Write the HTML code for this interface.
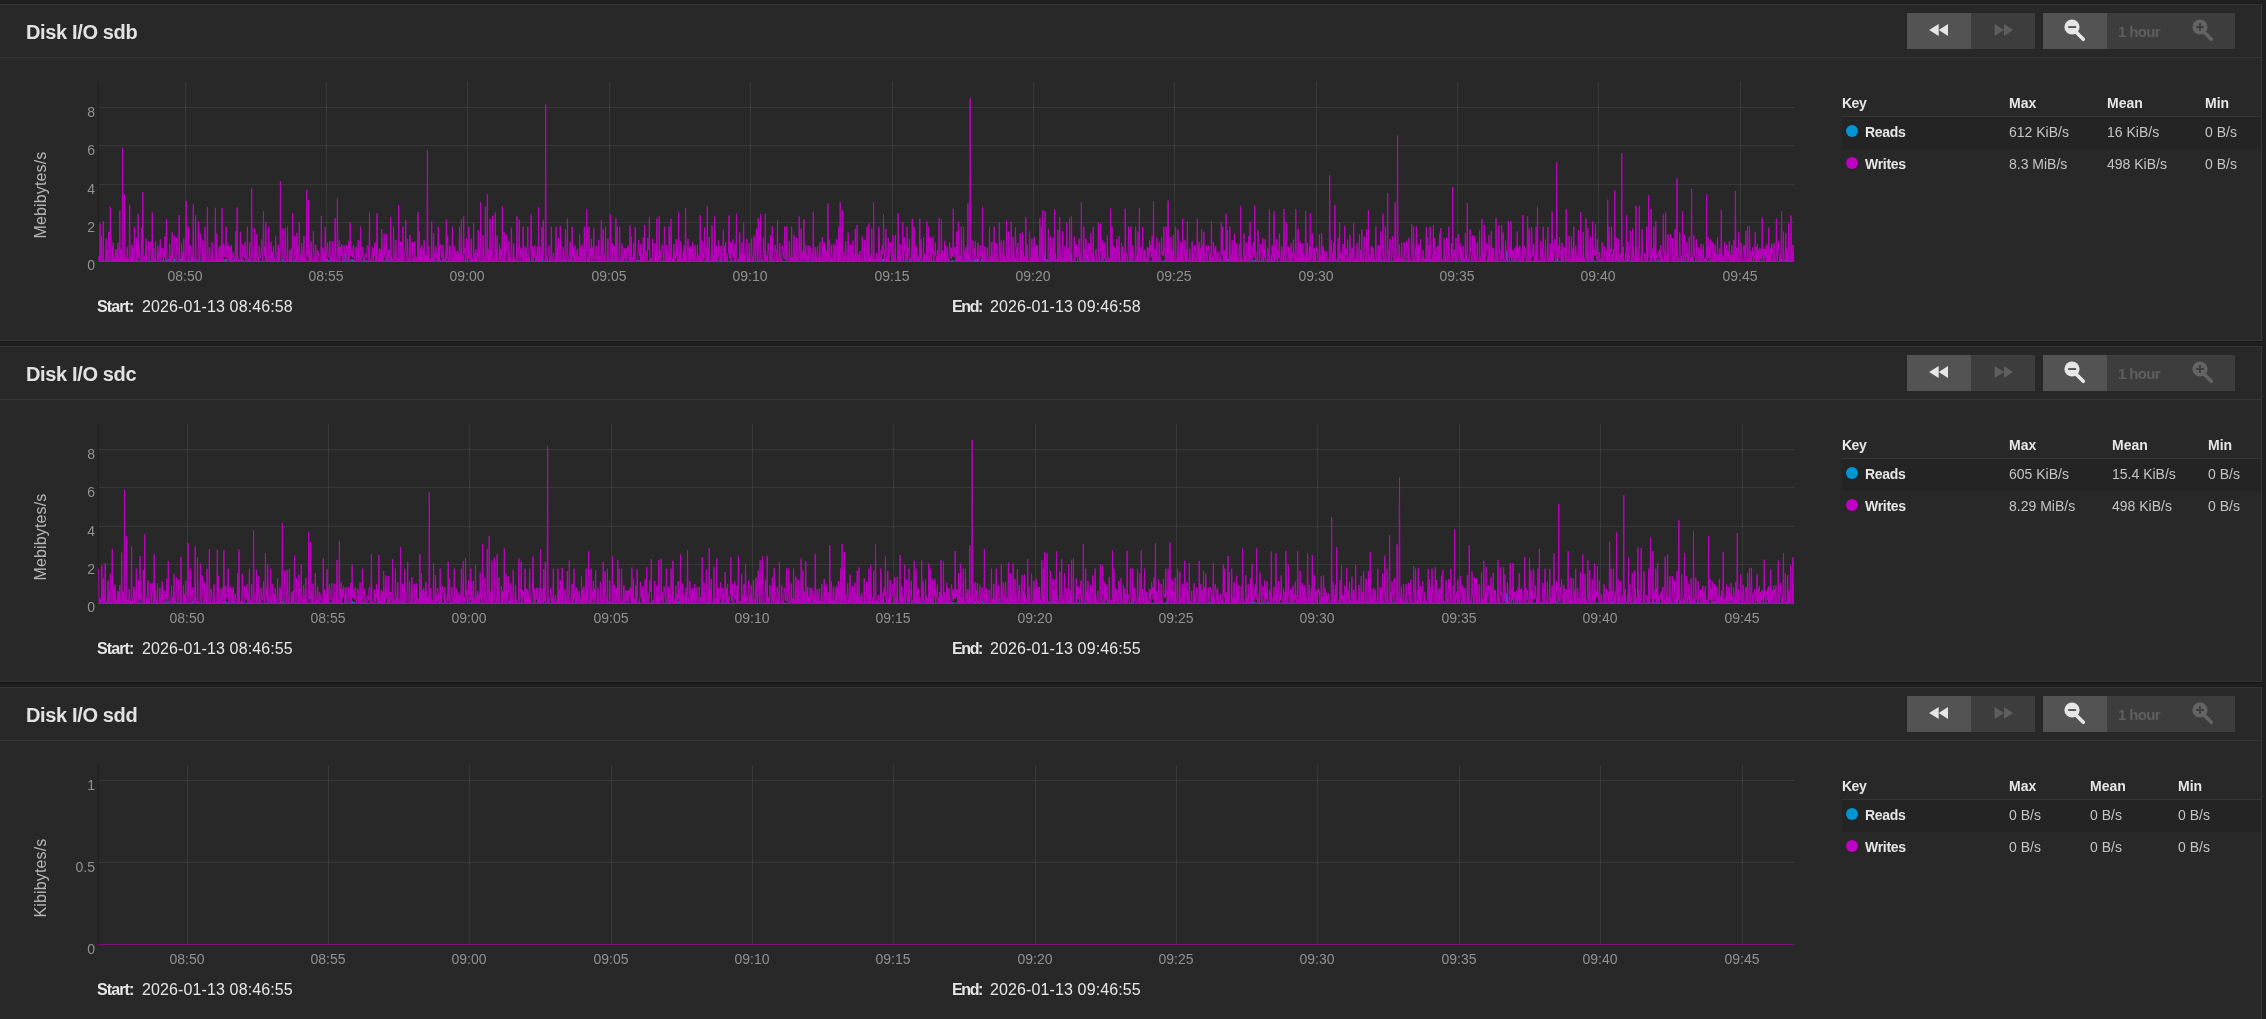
<!DOCTYPE html><html><head><meta charset="utf-8"><style>
html,body{margin:0;padding:0;}
body{-webkit-font-smoothing:antialiased;width:2266px;height:1019px;overflow:hidden;background:#1f1f1f;position:relative;font-family:"Liberation Sans", Arial, sans-serif;}
.t{position:absolute;white-space:nowrap;will-change:transform;}
.card{position:absolute;left:-10px;width:2270px;height:335px;background:#282828;border:1px solid #363636;box-shadow:0 1px 0 #141414,0 -1px 0 #1c1c1c;}
.hr{position:absolute;height:1px;background:#363636;}
.btn{position:absolute;height:36px;}
svg{position:absolute;overflow:visible;}

</style></head><body>
<div class="card" style="top:4px;height:335px"></div>
<div class="hr" style="left:0;width:2261px;top:57px"></div>
<div class="t" style="left:25.90px;top:22.07px;font-size:20px;line-height:20px;font-weight:bold;color:#e2e2e2;letter-spacing:-0.36px;">Disk I/O sdb</div>
<div class="btn" style="left:1907px;top:13px;width:64px;background:#535353"></div>
<div class="btn" style="left:1971px;top:13px;width:64px;background:#3d3d3d"></div>
<div class="btn" style="left:2043px;top:13px;width:64px;background:#535353"></div>
<div class="btn" style="left:2107px;top:13px;width:128px;background:#3d3d3d"></div>
<svg style="left:0;top:13px" width="2266" height="36" viewBox="0 13 2266 36"><path d="M1929.1 30L1938.7 24V36Z M1938.8 30L1948 24V36Z" fill="#e6e6e6"/><path d="M1994.6 24V36L2004 30Z M2004 24V36L2013.2 30Z" fill="#5e5e5e"/><line x1="2076" y1="32" x2="2083.3" y2="39.3" stroke="#e6e6e6" stroke-width="3.6" stroke-linecap="round"/><circle cx="2072" cy="27" r="7.6" fill="#e6e6e6"/><rect x="2068.2" y="26.1" width="7.9" height="1.9" fill="#535353"/><line x1="2204" y1="32" x2="2211.3" y2="39.3" stroke="#646464" stroke-width="3.6" stroke-linecap="round"/><circle cx="2200" cy="27" r="7.6" fill="#646464"/><rect x="2196.1" y="26.1" width="7.9" height="1.9" fill="#3d3d3d"/><rect x="2199.05" y="23.1" width="1.9" height="7.9" fill="#3d3d3d"/></svg>
<div class="t" style="left:1939.00px;width:400px;text-align:center;top:24.30px;font-size:15px;line-height:15px;font-weight:bold;color:#5e5e5e;letter-spacing:-0.6px;">1 hour</div>
<svg style="left:0;top:0" width="2266" height="1019" viewBox="0 0 2266 1019"><line x1="99" y1="222.5" x2="1795" y2="222.5" stroke="rgba(255,255,255,0.08)" stroke-width="1"/><line x1="99" y1="184.5" x2="1795" y2="184.5" stroke="rgba(255,255,255,0.08)" stroke-width="1"/><line x1="99" y1="145.5" x2="1795" y2="145.5" stroke="rgba(255,255,255,0.08)" stroke-width="1"/><line x1="99" y1="107.5" x2="1795" y2="107.5" stroke="rgba(255,255,255,0.08)" stroke-width="1"/><line x1="185.5" y1="82" x2="185.5" y2="261.8" stroke="rgba(255,255,255,0.08)" stroke-width="1"/><line x1="326.5" y1="82" x2="326.5" y2="261.8" stroke="rgba(255,255,255,0.08)" stroke-width="1"/><line x1="467.5" y1="82" x2="467.5" y2="261.8" stroke="rgba(255,255,255,0.08)" stroke-width="1"/><line x1="609.5" y1="82" x2="609.5" y2="261.8" stroke="rgba(255,255,255,0.08)" stroke-width="1"/><line x1="750.5" y1="82" x2="750.5" y2="261.8" stroke="rgba(255,255,255,0.08)" stroke-width="1"/><line x1="892.5" y1="82" x2="892.5" y2="261.8" stroke="rgba(255,255,255,0.08)" stroke-width="1"/><line x1="1033.5" y1="82" x2="1033.5" y2="261.8" stroke="rgba(255,255,255,0.08)" stroke-width="1"/><line x1="1174.5" y1="82" x2="1174.5" y2="261.8" stroke="rgba(255,255,255,0.08)" stroke-width="1"/><line x1="1316.5" y1="82" x2="1316.5" y2="261.8" stroke="rgba(255,255,255,0.08)" stroke-width="1"/><line x1="1457.5" y1="82" x2="1457.5" y2="261.8" stroke="rgba(255,255,255,0.08)" stroke-width="1"/><line x1="1598.5" y1="82" x2="1598.5" y2="261.8" stroke="rgba(255,255,255,0.08)" stroke-width="1"/><line x1="1740.5" y1="82" x2="1740.5" y2="261.8" stroke="rgba(255,255,255,0.08)" stroke-width="1"/><line x1="98.5" y1="82" x2="98.5" y2="261.8" stroke="#202020" stroke-width="1"/><polyline points="98.6,261.3 99.0,261.3 99.5,261.3 100.0,261.3 100.4,261.3 100.9,261.3 101.4,261.3 101.9,261.3 102.3,261.3 102.8,261.3 103.3,261.3 103.7,261.3 104.2,261.3 104.7,261.3 105.2,261.3 105.6,261.3 106.1,261.3 106.6,260.0 107.0,261.3 107.5,261.2 108.0,261.3 108.5,261.3 108.9,261.3 109.4,261.3 109.9,261.3 110.3,261.3 110.8,261.3 111.3,261.3 111.8,261.3 112.2,261.3 112.7,261.3 113.2,261.3 113.6,261.3 114.1,261.3 114.6,261.3 115.0,261.3 115.5,261.3 116.0,261.3 116.5,261.3 116.9,261.3 117.4,261.3 117.9,261.3 118.3,261.3 118.8,261.3 119.3,261.3 119.8,261.3 120.2,261.3 120.7,261.3 121.2,261.0 121.6,261.3 122.1,261.3 122.6,261.3 123.1,261.3 123.5,261.3 124.0,261.3 124.5,261.3 124.9,261.3 125.4,261.3 125.9,261.3 126.4,261.3 126.8,261.3 127.3,261.3 127.8,261.3 128.2,261.3 128.7,260.2 129.2,261.3 129.7,261.3 130.1,261.3 130.6,261.3 131.1,259.4 131.5,261.3 132.0,261.3 132.5,261.3 133.0,261.3 133.4,261.3 133.9,261.3 134.4,261.3 134.8,261.3 135.3,261.3 135.8,261.3 136.3,261.3 136.7,261.3 137.2,261.3 137.7,261.3 138.1,261.3 138.6,261.3 139.1,261.3 139.5,261.3 140.0,261.3 140.5,261.3 141.0,261.3 141.4,261.3 141.9,261.3 142.4,261.0 142.8,261.3 143.3,261.3 143.8,261.3 144.3,261.3 144.7,261.3 145.2,261.3 145.7,261.3 146.1,261.3 146.6,261.3 147.1,261.3 147.6,259.7 148.0,261.3 148.5,261.3 149.0,261.3 149.4,261.3 149.9,261.3 150.4,261.3 150.9,261.3 151.3,261.3 151.8,261.3 152.3,261.3 152.7,261.3 153.2,261.3 153.7,261.3 154.2,261.3 154.6,261.3 155.1,261.3 155.6,261.3 156.0,261.3 156.5,261.3 157.0,261.3 157.5,261.3 157.9,261.3 158.4,261.3 158.9,261.3 159.3,261.3 159.8,261.3 160.3,261.3 160.8,261.3 161.2,261.3 161.7,261.3 162.2,261.3 162.6,260.2 163.1,261.3 163.6,261.3 164.0,261.3 164.5,261.3 165.0,261.3 165.5,261.3 165.9,261.3 166.4,261.3 166.9,260.1 167.3,261.3 167.8,261.3 168.3,261.3 168.8,261.3 169.2,259.3 169.7,261.3 170.2,261.3 170.6,261.3 171.1,261.3 171.6,261.3 172.1,261.3 172.5,261.3 173.0,261.3 173.5,261.3 173.9,261.3 174.4,259.3 174.9,261.3 175.4,261.3 175.8,261.3 176.3,261.3 176.8,261.3 177.2,261.3 177.7,261.3 178.2,261.3 178.7,261.3 179.1,261.3 179.6,261.3 180.1,260.3 180.5,261.3 181.0,259.1 181.5,261.3 182.0,261.3 182.4,261.3 182.9,261.3 183.4,261.3 183.8,261.3 184.3,261.3 184.8,261.3 185.3,261.3 185.7,261.3 186.2,261.3 186.7,261.3 187.1,261.3 187.6,261.3 188.1,261.3 188.6,261.3 189.0,261.3 189.5,261.3 190.0,261.3 190.4,261.3 190.9,261.3 191.4,260.4 191.8,261.3 192.3,259.6 192.8,261.3 193.3,261.3 193.7,261.3 194.2,261.3 194.7,261.3 195.1,261.3 195.6,261.3 196.1,259.8 196.6,261.3 197.0,261.3 197.5,261.3 198.0,261.3 198.4,259.8 198.9,261.3 199.4,261.3 199.9,261.3 200.3,261.3 200.8,261.3 201.3,261.3 201.7,261.3 202.2,261.3 202.7,261.3 203.2,261.3 203.6,261.3 204.1,261.3 204.6,261.3 205.0,261.3 205.5,261.3 206.0,261.3 206.5,261.3 206.9,261.3 207.4,261.3 207.9,261.3 208.3,261.3 208.8,261.3 209.3,261.3 209.8,261.3 210.2,261.3 210.7,261.3 211.2,261.3 211.6,261.3 212.1,261.3 212.6,261.3 213.1,261.3 213.5,261.3 214.0,261.3 214.5,261.3 214.9,261.3 215.4,261.3 215.9,261.3 216.3,261.3 216.8,261.3 217.3,261.3 217.8,261.3 218.2,261.3 218.7,261.3 219.2,261.3 219.6,261.3 220.1,261.3 220.6,261.3 221.1,261.3 221.5,261.3 222.0,261.3 222.5,261.3 222.9,261.3 223.4,261.3 223.9,259.7 224.4,261.3 224.8,260.7 225.3,261.3 225.8,259.4 226.2,261.3 226.7,261.3 227.2,261.3 227.7,261.3 228.1,261.3 228.6,261.3 229.1,261.3 229.5,261.3 230.0,261.3 230.5,261.3 231.0,261.3 231.4,261.3 231.9,261.3 232.4,261.3 232.8,260.8 233.3,260.4 233.8,261.3 234.3,259.4 234.7,261.3 235.2,261.3 235.7,261.3 236.1,261.3 236.6,261.3 237.1,261.3 237.6,261.3 238.0,261.3 238.5,261.3 239.0,261.3 239.4,261.3 239.9,261.3 240.4,261.3 240.8,261.3 241.3,261.3 241.8,259.5 242.3,261.1 242.7,261.3 243.2,261.3 243.7,261.3 244.1,261.3 244.6,261.3 245.1,261.3 245.6,261.3 246.0,261.3 246.5,261.3 247.0,261.3 247.4,261.3 247.9,261.3 248.4,261.3 248.9,261.3 249.3,261.3 249.8,261.3 250.3,261.3 250.7,261.3 251.2,261.3 251.7,261.3 252.2,261.3 252.6,261.3 253.1,261.3 253.6,261.3 254.0,261.3 254.5,261.3 255.0,261.3 255.5,261.3 255.9,261.3 256.4,261.3 256.9,261.3 257.3,261.3 257.8,261.3 258.3,261.3 258.8,261.3 259.2,261.3 259.7,261.3 260.2,261.3 260.6,261.3 261.1,261.3 261.6,261.3 262.1,261.3 262.5,261.3 263.0,261.3 263.5,261.3 263.9,261.3 264.4,261.3 264.9,261.3 265.4,261.3 265.8,261.3 266.3,261.3 266.8,261.3 267.2,261.3 267.7,261.3 268.2,261.3 268.6,261.3 269.1,261.3 269.6,261.3 270.1,261.3 270.5,261.3 271.0,260.5 271.5,261.3 271.9,261.3 272.4,261.3 272.9,261.3 273.4,261.3 273.8,261.3 274.3,261.3 274.8,261.3 275.2,261.3 275.7,261.3 276.2,261.3 276.7,261.3 277.1,261.3 277.6,261.3 278.1,261.3 278.5,261.3 279.0,261.3 279.5,261.3 280.0,261.3 280.4,261.3 280.9,261.3 281.4,261.3 281.8,259.1 282.3,261.3 282.8,261.3 283.3,260.6 283.7,261.3 284.2,261.3 284.7,261.3 285.1,261.3 285.6,261.3 286.1,261.3 286.6,261.3 287.0,261.3 287.5,261.3 288.0,261.3 288.4,261.3 288.9,261.3 289.4,261.3 289.9,261.3 290.3,261.3 290.8,261.3 291.3,261.3 291.7,261.3 292.2,261.3 292.7,261.3 293.1,261.3 293.6,261.3 294.1,261.3 294.6,261.0 295.0,261.3 295.5,261.3 296.0,261.3 296.4,261.3 296.9,261.3 297.4,261.3 297.9,261.3 298.3,261.3 298.8,261.3 299.3,261.3 299.7,261.3 300.2,261.3 300.7,261.3 301.2,261.3 301.6,261.3 302.1,261.3 302.6,261.3 303.0,261.3 303.5,261.3 304.0,261.3 304.5,261.3 304.9,261.3 305.4,261.3 305.9,261.3 306.3,261.3 306.8,261.3 307.3,261.3 307.8,261.3 308.2,261.3 308.7,261.3 309.2,261.3 309.6,261.3 310.1,261.3 310.6,261.3 311.1,261.3 311.5,261.3 312.0,261.3 312.5,261.3 312.9,261.3 313.4,261.3 313.9,261.3 314.4,261.3 314.8,261.3 315.3,260.2 315.8,261.3 316.2,261.3 316.7,261.3 317.2,261.3 317.7,261.3 318.1,261.3 318.6,261.3 319.1,261.3 319.5,261.3 320.0,261.3 320.5,261.3 320.9,261.3 321.4,261.3 321.9,261.3 322.4,261.3 322.8,261.3 323.3,261.3 323.8,261.3 324.2,261.3 324.7,261.3 325.2,261.3 325.7,261.3 326.1,261.3 326.6,261.3 327.1,261.3 327.5,259.1 328.0,261.3 328.5,261.3 329.0,261.3 329.4,260.3 329.9,261.3 330.4,261.3 330.8,260.8 331.3,261.3 331.8,261.3 332.3,261.3 332.7,261.0 333.2,261.3 333.7,261.3 334.1,261.3 334.6,261.3 335.1,261.3 335.6,261.3 336.0,261.3 336.5,261.3 337.0,261.3 337.4,261.3 337.9,261.3 338.4,261.3 338.9,261.3 339.3,261.3 339.8,261.3 340.3,261.3 340.7,261.3 341.2,261.3 341.7,261.3 342.2,261.3 342.6,261.3 343.1,261.3 343.6,261.3 344.0,261.3 344.5,261.3 345.0,261.3 345.4,253.6 345.9,261.3 346.4,261.3 346.9,261.3 347.3,261.3 347.8,261.3 348.3,261.3 348.7,261.3 349.2,261.3 349.7,261.3 350.2,261.3 350.6,261.3 351.1,261.3 351.6,261.3 352.0,259.3 352.5,261.3 353.0,261.3 353.5,261.3 353.9,260.0 354.4,261.3 354.9,261.3 355.3,261.3 355.8,261.3 356.3,261.3 356.8,261.3 357.2,261.3 357.7,261.3 358.2,261.3 358.6,261.3 359.1,261.3 359.6,261.3 360.1,261.3 360.5,261.3 361.0,260.7 361.5,261.3 361.9,261.3 362.4,261.3 362.9,261.3 363.4,261.3 363.8,261.3 364.3,261.3 364.8,261.3 365.2,261.3 365.7,261.3 366.2,261.3 366.7,260.3 367.1,261.3 367.6,261.3 368.1,261.3 368.5,261.3 369.0,261.3 369.5,261.3 369.9,261.3 370.4,261.3 370.9,261.3 371.4,261.3 371.8,261.3 372.3,261.3 372.8,261.3 373.2,261.3 373.7,261.3 374.2,261.3 374.7,261.3 375.1,261.0 375.6,261.3 376.1,261.3 376.5,261.3 377.0,261.3 377.5,261.3 378.0,261.3 378.4,261.3 378.9,261.3 379.4,259.3 379.8,261.3 380.3,261.3 380.8,261.3 381.3,261.3 381.7,261.3 382.2,261.3 382.7,261.3 383.1,261.3 383.6,261.3 384.1,261.3 384.6,261.3 385.0,261.3 385.5,260.7 386.0,261.3 386.4,261.3 386.9,261.3 387.4,261.3 387.9,259.6 388.3,261.3 388.8,261.3 389.3,261.3 389.7,261.3 390.2,261.3 390.7,261.3 391.2,261.3 391.6,261.3 392.1,261.3 392.6,261.3 393.0,261.3 393.5,261.3 394.0,261.3 394.5,261.3 394.9,261.3 395.4,261.3 395.9,261.3 396.3,261.3 396.8,261.3 397.3,261.3 397.7,261.3 398.2,261.3 398.7,261.3 399.2,261.3 399.6,259.8 400.1,261.3 400.6,261.3 401.0,261.3 401.5,261.3 402.0,259.7 402.5,261.3 402.9,261.3 403.4,261.3 403.9,261.3 404.3,261.3 404.8,261.3 405.3,261.3 405.8,261.3 406.2,261.3 406.7,261.3 407.2,261.3 407.6,261.3 408.1,261.3 408.6,261.3 409.1,261.3 409.5,261.3 410.0,261.3 410.5,261.3 410.9,260.6 411.4,261.3 411.9,261.3 412.4,261.3 412.8,261.3 413.3,261.3 413.8,260.2 414.2,261.3 414.7,261.3 415.2,261.3 415.7,261.3 416.1,261.0 416.6,261.3 417.1,261.3 417.5,261.0 418.0,261.3 418.5,261.3 419.0,261.3 419.4,261.3 419.9,261.3 420.4,261.3 420.8,250.4 421.3,261.3 421.8,261.3 422.2,261.3 422.7,261.3 423.2,261.3 423.7,261.3 424.1,261.3 424.6,261.3 425.1,261.3 425.5,261.3 426.0,261.3 426.5,261.3 427.0,261.3 427.4,261.0 427.9,260.8 428.4,261.3 428.8,261.3 429.3,261.3 429.8,261.3 430.3,261.3 430.7,261.3 431.2,261.3 431.7,261.3 432.1,261.3 432.6,261.3 433.1,261.3 433.6,261.3 434.0,261.3 434.5,261.3 435.0,261.3 435.4,261.3 435.9,261.3 436.4,261.3 436.9,261.3 437.3,261.3 437.8,261.3 438.3,261.3 438.7,261.3 439.2,261.3 439.7,259.9 440.2,261.3 440.6,261.3 441.1,261.3 441.6,261.3 442.0,261.3 442.5,261.3 443.0,261.3 443.5,261.3 443.9,261.2 444.4,261.3 444.9,261.3 445.3,259.1 445.8,261.3 446.3,261.3 446.7,261.3 447.2,261.3 447.7,261.3 448.2,261.3 448.6,261.3 449.1,261.3 449.6,261.3 450.0,261.3 450.5,261.3 451.0,261.3 451.5,261.3 451.9,261.3 452.4,261.3 452.9,261.3 453.3,261.3 453.8,261.3 454.3,261.3 454.8,261.3 455.2,261.3 455.7,261.3 456.2,261.3 456.6,259.3 457.1,260.7 457.6,261.3 458.1,261.3 458.5,261.3 459.0,261.3 459.5,261.3 459.9,261.3 460.4,261.3 460.9,261.3 461.4,261.3 461.8,261.3 462.3,261.3 462.8,261.3 463.2,261.3 463.7,261.3 464.2,261.3 464.7,261.3 465.1,261.3 465.6,261.3 466.1,261.3 466.5,261.3 467.0,261.3 467.5,261.3 468.0,261.3 468.4,261.3 468.9,261.3 469.4,261.3 469.8,260.1 470.3,261.3 470.8,261.3 471.3,261.3 471.7,261.1 472.2,261.3 472.7,261.3 473.1,261.3 473.6,261.3 474.1,261.3 474.5,261.3 475.0,261.3 475.5,261.3 476.0,260.0 476.4,261.3 476.9,261.3 477.4,261.3 477.8,261.3 478.3,261.3 478.8,261.3 479.3,261.1 479.7,261.3 480.2,261.3 480.7,261.3 481.1,261.3 481.6,261.3 482.1,261.3 482.6,261.3 483.0,261.3 483.5,261.3 484.0,261.3 484.4,261.3 484.9,261.3 485.4,261.3 485.9,261.3 486.3,261.3 486.8,261.3 487.3,261.3 487.7,261.3 488.2,261.3 488.7,261.3 489.2,261.3 489.6,261.3 490.1,261.3 490.6,261.3 491.0,261.3 491.5,261.3 492.0,261.3 492.5,261.3 492.9,261.3 493.4,260.6 493.9,261.3 494.3,261.3 494.8,261.3 495.3,261.3 495.8,260.5 496.2,261.3 496.7,261.3 497.2,261.3 497.6,261.3 498.1,261.3 498.6,261.3 499.0,261.3 499.5,261.3 500.0,261.3 500.5,261.3 500.9,261.3 501.4,261.3 501.9,261.3 502.3,261.3 502.8,261.3 503.3,261.3 503.8,261.3 504.2,261.3 504.7,261.3 505.2,261.3 505.6,261.3 506.1,261.3 506.6,261.3 507.1,261.3 507.5,261.3 508.0,261.3 508.5,260.8 508.9,261.3 509.4,259.0 509.9,261.3 510.4,261.3 510.8,261.3 511.3,261.3 511.8,261.3 512.2,261.3 512.7,261.3 513.2,261.3 513.7,261.3 514.1,261.3 514.6,261.3 515.1,261.3 515.5,261.3 516.0,261.3 516.5,261.3 517.0,261.3 517.4,261.3 517.9,261.3 518.4,261.3 518.8,261.3 519.3,261.3 519.8,261.3 520.3,261.3 520.7,261.3 521.2,261.3 521.7,261.3 522.1,261.3 522.6,261.3 523.1,261.3 523.5,261.3 524.0,261.3 524.5,261.3 525.0,261.3 525.4,261.3 525.9,261.3 526.4,261.3 526.8,261.3 527.3,261.3 527.8,261.3 528.3,261.3 528.7,261.3 529.2,261.3 529.7,261.3 530.1,261.3 530.6,261.3 531.1,261.3 531.6,261.3 532.0,261.3 532.5,261.3 533.0,261.3 533.4,261.3 533.9,261.3 534.4,261.3 534.9,261.3 535.3,261.3 535.8,261.3 536.3,261.3 536.7,261.3 537.2,261.3 537.7,261.3 538.2,261.3 538.6,261.3 539.1,261.0 539.6,261.3 540.0,259.6 540.5,261.3 541.0,261.3 541.5,260.2 541.9,259.2 542.4,261.3 542.9,261.3 543.3,261.3 543.8,261.3 544.3,261.3 544.8,261.3 545.2,261.3 545.7,261.3 546.2,261.3 546.6,261.3 547.1,261.3 547.6,261.3 548.1,261.3 548.5,261.3 549.0,261.3 549.5,261.3 549.9,261.3 550.4,261.3 550.9,261.3 551.3,261.3 551.8,261.3 552.3,261.3 552.8,261.3 553.2,261.3 553.7,261.3 554.2,261.3 554.6,261.3 555.1,261.3 555.6,261.3 556.1,261.3 556.5,261.3 557.0,261.3 557.5,261.3 557.9,261.3 558.4,259.8 558.9,261.3 559.4,261.3 559.8,261.3 560.3,260.0 560.8,261.3 561.2,261.3 561.7,261.3 562.2,261.3 562.7,261.3 563.1,261.3 563.6,261.3 564.1,261.3 564.5,261.3 565.0,259.9 565.5,261.3 566.0,261.3 566.4,261.3 566.9,261.3 567.4,261.3 567.8,261.3 568.3,261.3 568.8,261.3 569.3,261.3 569.7,261.3 570.2,261.3 570.7,261.3 571.1,261.3 571.6,261.3 572.1,261.3 572.6,261.3 573.0,261.3 573.5,261.3 574.0,261.3 574.4,261.3 574.9,261.3 575.4,261.3 575.8,261.3 576.3,261.3 576.8,261.3 577.3,261.3 577.7,261.3 578.2,261.3 578.7,261.3 579.1,261.3 579.6,261.3 580.1,261.3 580.6,261.3 581.0,261.3 581.5,261.3 582.0,261.3 582.4,261.3 582.9,261.3 583.4,261.3 583.9,261.3 584.3,261.3 584.8,261.3 585.3,261.3 585.7,261.3 586.2,261.3 586.7,261.3 587.2,261.3 587.6,261.3 588.1,261.3 588.6,261.3 589.0,261.3 589.5,261.0 590.0,261.3 590.5,261.3 590.9,261.3 591.4,261.3 591.9,261.3 592.3,261.3 592.8,261.3 593.3,261.3 593.8,261.3 594.2,261.3 594.7,261.3 595.2,261.3 595.6,261.3 596.1,261.3 596.6,261.3 597.1,261.3 597.5,261.3 598.0,261.3 598.5,261.3 598.9,261.3 599.4,261.3 599.9,261.3 600.4,261.3 600.8,261.3 601.3,261.3 601.8,261.3 602.2,261.3 602.7,261.3 603.2,261.3 603.6,261.3 604.1,261.3 604.6,261.3 605.1,261.3 605.5,261.3 606.0,260.8 606.5,261.3 606.9,261.3 607.4,261.3 607.9,261.3 608.4,261.3 608.8,259.6 609.3,261.3 609.8,261.3 610.2,261.3 610.7,261.3 611.2,261.3 611.7,261.3 612.1,261.3 612.6,261.3 613.1,260.2 613.5,261.3 614.0,261.3 614.5,261.3 615.0,261.3 615.4,261.3 615.9,261.3 616.4,261.3 616.8,261.3 617.3,261.3 617.8,261.3 618.3,261.3 618.7,261.3 619.2,261.3 619.7,261.3 620.1,261.3 620.6,261.3 621.1,261.3 621.6,261.3 622.0,261.3 622.5,261.3 623.0,261.3 623.4,261.3 623.9,261.3 624.4,261.3 624.9,261.3 625.3,261.3 625.8,261.3 626.3,261.3 626.7,261.3 627.2,261.3 627.7,261.3 628.1,261.3 628.6,261.1 629.1,261.3 629.6,261.3 630.0,261.3 630.5,261.3 631.0,261.3 631.4,261.3 631.9,261.3 632.4,261.3 632.9,261.3 633.3,261.3 633.8,261.3 634.3,261.3 634.7,261.3 635.2,261.3 635.7,261.3 636.2,261.3 636.6,261.3 637.1,261.3 637.6,261.3 638.0,261.3 638.5,261.3 639.0,260.1 639.5,261.3 639.9,261.3 640.4,261.3 640.9,261.3 641.3,261.3 641.8,261.3 642.3,261.3 642.8,261.3 643.2,261.3 643.7,261.3 644.2,261.3 644.6,261.3 645.1,261.3 645.6,261.3 646.1,261.3 646.5,261.3 647.0,261.3 647.5,261.3 647.9,261.3 648.4,261.3 648.9,261.3 649.4,261.3 649.8,261.3 650.3,261.3 650.8,261.3 651.2,261.3 651.7,260.6 652.2,261.3 652.6,261.3 653.1,261.3 653.6,261.3 654.1,261.3 654.5,261.3 655.0,261.3 655.5,261.3 655.9,261.3 656.4,261.3 656.9,261.3 657.4,261.3 657.8,261.3 658.3,261.3 658.8,261.3 659.2,261.3 659.7,261.3 660.2,261.3 660.7,261.3 661.1,261.3 661.6,261.3 662.1,261.3 662.5,261.3 663.0,261.3 663.5,261.3 664.0,261.3 664.4,261.3 664.9,261.3 665.4,261.3 665.8,261.3 666.3,261.3 666.8,261.3 667.3,261.3 667.7,261.3 668.2,261.3 668.7,261.3 669.1,261.3 669.6,261.3 670.1,261.3 670.6,261.3 671.0,261.3 671.5,261.3 672.0,261.3 672.4,261.3 672.9,261.3 673.4,261.3 673.9,261.3 674.3,261.3 674.8,261.3 675.3,261.3 675.7,261.3 676.2,261.3 676.7,261.3 677.2,261.3 677.6,261.3 678.1,259.6 678.6,261.3 679.0,261.1 679.5,261.3 680.0,259.5 680.4,261.3 680.9,261.3 681.4,261.3 681.9,261.3 682.3,261.3 682.8,261.3 683.3,261.3 683.7,261.3 684.2,261.3 684.7,261.3 685.2,261.3 685.6,261.3 686.1,261.3 686.6,261.3 687.0,261.3 687.5,261.3 688.0,261.3 688.5,261.3 688.9,261.3 689.4,261.3 689.9,261.3 690.3,261.3 690.8,261.3 691.3,261.3 691.8,261.3 692.2,261.3 692.7,261.3 693.2,261.3 693.6,261.3 694.1,261.3 694.6,261.3 695.1,261.3 695.5,261.3 696.0,261.3 696.5,261.3 696.9,261.3 697.4,261.3 697.9,261.3 698.4,261.3 698.8,261.3 699.3,261.3 699.8,261.3 700.2,261.3 700.7,261.3 701.2,261.3 701.7,261.3 702.1,261.3 702.6,261.3 703.1,261.3 703.5,261.3 704.0,261.3 704.5,261.2 704.9,261.3 705.4,261.3 705.9,261.3 706.4,260.1 706.8,261.3 707.3,261.3 707.8,261.3 708.2,261.3 708.7,261.3 709.2,261.3 709.7,261.3 710.1,261.3 710.6,261.3 711.1,260.8 711.5,261.3 712.0,261.3 712.5,261.3 713.0,261.3 713.4,260.5 713.9,261.3 714.4,261.3 714.8,261.3 715.3,261.3 715.8,261.3 716.3,261.3 716.7,261.3 717.2,261.3 717.7,261.3 718.1,261.3 718.6,261.3 719.1,261.3 719.6,261.3 720.0,261.3 720.5,261.3 721.0,261.3 721.4,261.3 721.9,261.3 722.4,261.3 722.9,261.3 723.3,261.3 723.8,261.3 724.3,261.3 724.7,261.3 725.2,260.5 725.7,261.3 726.2,261.3 726.6,261.3 727.1,261.3 727.6,261.3 728.0,261.3 728.5,261.3 729.0,261.3 729.4,261.3 729.9,261.3 730.4,261.3 730.9,261.3 731.3,261.3 731.8,261.3 732.3,261.3 732.7,261.3 733.2,261.3 733.7,261.3 734.2,261.3 734.6,261.3 735.1,261.3 735.6,261.3 736.0,261.3 736.5,261.3 737.0,261.3 737.5,261.3 737.9,261.3 738.4,261.3 738.9,261.3 739.3,261.3 739.8,261.3 740.3,261.3 740.8,261.3 741.2,261.3 741.7,261.3 742.2,261.3 742.6,259.8 743.1,261.3 743.6,261.3 744.1,261.3 744.5,261.3 745.0,261.3 745.5,261.3 745.9,261.3 746.4,261.3 746.9,261.3 747.4,261.3 747.8,261.3 748.3,261.3 748.8,261.3 749.2,261.3 749.7,261.3 750.2,261.3 750.7,261.3 751.1,261.3 751.6,261.3 752.1,261.3 752.5,261.3 753.0,261.3 753.5,261.3 754.0,261.3 754.4,261.3 754.9,261.3 755.4,261.3 755.8,261.3 756.3,261.3 756.8,261.3 757.2,261.3 757.7,261.3 758.2,261.3 758.7,261.3 759.1,261.3 759.6,261.3 760.1,261.3 760.5,261.3 761.0,261.3 761.5,261.3 762.0,261.3 762.4,261.3 762.9,261.3 763.4,261.1 763.8,261.3 764.3,261.3 764.8,261.3 765.3,261.3 765.7,261.3 766.2,261.3 766.7,261.3 767.1,260.1 767.6,261.3 768.1,261.3 768.6,261.3 769.0,261.3 769.5,261.3 770.0,261.3 770.4,261.3 770.9,261.3 771.4,261.3 771.9,261.3 772.3,261.3 772.8,261.3 773.3,261.3 773.7,261.3 774.2,261.3 774.7,261.3 775.2,261.3 775.6,261.3 776.1,261.3 776.6,261.3 777.0,261.3 777.5,261.3 778.0,259.8 778.5,261.3 778.9,261.3 779.4,261.3 779.9,261.3 780.3,261.3 780.8,261.3 781.3,261.3 781.7,261.3 782.2,261.3 782.7,261.3 783.2,261.3 783.6,261.3 784.1,261.3 784.6,261.3 785.0,261.3 785.5,261.3 786.0,261.3 786.5,261.3 786.9,261.3 787.4,261.3 787.9,261.3 788.3,261.3 788.8,261.3 789.3,261.3 789.8,261.3 790.2,261.3 790.7,261.3 791.2,261.3 791.6,261.3 792.1,261.3 792.6,261.3 793.1,261.3 793.5,261.3 794.0,261.3 794.5,261.3 794.9,261.3 795.4,261.3 795.9,261.3 796.4,261.3 796.8,261.3 797.3,261.3 797.8,261.3 798.2,261.3 798.7,261.3 799.2,261.3 799.7,261.3 800.1,261.3 800.6,261.3 801.1,261.3 801.5,261.3 802.0,261.3 802.5,261.3 803.0,261.3 803.4,261.3 803.9,261.3 804.4,261.3 804.8,261.3 805.3,261.3 805.8,261.3 806.2,260.2 806.7,261.3 807.2,261.3 807.7,261.3 808.1,261.3 808.6,261.3 809.1,261.3 809.5,261.3 810.0,261.3 810.5,261.3 811.0,261.1 811.4,261.3 811.9,261.3 812.4,261.3 812.8,261.3 813.3,261.3 813.8,261.3 814.3,261.3 814.7,261.3 815.2,261.3 815.7,261.3 816.1,261.3 816.6,261.3 817.1,261.3 817.6,261.3 818.0,261.3 818.5,261.3 819.0,261.3 819.4,261.3 819.9,259.6 820.4,261.3 820.9,261.3 821.3,261.3 821.8,261.3 822.3,261.3 822.7,261.3 823.2,261.3 823.7,261.3 824.2,261.3 824.6,261.3 825.1,261.3 825.6,261.3 826.0,261.3 826.5,261.3 827.0,261.3 827.5,261.3 827.9,261.3 828.4,261.3 828.9,261.3 829.3,261.3 829.8,261.3 830.3,261.3 830.8,261.3 831.2,259.5 831.7,261.3 832.2,261.3 832.6,261.3 833.1,259.7 833.6,261.3 834.0,261.3 834.5,261.3 835.0,259.4 835.5,261.3 835.9,261.3 836.4,261.3 836.9,261.3 837.3,261.3 837.8,261.3 838.3,261.3 838.8,261.3 839.2,261.3 839.7,261.3 840.2,261.3 840.6,261.3 841.1,261.3 841.6,261.3 842.1,261.3 842.5,261.3 843.0,261.3 843.5,261.3 843.9,261.3 844.4,261.3 844.9,261.3 845.4,261.3 845.8,261.3 846.3,261.3 846.8,261.3 847.2,261.3 847.7,261.3 848.2,261.3 848.7,261.3 849.1,261.3 849.6,261.3 850.1,261.3 850.5,261.3 851.0,261.3 851.5,261.3 852.0,261.3 852.4,261.3 852.9,261.3 853.4,261.3 853.8,261.3 854.3,261.3 854.8,261.3 855.3,261.3 855.7,261.3 856.2,261.3 856.7,261.3 857.1,261.3 857.6,261.3 858.1,261.3 858.5,261.3 859.0,261.3 859.5,261.3 860.0,261.3 860.4,261.3 860.9,261.3 861.4,261.3 861.8,261.3 862.3,261.3 862.8,261.3 863.3,261.3 863.7,261.3 864.2,261.3 864.7,255.5 865.1,261.3 865.6,261.3 866.1,261.3 866.6,261.3 867.0,261.3 867.5,261.3 868.0,261.3 868.4,261.3 868.9,261.3 869.4,259.3 869.9,261.3 870.3,261.3 870.8,261.3 871.3,261.3 871.7,261.3 872.2,259.5 872.7,261.3 873.2,260.7 873.6,261.3 874.1,261.3 874.6,261.3 875.0,261.3 875.5,261.3 876.0,261.3 876.5,261.3 876.9,261.3 877.4,259.2 877.9,261.3 878.3,261.3 878.8,261.3 879.3,261.3 879.8,260.7 880.2,261.3 880.7,261.3 881.2,259.8 881.6,261.3 882.1,261.3 882.6,261.3 883.1,259.0 883.5,261.3 884.0,261.3 884.5,261.3 884.9,261.3 885.4,261.3 885.9,261.3 886.3,261.3 886.8,261.3 887.3,261.3 887.8,261.3 888.2,261.3 888.7,261.2 889.2,261.3 889.6,261.3 890.1,261.3 890.6,261.3 891.1,261.3 891.5,261.3 892.0,261.3 892.5,261.3 892.9,261.3 893.4,261.3 893.9,261.3 894.4,261.3 894.8,261.3 895.3,261.3 895.8,261.3 896.2,261.3 896.7,261.3 897.2,261.3 897.7,261.3 898.1,261.3 898.6,261.3 899.1,261.3 899.5,261.3 900.0,261.3 900.5,261.3 901.0,261.3 901.4,261.3 901.9,261.3 902.4,261.3 902.8,261.3 903.3,261.3 903.8,261.3 904.3,261.3 904.7,261.3 905.2,261.3 905.7,261.3 906.1,261.3 906.6,261.3 907.1,261.3 907.6,261.3 908.0,261.3 908.5,261.3 909.0,261.3 909.4,261.3 909.9,261.3 910.4,261.3 910.8,261.3 911.3,261.3 911.8,261.3 912.3,261.3 912.7,261.3 913.2,261.3 913.7,261.3 914.1,261.3 914.6,261.2 915.1,261.3 915.6,261.3 916.0,261.3 916.5,261.3 917.0,261.3 917.4,261.3 917.9,261.3 918.4,261.3 918.9,259.0 919.3,261.3 919.8,261.3 920.3,261.3 920.7,261.3 921.2,261.3 921.7,261.3 922.2,261.3 922.6,261.3 923.1,261.3 923.6,261.3 924.0,261.3 924.5,261.3 925.0,261.3 925.5,261.3 925.9,261.3 926.4,261.3 926.9,261.3 927.3,261.3 927.8,261.3 928.3,261.3 928.8,261.3 929.2,261.3 929.7,261.3 930.2,261.3 930.6,261.3 931.1,261.3 931.6,261.3 932.1,261.3 932.5,261.3 933.0,261.3 933.5,261.3 933.9,261.3 934.4,261.3 934.9,261.3 935.3,261.3 935.8,261.3 936.3,261.3 936.8,261.3 937.2,261.3 937.7,261.3 938.2,261.3 938.6,261.3 939.1,261.3 939.6,261.3 940.1,261.3 940.5,261.3 941.0,261.3 941.5,261.3 941.9,261.3 942.4,261.3 942.9,261.3 943.4,261.3 943.8,261.3 944.3,261.3 944.8,261.3 945.2,261.3 945.7,261.3 946.2,261.3 946.7,261.3 947.1,261.3 947.6,261.3 948.1,261.3 948.5,261.3 949.0,261.3 949.5,261.3 950.0,261.3 950.4,261.3 950.9,261.3 951.4,261.3 951.8,261.3 952.3,260.2 952.8,261.3 953.3,261.3 953.7,261.3 954.2,261.3 954.7,260.8 955.1,261.3 955.6,261.3 956.1,261.3 956.6,261.3 957.0,261.3 957.5,261.3 958.0,261.3 958.4,261.3 958.9,261.3 959.4,261.3 959.9,261.3 960.3,261.3 960.8,261.3 961.3,261.3 961.7,261.3 962.2,261.3 962.7,261.3 963.1,261.3 963.6,261.3 964.1,261.3 964.6,261.3 965.0,261.3 965.5,261.3 966.0,261.3 966.4,261.3 966.9,261.3 967.4,261.3 967.9,261.3 968.3,261.3 968.8,261.3 969.3,261.3 969.7,261.3 970.2,261.3 970.7,261.3 971.2,261.3 971.6,261.3 972.1,261.3 972.6,259.5 973.0,261.3 973.5,261.3 974.0,261.3 974.5,261.3 974.9,259.4 975.4,261.3 975.9,261.3 976.3,261.3 976.8,261.3 977.3,261.3 977.8,259.1 978.2,261.3 978.7,261.3 979.2,261.3 979.6,261.3 980.1,261.3 980.6,261.3 981.1,261.3 981.5,261.3 982.0,261.3 982.5,261.3 982.9,259.5 983.4,261.3 983.9,261.3 984.4,261.3 984.8,261.3 985.3,261.3 985.8,261.3 986.2,261.3 986.7,261.3 987.2,261.3 987.6,261.3 988.1,261.3 988.6,261.3 989.1,261.3 989.5,261.3 990.0,261.3 990.5,261.3 990.9,260.6 991.4,261.3 991.9,261.3 992.4,261.3 992.8,261.3 993.3,260.1 993.8,261.3 994.2,261.3 994.7,261.3 995.2,261.3 995.7,261.3 996.1,261.3 996.6,261.3 997.1,261.3 997.5,261.3 998.0,261.3 998.5,261.3 999.0,261.3 999.4,261.3 999.9,261.3 1000.4,261.3 1000.8,261.3 1001.3,261.3 1001.8,261.3 1002.3,261.3 1002.7,261.3 1003.2,261.3 1003.7,261.3 1004.1,261.3 1004.6,261.3 1005.1,261.3 1005.6,261.3 1006.0,261.3 1006.5,261.3 1007.0,261.3 1007.4,261.3 1007.9,261.3 1008.4,261.3 1008.9,261.3 1009.3,261.3 1009.8,261.3 1010.3,260.6 1010.7,261.3 1011.2,261.3 1011.7,261.3 1012.1,261.3 1012.6,261.3 1013.1,261.3 1013.6,261.3 1014.0,261.3 1014.5,261.3 1015.0,261.3 1015.4,261.3 1015.9,259.6 1016.4,261.3 1016.9,261.3 1017.3,261.3 1017.8,261.3 1018.3,261.3 1018.7,261.3 1019.2,261.3 1019.7,261.3 1020.2,261.3 1020.6,261.3 1021.1,261.3 1021.6,261.3 1022.0,261.3 1022.5,261.3 1023.0,261.3 1023.5,261.3 1023.9,261.3 1024.4,261.3 1024.9,261.3 1025.3,261.3 1025.8,261.3 1026.3,260.0 1026.8,261.3 1027.2,261.3 1027.7,261.3 1028.2,261.3 1028.6,261.3 1029.1,261.3 1029.6,261.3 1030.1,261.3 1030.5,261.3 1031.0,261.3 1031.5,261.3 1031.9,261.3 1032.4,261.3 1032.9,261.3 1033.4,261.3 1033.8,261.3 1034.3,261.3 1034.8,261.3 1035.2,261.3 1035.7,261.3 1036.2,261.3 1036.7,261.3 1037.1,261.3 1037.6,261.3 1038.1,261.3 1038.5,261.3 1039.0,261.3 1039.5,260.8 1039.9,261.3 1040.4,261.3 1040.9,261.3 1041.4,261.3 1041.8,261.3 1042.3,261.3 1042.8,261.3 1043.2,261.3 1043.7,261.3 1044.2,254.2 1044.7,261.3 1045.1,261.3 1045.6,261.3 1046.1,261.3 1046.5,261.3 1047.0,261.3 1047.5,259.7 1048.0,261.3 1048.4,261.3 1048.9,261.3 1049.4,261.3 1049.8,261.3 1050.3,261.3 1050.8,261.3 1051.3,260.2 1051.7,261.3 1052.2,261.3 1052.7,260.5 1053.1,261.3 1053.6,261.3 1054.1,261.3 1054.6,261.3 1055.0,259.4 1055.5,261.3 1056.0,261.3 1056.4,261.3 1056.9,261.3 1057.4,261.3 1057.9,259.3 1058.3,261.3 1058.8,261.3 1059.3,261.3 1059.7,261.3 1060.2,261.3 1060.7,261.3 1061.2,261.3 1061.6,261.3 1062.1,261.3 1062.6,261.3 1063.0,259.8 1063.5,261.3 1064.0,261.3 1064.4,261.3 1064.9,261.3 1065.4,261.3 1065.9,261.3 1066.3,261.3 1066.8,261.3 1067.3,261.3 1067.7,261.3 1068.2,261.3 1068.7,261.3 1069.2,261.3 1069.6,261.3 1070.1,261.3 1070.6,261.3 1071.0,253.7 1071.5,261.3 1072.0,261.3 1072.5,261.3 1072.9,261.3 1073.4,261.3 1073.9,261.3 1074.3,261.3 1074.8,261.3 1075.3,261.3 1075.8,261.3 1076.2,261.3 1076.7,261.3 1077.2,261.3 1077.6,261.3 1078.1,261.3 1078.6,261.3 1079.1,261.3 1079.5,261.3 1080.0,261.3 1080.5,261.3 1080.9,261.3 1081.4,261.3 1081.9,261.3 1082.4,261.3 1082.8,261.3 1083.3,261.3 1083.8,261.3 1084.2,261.3 1084.7,260.3 1085.2,261.3 1085.7,261.3 1086.1,261.3 1086.6,261.3 1087.1,261.3 1087.5,261.3 1088.0,261.3 1088.5,261.3 1089.0,261.3 1089.4,261.3 1089.9,260.2 1090.4,260.7 1090.8,261.3 1091.3,261.3 1091.8,261.3 1092.2,261.3 1092.7,261.3 1093.2,261.3 1093.7,261.3 1094.1,261.3 1094.6,261.3 1095.1,261.3 1095.5,261.3 1096.0,260.6 1096.5,261.3 1097.0,261.3 1097.4,261.3 1097.9,261.3 1098.4,261.3 1098.8,261.3 1099.3,261.3 1099.8,261.3 1100.3,261.3 1100.7,261.3 1101.2,261.3 1101.7,261.3 1102.1,261.3 1102.6,261.3 1103.1,261.3 1103.6,261.3 1104.0,261.3 1104.5,261.3 1105.0,261.3 1105.4,261.3 1105.9,261.3 1106.4,261.3 1106.9,261.3 1107.3,261.3 1107.8,261.3 1108.3,261.3 1108.7,261.3 1109.2,261.3 1109.7,261.3 1110.2,260.8 1110.6,260.1 1111.1,261.3 1111.6,261.3 1112.0,261.3 1112.5,261.3 1113.0,261.3 1113.5,261.3 1113.9,261.3 1114.4,261.3 1114.9,261.3 1115.3,261.3 1115.8,261.3 1116.3,261.3 1116.7,261.3 1117.2,261.3 1117.7,261.3 1118.2,261.3 1118.6,261.3 1119.1,261.3 1119.6,261.3 1120.0,261.3 1120.5,261.3 1121.0,261.3 1121.5,261.3 1121.9,261.3 1122.4,261.3 1122.9,261.3 1123.3,261.3 1123.8,261.3 1124.3,261.3 1124.8,261.3 1125.2,261.3 1125.7,261.3 1126.2,261.3 1126.6,261.3 1127.1,261.3 1127.6,261.3 1128.1,261.3 1128.5,261.3 1129.0,261.3 1129.5,261.3 1129.9,261.3 1130.4,261.3 1130.9,261.3 1131.4,261.3 1131.8,261.3 1132.3,261.3 1132.8,261.3 1133.2,261.3 1133.7,261.3 1134.2,261.3 1134.7,261.3 1135.1,261.3 1135.6,261.3 1136.1,261.3 1136.5,261.3 1137.0,261.3 1137.5,261.3 1138.0,261.3 1138.4,261.3 1138.9,261.3 1139.4,261.3 1139.8,261.3 1140.3,261.3 1140.8,261.3 1141.2,261.3 1141.7,261.3 1142.2,261.3 1142.7,261.3 1143.1,261.3 1143.6,261.3 1144.1,261.3 1144.5,261.3 1145.0,261.3 1145.5,261.3 1146.0,261.3 1146.4,261.3 1146.9,261.3 1147.4,261.3 1147.8,261.3 1148.3,261.3 1148.8,261.3 1149.3,261.3 1149.7,261.3 1150.2,261.3 1150.7,261.3 1151.1,261.3 1151.6,261.3 1152.1,261.3 1152.6,261.3 1153.0,261.3 1153.5,261.3 1154.0,261.3 1154.4,261.3 1154.9,261.3 1155.4,261.3 1155.9,261.3 1156.3,261.3 1156.8,261.3 1157.3,261.3 1157.7,260.3 1158.2,261.3 1158.7,261.3 1159.2,261.3 1159.6,261.3 1160.1,261.3 1160.6,261.3 1161.0,261.3 1161.5,261.3 1162.0,261.3 1162.5,261.3 1162.9,261.3 1163.4,261.3 1163.9,261.3 1164.3,261.3 1164.8,261.3 1165.3,261.3 1165.8,261.3 1166.2,261.3 1166.7,259.8 1167.2,261.3 1167.6,261.3 1168.1,261.3 1168.6,261.3 1169.0,261.3 1169.5,261.3 1170.0,261.3 1170.5,261.3 1170.9,261.3 1171.4,261.3 1171.9,261.3 1172.3,261.3 1172.8,261.3 1173.3,261.3 1173.8,261.3 1174.2,261.3 1174.7,261.3 1175.2,261.3 1175.6,261.3 1176.1,261.3 1176.6,261.3 1177.1,261.3 1177.5,261.3 1178.0,261.3 1178.5,261.3 1178.9,261.3 1179.4,261.3 1179.9,261.3 1180.4,261.3 1180.8,261.3 1181.3,261.3 1181.8,261.3 1182.2,261.3 1182.7,261.3 1183.2,261.3 1183.7,261.3 1184.1,261.3 1184.6,261.3 1185.1,261.3 1185.5,261.3 1186.0,261.3 1186.5,261.3 1187.0,261.3 1187.4,261.3 1187.9,261.3 1188.4,261.3 1188.8,259.6 1189.3,261.3 1189.8,261.3 1190.3,260.0 1190.7,261.3 1191.2,261.3 1191.7,261.3 1192.1,261.3 1192.6,261.3 1193.1,261.3 1193.5,261.3 1194.0,261.3 1194.5,261.3 1195.0,261.3 1195.4,261.3 1195.9,261.3 1196.4,261.3 1196.8,261.3 1197.3,261.3 1197.8,261.3 1198.3,261.3 1198.7,261.3 1199.2,261.3 1199.7,261.3 1200.1,261.3 1200.6,261.3 1201.1,261.3 1201.6,261.3 1202.0,261.3 1202.5,261.3 1203.0,261.3 1203.4,261.3 1203.9,261.3 1204.4,261.3 1204.9,261.3 1205.3,261.3 1205.8,261.3 1206.3,261.3 1206.7,261.3 1207.2,261.3 1207.7,261.3 1208.2,261.3 1208.6,261.3 1209.1,261.3 1209.6,261.3 1210.0,260.2 1210.5,261.3 1211.0,261.3 1211.5,261.3 1211.9,261.3 1212.4,261.3 1212.9,261.3 1213.3,261.3 1213.8,261.3 1214.3,261.1 1214.8,261.3 1215.2,261.3 1215.7,261.3 1216.2,261.3 1216.6,261.3 1217.1,261.3 1217.6,261.3 1218.0,261.3 1218.5,261.3 1219.0,261.3 1219.5,261.3 1219.9,261.3 1220.4,261.3 1220.9,261.3 1221.3,261.3 1221.8,261.3 1222.3,261.3 1222.8,261.3 1223.2,261.3 1223.7,261.3 1224.2,261.3 1224.6,261.3 1225.1,261.3 1225.6,261.3 1226.1,261.3 1226.5,261.3 1227.0,261.3 1227.5,259.2 1227.9,261.3 1228.4,259.1 1228.9,261.3 1229.4,261.3 1229.8,261.3 1230.3,261.3 1230.8,261.3 1231.2,261.3 1231.7,261.3 1232.2,260.2 1232.7,261.3 1233.1,261.3 1233.6,261.3 1234.1,261.3 1234.5,261.3 1235.0,261.3 1235.5,261.3 1236.0,261.3 1236.4,261.3 1236.9,261.3 1237.4,261.3 1237.8,261.3 1238.3,261.3 1238.8,261.3 1239.3,261.3 1239.7,261.3 1240.2,261.3 1240.7,261.3 1241.1,261.3 1241.6,261.3 1242.1,261.3 1242.6,261.3 1243.0,261.3 1243.5,261.3 1244.0,261.3 1244.4,261.3 1244.9,261.3 1245.4,261.3 1245.8,261.3 1246.3,261.3 1246.8,261.3 1247.3,261.3 1247.7,261.3 1248.2,261.3 1248.7,261.3 1249.1,261.3 1249.6,261.3 1250.1,261.3 1250.6,261.3 1251.0,261.3 1251.5,261.3 1252.0,261.3 1252.4,259.6 1252.9,261.3 1253.4,261.3 1253.9,261.3 1254.3,261.3 1254.8,260.0 1255.3,261.3 1255.7,261.3 1256.2,261.3 1256.7,261.3 1257.2,261.3 1257.6,261.3 1258.1,261.3 1258.6,261.3 1259.0,261.3 1259.5,261.3 1260.0,261.3 1260.5,261.3 1260.9,261.3 1261.4,261.3 1261.9,261.3 1262.3,261.3 1262.8,261.3 1263.3,261.3 1263.8,261.3 1264.2,261.3 1264.7,261.3 1265.2,261.3 1265.6,261.3 1266.1,261.3 1266.6,261.3 1267.1,261.3 1267.5,261.3 1268.0,259.6 1268.5,261.3 1268.9,261.3 1269.4,261.3 1269.9,261.3 1270.3,261.3 1270.8,261.3 1271.3,261.3 1271.8,261.3 1272.2,261.3 1272.7,261.3 1273.2,261.3 1273.6,261.3 1274.1,261.3 1274.6,261.3 1275.1,261.3 1275.5,261.3 1276.0,261.3 1276.5,261.3 1276.9,261.3 1277.4,261.3 1277.9,261.3 1278.4,261.3 1278.8,261.3 1279.3,261.3 1279.8,261.3 1280.2,261.3 1280.7,261.3 1281.2,261.3 1281.7,261.3 1282.1,261.3 1282.6,261.3 1283.1,261.3 1283.5,261.3 1284.0,261.3 1284.5,261.3 1285.0,261.3 1285.4,261.3 1285.9,261.3 1286.4,261.3 1286.8,261.3 1287.3,261.3 1287.8,261.3 1288.3,261.3 1288.7,261.3 1289.2,261.3 1289.7,261.3 1290.1,261.3 1290.6,261.3 1291.1,261.3 1291.6,261.3 1292.0,261.3 1292.5,261.3 1293.0,261.3 1293.4,261.3 1293.9,261.3 1294.4,261.3 1294.8,261.3 1295.3,261.3 1295.8,261.3 1296.3,261.3 1296.7,261.3 1297.2,261.2 1297.7,261.3 1298.1,261.3 1298.6,261.3 1299.1,261.3 1299.6,261.3 1300.0,261.3 1300.5,261.3 1301.0,261.3 1301.4,259.0 1301.9,261.3 1302.4,261.3 1302.9,261.3 1303.3,261.3 1303.8,261.3 1304.3,261.3 1304.7,261.3 1305.2,261.3 1305.7,261.3 1306.2,261.3 1306.6,261.3 1307.1,261.3 1307.6,261.3 1308.0,261.3 1308.5,261.3 1309.0,261.3 1309.5,261.3 1309.9,261.3 1310.4,261.3 1310.9,261.3 1311.3,261.3 1311.8,261.3 1312.3,261.3 1312.8,261.3 1313.2,260.2 1313.7,261.3 1314.2,261.3 1314.6,261.3 1315.1,261.3 1315.6,261.3 1316.1,261.3 1316.5,261.3 1317.0,261.3 1317.5,261.3 1317.9,261.3 1318.4,261.3 1318.9,261.3 1319.4,261.3 1319.8,261.3 1320.3,261.3 1320.8,261.3 1321.2,261.3 1321.7,261.3 1322.2,261.3 1322.6,261.3 1323.1,261.3 1323.6,261.3 1324.1,261.3 1324.5,261.3 1325.0,260.5 1325.5,261.3 1325.9,261.3 1326.4,261.3 1326.9,261.3 1327.4,261.3 1327.8,261.3 1328.3,261.3 1328.8,261.3 1329.2,261.3 1329.7,261.3 1330.2,261.3 1330.7,261.3 1331.1,261.3 1331.6,261.3 1332.1,261.3 1332.5,261.3 1333.0,261.3 1333.5,261.3 1334.0,261.3 1334.4,261.3 1334.9,259.9 1335.4,261.3 1335.8,261.3 1336.3,261.3 1336.8,261.3 1337.3,261.3 1337.7,261.3 1338.2,261.3 1338.7,261.3 1339.1,261.3 1339.6,261.3 1340.1,261.3 1340.6,261.3 1341.0,261.3 1341.5,261.3 1342.0,261.3 1342.4,261.3 1342.9,261.3 1343.4,261.3 1343.9,261.3 1344.3,261.3 1344.8,261.3 1345.3,261.3 1345.7,261.3 1346.2,261.3 1346.7,261.3 1347.1,261.3 1347.6,261.3 1348.1,261.3 1348.6,261.3 1349.0,261.2 1349.5,261.3 1350.0,261.3 1350.4,261.3 1350.9,261.3 1351.4,261.3 1351.9,261.3 1352.3,261.3 1352.8,261.3 1353.3,261.3 1353.7,261.3 1354.2,261.3 1354.7,261.3 1355.2,261.3 1355.6,261.3 1356.1,261.3 1356.6,261.3 1357.0,261.3 1357.5,261.3 1358.0,261.3 1358.5,261.3 1358.9,261.3 1359.4,261.3 1359.9,261.3 1360.3,260.3 1360.8,261.3 1361.3,261.3 1361.8,261.0 1362.2,261.3 1362.7,261.3 1363.2,261.3 1363.6,261.3 1364.1,261.3 1364.6,260.8 1365.1,261.3 1365.5,261.3 1366.0,261.3 1366.5,261.3 1366.9,261.3 1367.4,261.3 1367.9,261.3 1368.4,261.3 1368.8,261.3 1369.3,261.3 1369.8,261.3 1370.2,261.3 1370.7,261.3 1371.2,261.3 1371.7,261.3 1372.1,261.3 1372.6,261.3 1373.1,261.3 1373.5,260.1 1374.0,261.3 1374.5,261.3 1374.9,261.3 1375.4,261.3 1375.9,261.3 1376.4,261.3 1376.8,261.3 1377.3,261.3 1377.8,261.3 1378.2,261.3 1378.7,261.3 1379.2,261.3 1379.7,261.3 1380.1,261.3 1380.6,261.3 1381.1,261.3 1381.5,259.9 1382.0,261.3 1382.5,261.3 1383.0,261.3 1383.4,261.3 1383.9,261.3 1384.4,261.3 1384.8,261.3 1385.3,261.3 1385.8,261.3 1386.3,260.8 1386.7,261.3 1387.2,261.3 1387.7,261.3 1388.1,261.3 1388.6,261.3 1389.1,261.3 1389.6,261.3 1390.0,261.3 1390.5,261.3 1391.0,261.3 1391.4,261.3 1391.9,261.3 1392.4,261.3 1392.9,261.3 1393.3,261.3 1393.8,261.3 1394.3,261.3 1394.7,261.3 1395.2,261.3 1395.7,261.3 1396.2,261.3 1396.6,261.3 1397.1,261.3 1397.6,261.3 1398.0,260.6 1398.5,261.3 1399.0,261.3 1399.4,261.3 1399.9,261.3 1400.4,261.3 1400.9,261.3 1401.3,261.3 1401.8,261.3 1402.3,261.3 1402.7,261.3 1403.2,261.3 1403.7,261.3 1404.2,261.3 1404.6,261.3 1405.1,261.2 1405.6,261.3 1406.0,261.3 1406.5,261.3 1407.0,261.3 1407.5,261.3 1407.9,261.3 1408.4,261.3 1408.9,261.3 1409.3,261.3 1409.8,260.6 1410.3,261.3 1410.8,261.3 1411.2,261.3 1411.7,261.3 1412.2,261.3 1412.6,261.3 1413.1,261.3 1413.6,261.3 1414.1,261.3 1414.5,261.3 1415.0,261.3 1415.5,261.3 1415.9,261.3 1416.4,261.3 1416.9,261.3 1417.4,261.3 1417.8,259.3 1418.3,261.3 1418.8,261.3 1419.2,261.3 1419.7,261.3 1420.2,261.3 1420.7,261.3 1421.1,261.3 1421.6,261.3 1422.1,261.3 1422.5,261.3 1423.0,261.3 1423.5,261.3 1423.9,261.3 1424.4,261.3 1424.9,261.3 1425.4,261.3 1425.8,259.3 1426.3,261.3 1426.8,261.3 1427.2,261.3 1427.7,261.3 1428.2,260.4 1428.7,261.3 1429.1,261.3 1429.6,261.3 1430.1,258.9 1430.5,261.3 1431.0,261.3 1431.5,261.3 1432.0,261.3 1432.4,261.3 1432.9,261.3 1433.4,261.3 1433.8,261.3 1434.3,261.3 1434.8,261.3 1435.3,261.3 1435.7,261.3 1436.2,261.3 1436.7,261.3 1437.1,261.3 1437.6,261.3 1438.1,261.3 1438.6,261.3 1439.0,261.3 1439.5,261.3 1440.0,261.3 1440.4,261.3 1440.9,260.8 1441.4,261.3 1441.9,261.3 1442.3,261.3 1442.8,261.3 1443.3,261.3 1443.7,261.3 1444.2,261.3 1444.7,261.3 1445.2,261.3 1445.6,261.3 1446.1,261.3 1446.6,261.3 1447.0,261.3 1447.5,261.3 1448.0,261.3 1448.5,261.3 1448.9,261.3 1449.4,261.3 1449.9,261.3 1450.3,261.3 1450.8,261.3 1451.3,261.3 1451.7,261.3 1452.2,261.3 1452.7,261.3 1453.2,261.3 1453.6,261.3 1454.1,261.3 1454.6,261.3 1455.0,261.3 1455.5,261.3 1456.0,261.3 1456.5,261.3 1456.9,261.3 1457.4,261.3 1457.9,261.3 1458.3,261.3 1458.8,261.3 1459.3,261.3 1459.8,261.3 1460.2,261.3 1460.7,261.3 1461.2,261.3 1461.6,261.3 1462.1,261.3 1462.6,261.3 1463.1,261.3 1463.5,261.3 1464.0,259.7 1464.5,261.3 1464.9,261.3 1465.4,261.3 1465.9,261.3 1466.4,261.3 1466.8,261.3 1467.3,261.3 1467.8,261.3 1468.2,261.3 1468.7,261.3 1469.2,261.3 1469.7,261.3 1470.1,261.3 1470.6,261.3 1471.1,261.3 1471.5,261.3 1472.0,261.3 1472.5,261.3 1473.0,261.3 1473.4,261.3 1473.9,261.3 1474.4,261.3 1474.8,261.3 1475.3,261.3 1475.8,261.3 1476.2,261.3 1476.7,261.3 1477.2,261.3 1477.7,261.3 1478.1,261.3 1478.6,261.3 1479.1,261.3 1479.5,261.3 1480.0,261.3 1480.5,261.3 1481.0,261.3 1481.4,261.3 1481.9,261.3 1482.4,261.3 1482.8,261.3 1483.3,261.3 1483.8,261.3 1484.3,261.3 1484.7,259.7 1485.2,261.3 1485.7,261.3 1486.1,261.3 1486.6,261.3 1487.1,261.3 1487.6,261.3 1488.0,261.3 1488.5,261.3 1489.0,261.3 1489.4,261.3 1489.9,261.3 1490.4,261.3 1490.9,261.3 1491.3,261.3 1491.8,261.3 1492.3,261.3 1492.7,261.3 1493.2,261.3 1493.7,261.3 1494.2,261.3 1494.6,261.3 1495.1,261.3 1495.6,261.3 1496.0,261.3 1496.5,261.3 1497.0,261.3 1497.5,261.3 1497.9,261.3 1498.4,261.3 1498.9,261.3 1499.3,261.3 1499.8,261.3 1500.3,261.3 1500.7,261.3 1501.2,261.3 1501.7,261.3 1502.2,261.3 1502.6,261.3 1503.1,261.3 1503.6,261.3 1504.0,261.3 1504.5,261.3 1505.0,261.3 1505.5,261.3 1505.9,261.3 1506.4,261.3 1506.9,251.5 1507.3,261.3 1507.8,261.3 1508.3,261.3 1508.8,261.3 1509.2,261.3 1509.7,260.7 1510.2,261.3 1510.6,261.3 1511.1,261.3 1511.6,261.3 1512.1,261.3 1512.5,261.3 1513.0,261.3 1513.5,261.3 1513.9,261.3 1514.4,261.3 1514.9,261.3 1515.4,261.3 1515.8,261.3 1516.3,261.3 1516.8,261.3 1517.2,261.3 1517.7,261.3 1518.2,261.3 1518.7,261.3 1519.1,261.3 1519.6,261.3 1520.1,261.3 1520.5,261.3 1521.0,261.3 1521.5,261.3 1522.0,261.3 1522.4,261.3 1522.9,261.3 1523.4,261.3 1523.8,261.3 1524.3,261.3 1524.8,261.3 1525.3,261.3 1525.7,261.3 1526.2,261.3 1526.7,261.3 1527.1,261.3 1527.6,261.3 1528.1,261.3 1528.5,261.3 1529.0,261.3 1529.5,261.3 1530.0,261.3 1530.4,261.3 1530.9,261.3 1531.4,261.3 1531.8,261.3 1532.3,261.3 1532.8,261.3 1533.3,261.3 1533.7,261.3 1534.2,261.3 1534.7,261.3 1535.1,261.3 1535.6,261.3 1536.1,261.3 1536.6,261.3 1537.0,261.3 1537.5,261.3 1538.0,261.3 1538.4,261.3 1538.9,261.3 1539.4,261.3 1539.9,261.3 1540.3,260.3 1540.8,261.3 1541.3,261.3 1541.7,261.3 1542.2,261.3 1542.7,261.3 1543.2,261.3 1543.6,261.3 1544.1,261.3 1544.6,261.3 1545.0,261.3 1545.5,261.3 1546.0,261.3 1546.5,261.3 1546.9,261.3 1547.4,261.3 1547.9,261.3 1548.3,261.3 1548.8,261.3 1549.3,261.3 1549.8,261.3 1550.2,260.4 1550.7,261.3 1551.2,261.3 1551.6,261.3 1552.1,261.3 1552.6,261.3 1553.0,261.3 1553.5,261.3 1554.0,261.3 1554.5,261.3 1554.9,261.3 1555.4,261.3 1555.9,261.3 1556.3,261.3 1556.8,261.3 1557.3,259.1 1557.8,261.3 1558.2,261.3 1558.7,261.3 1559.2,261.3 1559.6,261.3 1560.1,261.3 1560.6,261.3 1561.1,261.3 1561.5,261.3 1562.0,261.3 1562.5,261.3 1562.9,261.3 1563.4,261.3 1563.9,261.3 1564.4,261.3 1564.8,261.3 1565.3,261.3 1565.8,261.3 1566.2,261.3 1566.7,261.3 1567.2,260.5 1567.7,259.8 1568.1,261.3 1568.6,261.3 1569.1,261.3 1569.5,261.3 1570.0,261.3 1570.5,261.3 1571.0,261.3 1571.4,261.3 1571.9,261.3 1572.4,261.3 1572.8,261.3 1573.3,261.3 1573.8,261.3 1574.3,261.3 1574.7,261.3 1575.2,261.3 1575.7,261.3 1576.1,261.3 1576.6,261.3 1577.1,261.3 1577.5,261.3 1578.0,261.3 1578.5,261.3 1579.0,261.3 1579.4,261.3 1579.9,261.3 1580.4,260.5 1580.8,261.3 1581.3,261.3 1581.8,261.3 1582.3,261.3 1582.7,261.3 1583.2,261.3 1583.7,261.3 1584.1,261.3 1584.6,261.3 1585.1,261.3 1585.6,261.3 1586.0,261.3 1586.5,261.3 1587.0,261.3 1587.4,261.3 1587.9,261.3 1588.4,261.3 1588.9,261.3 1589.3,261.3 1589.8,261.3 1590.3,261.3 1590.7,261.3 1591.2,261.3 1591.7,261.3 1592.2,260.2 1592.6,261.3 1593.1,261.3 1593.6,261.3 1594.0,261.3 1594.5,261.3 1595.0,261.3 1595.5,261.3 1595.9,261.3 1596.4,261.3 1596.9,261.3 1597.3,261.3 1597.8,261.3 1598.3,261.3 1598.8,261.3 1599.2,261.3 1599.7,261.3 1600.2,261.3 1600.6,261.3 1601.1,261.3 1601.6,261.3 1602.1,261.3 1602.5,261.2 1603.0,261.3 1603.5,261.3 1603.9,261.3 1604.4,261.3 1604.9,261.3 1605.3,261.3 1605.8,261.3 1606.3,261.3 1606.8,260.3 1607.2,261.3 1607.7,261.3 1608.2,261.3 1608.6,261.3 1609.1,261.3 1609.6,261.3 1610.1,261.3 1610.5,261.3 1611.0,261.3 1611.5,261.3 1611.9,261.3 1612.4,259.0 1612.9,261.3 1613.4,261.3 1613.8,261.3 1614.3,261.3 1614.8,261.3 1615.2,261.3 1615.7,261.3 1616.2,261.3 1616.7,261.3 1617.1,261.3 1617.6,261.3 1618.1,261.3 1618.5,261.3 1619.0,261.3 1619.5,261.3 1620.0,259.7 1620.4,261.3 1620.9,261.3 1621.4,261.3 1621.8,261.3 1622.3,261.3 1622.8,261.3 1623.3,261.3 1623.7,261.3 1624.2,261.3 1624.7,261.3 1625.1,261.3 1625.6,261.3 1626.1,261.3 1626.6,261.3 1627.0,260.1 1627.5,261.0 1628.0,259.5 1628.4,261.3 1628.9,261.3 1629.4,261.3 1629.8,261.3 1630.3,261.3 1630.8,261.3 1631.3,261.3 1631.7,261.3 1632.2,261.3 1632.7,261.3 1633.1,261.3 1633.6,261.3 1634.1,261.3 1634.6,261.3 1635.0,259.4 1635.5,261.3 1636.0,261.3 1636.4,261.3 1636.9,261.3 1637.4,261.3 1637.9,261.3 1638.3,261.3 1638.8,261.3 1639.3,261.3 1639.7,261.3 1640.2,261.3 1640.7,261.3 1641.2,261.3 1641.6,261.3 1642.1,261.3 1642.6,261.3 1643.0,261.3 1643.5,261.3 1644.0,261.3 1644.5,261.3 1644.9,261.3 1645.4,261.3 1645.9,261.3 1646.3,261.3 1646.8,261.3 1647.3,261.3 1647.8,261.3 1648.2,261.3 1648.7,261.3 1649.2,261.3 1649.6,261.3 1650.1,261.3 1650.6,261.3 1651.1,261.3 1651.5,260.5 1652.0,261.3 1652.5,261.3 1652.9,261.3 1653.4,261.3 1653.9,261.3 1654.4,261.3 1654.8,260.1 1655.3,260.9 1655.8,261.3 1656.2,261.3 1656.7,261.3 1657.2,261.3 1657.6,261.3 1658.1,260.3 1658.6,261.3 1659.1,261.3 1659.5,261.3 1660.0,261.3 1660.5,261.3 1660.9,261.3 1661.4,261.3 1661.9,261.3 1662.4,261.3 1662.8,261.3 1663.3,261.3 1663.8,261.3 1664.2,261.3 1664.7,261.3 1665.2,260.5 1665.7,261.3 1666.1,261.3 1666.6,261.3 1667.1,261.3 1667.5,261.3 1668.0,261.3 1668.5,261.3 1669.0,261.3 1669.4,261.2 1669.9,261.3 1670.4,261.3 1670.8,261.3 1671.3,261.3 1671.8,261.3 1672.3,261.3 1672.7,261.3 1673.2,261.3 1673.7,261.3 1674.1,261.3 1674.6,261.3 1675.1,259.2 1675.6,261.3 1676.0,261.3 1676.5,261.3 1677.0,261.3 1677.4,261.3 1677.9,261.3 1678.4,261.3 1678.9,261.3 1679.3,261.3 1679.8,261.3 1680.3,261.3 1680.7,261.3 1681.2,259.8 1681.7,261.3 1682.1,261.3 1682.6,261.3 1683.1,259.7 1683.6,261.3 1684.0,261.3 1684.5,261.3 1685.0,261.3 1685.4,261.3 1685.9,261.3 1686.4,261.3 1686.9,261.3 1687.3,261.3 1687.8,261.3 1688.3,261.3 1688.7,261.3 1689.2,261.3 1689.7,261.3 1690.2,261.3 1690.6,261.3 1691.1,261.3 1691.6,259.1 1692.0,261.3 1692.5,261.3 1693.0,260.8 1693.5,261.3 1693.9,261.3 1694.4,261.3 1694.9,261.3 1695.3,261.3 1695.8,261.3 1696.3,260.7 1696.8,261.3 1697.2,261.3 1697.7,261.3 1698.2,261.3 1698.6,261.3 1699.1,261.3 1699.6,261.3 1700.1,261.3 1700.5,261.3 1701.0,261.3 1701.5,261.3 1701.9,261.3 1702.4,261.3 1702.9,261.3 1703.4,261.3 1703.8,261.3 1704.3,261.3 1704.8,261.3 1705.2,261.3 1705.7,261.3 1706.2,261.3 1706.6,261.3 1707.1,261.3 1707.6,261.3 1708.1,261.3 1708.5,261.3 1709.0,261.3 1709.5,261.3 1709.9,261.3 1710.4,261.3 1710.9,261.3 1711.4,261.3 1711.8,261.3 1712.3,261.3 1712.8,261.3 1713.2,261.3 1713.7,261.3 1714.2,259.8 1714.7,261.3 1715.1,261.3 1715.6,261.3 1716.1,259.6 1716.5,261.3 1717.0,261.3 1717.5,261.3 1718.0,261.3 1718.4,261.3 1718.9,261.3 1719.4,261.3 1719.8,261.3 1720.3,261.3 1720.8,261.3 1721.3,261.3 1721.7,261.3 1722.2,261.3 1722.7,261.3 1723.1,261.3 1723.6,261.3 1724.1,261.3 1724.6,261.3 1725.0,261.3 1725.5,261.3 1726.0,261.3 1726.4,261.3 1726.9,261.3 1727.4,261.3 1727.9,261.3 1728.3,261.3 1728.8,261.3 1729.3,261.3 1729.7,261.3 1730.2,261.3 1730.7,261.3 1731.2,261.3 1731.6,261.3 1732.1,261.3 1732.6,261.3 1733.0,261.3 1733.5,261.3 1734.0,261.3 1734.4,261.3 1734.9,261.3 1735.4,261.3 1735.9,261.3 1736.3,261.3 1736.8,261.3 1737.3,261.3 1737.7,261.3 1738.2,261.3 1738.7,259.4 1739.2,261.3 1739.6,261.3 1740.1,261.3 1740.6,261.3 1741.0,261.3 1741.5,261.3 1742.0,261.3 1742.5,261.3 1742.9,261.3 1743.4,261.3 1743.9,261.3 1744.3,261.3 1744.8,261.3 1745.3,261.3 1745.8,261.3 1746.2,261.3 1746.7,261.3 1747.2,261.3 1747.6,261.3 1748.1,261.3 1748.6,261.3 1749.1,261.3 1749.5,261.3 1750.0,261.3 1750.5,261.3 1750.9,261.3 1751.4,261.3 1751.9,261.3 1752.4,261.3 1752.8,261.3 1753.3,261.3 1753.8,261.3 1754.2,261.3 1754.7,261.3 1755.2,261.3 1755.7,261.3 1756.1,261.3 1756.6,261.3 1757.1,261.3 1757.5,261.3 1758.0,261.3 1758.5,259.4 1758.9,260.5 1759.4,261.1 1759.9,261.3 1760.4,261.3 1760.8,261.3 1761.3,261.3 1761.8,261.3 1762.2,261.3 1762.7,261.3 1763.2,261.3 1763.7,261.3 1764.1,261.3 1764.6,261.3 1765.1,261.3 1765.5,261.3 1766.0,261.3 1766.5,261.3 1767.0,261.3 1767.4,261.3 1767.9,261.3 1768.4,261.3 1768.8,261.3 1769.3,259.6 1769.8,259.2 1770.3,261.3 1770.7,261.3 1771.2,261.3 1771.7,261.3 1772.1,261.3 1772.6,261.3 1773.1,261.3 1773.6,261.3 1774.0,261.3 1774.5,261.3 1775.0,261.3 1775.4,261.3 1775.9,260.6 1776.4,261.3 1776.9,261.3 1777.3,261.3 1777.8,261.3 1778.3,261.3 1778.7,261.3 1779.2,261.3 1779.7,261.3 1780.2,261.3 1780.6,261.3 1781.1,261.3 1781.6,259.2 1782.0,261.3 1782.5,261.3 1783.0,261.3 1783.4,261.3 1783.9,261.3 1784.4,261.3 1784.9,261.3 1785.3,261.3 1785.8,261.3 1786.3,261.3 1786.7,261.3 1787.2,261.3 1787.7,259.0 1788.2,261.3 1788.6,261.3 1789.1,261.3 1789.6,261.3 1790.0,261.3 1790.5,261.3 1791.0,261.3 1791.5,261.3 1791.9,261.3 1792.4,261.3 1792.9,261.3 1793.3,261.3 1793.8,261.3" fill="none" stroke="#0095d5" stroke-width="1"/><line x1="98" y1="261.3" x2="1794" y2="261.3" stroke="#c000c4" stroke-width="1" opacity="0.8"/><polyline points="98.6,260.3 99.0,256.6 99.5,260.2 100.0,223.6 100.4,261.3 100.9,256.3 101.4,236.2 101.9,261.3 102.3,261.3 102.8,255.0 103.3,221.3 103.7,261.3 104.2,261.3 104.7,261.3 105.2,261.3 105.6,257.8 106.1,238.5 106.6,259.1 107.0,261.3 107.5,249.2 108.0,261.3 108.5,231.8 108.9,246.3 109.4,261.3 109.9,261.3 110.3,206.8 110.8,259.6 111.3,259.0 111.8,261.3 112.2,246.4 112.7,261.3 113.2,242.5 113.6,261.3 114.1,261.3 114.6,258.3 115.0,261.3 115.5,249.1 116.0,258.1 116.5,261.3 116.9,249.6 117.4,261.3 117.9,243.0 118.3,261.3 118.8,261.3 119.3,254.7 119.8,210.5 120.2,261.3 120.7,249.4 121.2,259.4 121.6,254.9 122.1,261.3 122.6,147.7 123.1,261.3 123.5,254.8 124.0,261.3 124.5,194.1 124.9,261.3 125.4,257.4 125.9,261.3 126.4,261.3 126.8,257.3 127.3,246.9 127.8,261.3 128.2,258.7 128.7,261.3 129.2,257.0 129.7,204.5 130.1,254.4 130.6,261.3 131.1,255.5 131.5,255.9 132.0,244.7 132.5,261.3 133.0,248.1 133.4,261.3 133.9,261.3 134.4,226.7 134.8,261.3 135.3,261.3 135.8,261.3 136.3,261.3 136.7,237.8 137.2,261.3 137.7,261.3 138.1,214.1 138.6,258.0 139.1,257.6 139.5,251.7 140.0,261.3 140.5,261.3 141.0,261.3 141.4,228.1 141.9,261.3 142.4,261.3 142.8,192.2 143.3,254.4 143.8,255.6 144.3,261.3 144.7,256.6 145.2,259.5 145.7,246.9 146.1,238.6 146.6,261.3 147.1,258.4 147.6,261.3 148.0,261.3 148.5,241.2 149.0,246.2 149.4,261.3 149.9,251.6 150.4,247.4 150.9,241.3 151.3,261.3 151.8,261.3 152.3,212.4 152.7,261.3 153.2,261.3 153.7,247.8 154.2,261.3 154.6,258.7 155.1,261.3 155.6,241.4 156.0,261.3 156.5,261.3 157.0,261.3 157.5,259.0 157.9,245.8 158.4,254.4 158.9,261.3 159.3,261.3 159.8,247.0 160.3,239.2 160.8,261.3 161.2,255.6 161.7,251.3 162.2,248.0 162.6,254.4 163.1,260.4 163.6,261.3 164.0,252.5 164.5,257.1 165.0,236.5 165.5,261.3 165.9,261.3 166.4,219.2 166.9,248.8 167.3,261.3 167.8,260.3 168.3,261.3 168.8,261.3 169.2,255.9 169.7,243.9 170.2,261.3 170.6,256.0 171.1,261.3 171.6,259.5 172.1,232.2 172.5,255.0 173.0,261.3 173.5,261.3 173.9,255.7 174.4,235.5 174.9,243.2 175.4,261.3 175.8,261.3 176.3,254.2 176.8,237.4 177.2,261.3 177.7,261.3 178.2,261.3 178.7,260.3 179.1,215.1 179.6,261.3 180.1,261.3 180.5,261.3 181.0,261.3 181.5,242.9 182.0,261.3 182.4,261.3 182.9,251.7 183.4,261.3 183.8,238.6 184.3,261.3 184.8,261.3 185.3,253.4 185.7,253.5 186.2,201.1 186.7,256.5 187.1,261.3 187.6,261.3 188.1,261.3 188.6,226.7 189.0,261.3 189.5,261.3 190.0,261.3 190.4,250.3 190.9,245.4 191.4,259.0 191.8,261.3 192.3,261.3 192.8,255.2 193.3,204.5 193.7,261.3 194.2,257.2 194.7,261.3 195.1,261.3 195.6,215.3 196.1,258.8 196.6,261.3 197.0,261.3 197.5,261.3 198.0,261.3 198.4,221.5 198.9,253.1 199.4,261.3 199.9,253.8 200.3,233.4 200.8,246.7 201.3,261.3 201.7,261.3 202.2,261.3 202.7,240.8 203.2,261.3 203.6,253.2 204.1,254.3 204.6,261.3 205.0,226.7 205.5,247.4 206.0,261.3 206.5,261.3 206.9,261.3 207.4,207.2 207.9,256.7 208.3,261.3 208.8,261.3 209.3,246.8 209.8,247.6 210.2,258.4 210.7,261.3 211.2,261.3 211.6,261.3 212.1,242.3 212.6,261.3 213.1,260.5 213.5,261.3 214.0,261.3 214.5,261.3 214.9,258.4 215.4,207.8 215.9,261.3 216.3,261.3 216.8,233.8 217.3,261.3 217.8,258.1 218.2,261.3 218.7,259.4 219.2,247.3 219.6,257.4 220.1,245.7 220.6,261.3 221.1,261.3 221.5,254.8 222.0,208.2 222.5,255.3 222.9,261.3 223.4,246.1 223.9,243.8 224.4,256.5 224.8,257.1 225.3,246.0 225.8,249.1 226.2,226.7 226.7,261.3 227.2,261.3 227.7,261.3 228.1,254.1 228.6,244.3 229.1,259.9 229.5,260.7 230.0,246.8 230.5,261.3 231.0,248.9 231.4,245.3 231.9,261.3 232.4,255.6 232.8,256.5 233.3,251.9 233.8,255.8 234.3,261.3 234.7,261.3 235.2,261.3 235.7,231.2 236.1,261.3 236.6,261.3 237.1,207.6 237.6,260.2 238.0,258.4 238.5,261.3 239.0,261.3 239.4,260.8 239.9,261.3 240.4,231.8 240.8,259.6 241.3,261.3 241.8,261.3 242.3,261.3 242.7,244.3 243.2,246.8 243.7,249.3 244.1,255.5 244.6,257.3 245.1,242.4 245.6,261.3 246.0,261.3 246.5,260.2 247.0,249.3 247.4,226.7 247.9,261.3 248.4,261.3 248.9,258.9 249.3,261.3 249.8,242.2 250.3,261.3 250.7,261.3 251.2,261.3 251.7,188.4 252.2,248.7 252.6,256.8 253.1,261.3 253.6,261.3 254.0,261.3 254.5,227.9 255.0,261.3 255.5,246.6 255.9,261.3 256.4,250.1 256.9,234.1 257.3,251.6 257.8,261.3 258.3,257.5 258.8,261.3 259.2,245.8 259.7,253.0 260.2,258.3 260.6,257.2 261.1,255.2 261.6,239.3 262.1,256.8 262.5,261.3 263.0,256.9 263.5,211.5 263.9,247.4 264.4,255.5 264.9,246.7 265.4,261.3 265.8,222.2 266.3,252.6 266.8,260.0 267.2,257.8 267.7,260.6 268.2,261.3 268.6,226.7 269.1,261.3 269.6,256.7 270.1,261.3 270.5,254.9 271.0,242.2 271.5,259.6 271.9,261.3 272.4,252.0 272.9,261.3 273.4,246.1 273.8,261.3 274.3,257.7 274.8,259.8 275.2,256.4 275.7,236.2 276.2,261.3 276.7,261.3 277.1,261.3 277.6,255.4 278.1,244.8 278.5,261.3 279.0,247.8 279.5,260.7 280.0,248.6 280.4,181.0 280.9,252.7 281.4,261.3 281.8,261.3 282.3,250.3 282.8,228.7 283.3,257.1 283.7,261.3 284.2,261.3 284.7,261.3 285.1,228.0 285.6,252.3 286.1,256.4 286.6,261.3 287.0,261.3 287.5,226.7 288.0,261.3 288.4,261.3 288.9,261.3 289.4,261.3 289.9,250.2 290.3,261.3 290.8,255.7 291.3,248.7 291.7,261.3 292.2,247.6 292.7,213.4 293.1,260.3 293.6,261.3 294.1,258.5 294.6,235.8 295.0,257.2 295.5,261.3 296.0,258.8 296.4,261.3 296.9,232.8 297.4,254.1 297.9,246.3 298.3,261.3 298.8,257.2 299.3,222.2 299.7,253.1 300.2,254.4 300.7,261.3 301.2,261.3 301.6,243.2 302.1,251.7 302.6,261.3 303.0,261.3 303.5,245.9 304.0,235.9 304.5,261.3 304.9,261.3 305.4,261.3 305.9,261.3 306.3,256.0 306.8,189.9 307.3,248.0 307.8,256.7 308.2,256.9 308.7,200.1 309.2,261.3 309.6,248.9 310.1,261.3 310.6,261.3 311.1,241.5 311.5,261.3 312.0,261.3 312.5,261.3 312.9,259.7 313.4,231.3 313.9,256.2 314.4,256.1 314.8,261.3 315.3,253.1 315.8,244.7 316.2,255.5 316.7,261.3 317.2,261.3 317.7,250.1 318.1,251.3 318.6,255.1 319.1,261.3 319.5,261.3 320.0,261.3 320.5,261.3 320.9,254.3 321.4,215.9 321.9,260.4 322.4,261.3 322.8,247.7 323.3,261.3 323.8,255.8 324.2,251.7 324.7,261.3 325.2,227.2 325.7,261.3 326.1,261.3 326.6,261.3 327.1,245.4 327.5,242.5 328.0,254.6 328.5,255.6 329.0,257.5 329.4,246.6 329.9,241.2 330.4,261.3 330.8,257.6 331.3,261.3 331.8,261.3 332.3,241.4 332.7,258.9 333.2,261.3 333.7,258.9 334.1,257.7 334.6,261.3 335.1,218.2 335.6,251.4 336.0,261.3 336.5,261.3 337.0,257.9 337.4,198.7 337.9,255.0 338.4,246.9 338.9,261.3 339.3,240.5 339.8,261.3 340.3,247.0 340.7,256.2 341.2,254.9 341.7,244.1 342.2,249.5 342.6,261.3 343.1,261.3 343.6,261.3 344.0,245.2 344.5,252.8 345.0,256.3 345.4,261.3 345.9,261.3 346.4,244.9 346.9,253.8 347.3,261.3 347.8,260.4 348.3,261.3 348.7,241.1 349.2,261.3 349.7,261.3 350.2,222.6 350.6,255.5 351.1,254.1 351.6,255.4 352.0,250.5 352.5,257.5 353.0,246.9 353.5,245.2 353.9,254.6 354.4,261.3 354.9,261.3 355.3,247.2 355.8,247.3 356.3,246.9 356.8,261.3 357.2,261.3 357.7,258.0 358.2,240.1 358.6,261.3 359.1,260.9 359.6,261.3 360.1,261.3 360.5,226.7 361.0,257.3 361.5,261.3 361.9,257.5 362.4,254.9 362.9,246.9 363.4,261.3 363.8,261.3 364.3,261.3 364.8,257.2 365.2,253.5 365.7,254.6 366.2,257.3 366.7,258.4 367.1,246.0 367.6,245.5 368.1,245.7 368.5,250.9 369.0,261.3 369.5,212.2 369.9,261.3 370.4,260.2 370.9,261.3 371.4,260.8 371.8,261.3 372.3,247.3 372.8,257.2 373.2,261.3 373.7,252.1 374.2,256.2 374.7,242.3 375.1,256.4 375.6,261.3 376.1,247.7 376.5,261.3 377.0,213.4 377.5,252.4 378.0,261.3 378.4,261.3 378.9,254.9 379.4,248.1 379.8,261.3 380.3,261.3 380.8,249.3 381.3,261.3 381.7,229.0 382.2,245.3 382.7,261.3 383.1,261.3 383.6,256.7 384.1,233.5 384.6,255.9 385.0,255.9 385.5,260.4 386.0,261.3 386.4,233.9 386.9,261.3 387.4,255.2 387.9,261.3 388.3,253.6 388.8,249.8 389.3,258.3 389.7,255.4 390.2,261.3 390.7,217.2 391.2,253.7 391.6,261.3 392.1,261.3 392.6,258.8 393.0,260.9 393.5,226.7 394.0,252.0 394.5,261.3 394.9,256.1 395.4,259.5 395.9,240.1 396.3,258.3 396.8,261.3 397.3,261.3 397.7,257.1 398.2,260.7 398.7,204.9 399.2,261.3 399.6,261.3 400.1,261.3 400.6,241.7 401.0,261.3 401.5,257.9 402.0,261.3 402.5,259.8 402.9,226.7 403.4,261.3 403.9,261.3 404.3,256.8 404.8,255.3 405.3,246.8 405.8,219.9 406.2,261.3 406.7,261.3 407.2,261.3 407.6,239.3 408.1,257.3 408.6,261.3 409.1,261.3 409.5,261.3 410.0,235.1 410.5,250.5 410.9,261.3 411.4,261.3 411.9,261.3 412.4,241.8 412.8,254.7 413.3,261.3 413.8,257.6 414.2,261.3 414.7,241.5 415.2,261.3 415.7,261.3 416.1,256.6 416.6,261.3 417.1,261.3 417.5,261.3 418.0,212.2 418.5,261.3 419.0,261.3 419.4,231.4 419.9,261.3 420.4,248.4 420.8,261.3 421.3,259.2 421.8,245.7 422.2,255.8 422.7,261.3 423.2,248.7 423.7,258.3 424.1,239.9 424.6,261.3 425.1,257.3 425.5,261.3 426.0,255.2 426.5,261.3 427.0,251.8 427.4,150.4 427.9,261.3 428.4,261.3 428.8,246.1 429.3,261.3 429.8,261.3 430.3,261.3 430.7,258.4 431.2,261.3 431.7,221.3 432.1,256.3 432.6,260.7 433.1,261.3 433.6,233.3 434.0,261.3 434.5,253.2 435.0,259.5 435.4,246.4 435.9,246.9 436.4,250.9 436.9,261.3 437.3,261.3 437.8,261.3 438.3,226.7 438.7,261.3 439.2,248.8 439.7,261.3 440.2,245.7 440.6,244.0 441.1,250.2 441.6,257.1 442.0,255.0 442.5,261.3 443.0,245.0 443.5,261.3 443.9,260.7 444.4,260.9 444.9,261.3 445.3,252.3 445.8,259.2 446.3,219.7 446.7,255.8 447.2,259.4 447.7,235.8 448.2,261.3 448.6,258.6 449.1,261.3 449.6,245.8 450.0,245.3 450.5,254.6 451.0,260.6 451.5,258.5 451.9,261.3 452.4,226.7 452.9,261.3 453.3,256.9 453.8,261.3 454.3,261.3 454.8,246.4 455.2,257.8 455.7,261.3 456.2,254.7 456.6,261.3 457.1,250.8 457.6,261.3 458.1,252.9 458.5,260.3 459.0,261.3 459.5,226.7 459.9,257.9 460.4,261.3 460.9,247.6 461.4,219.2 461.8,261.3 462.3,261.3 462.8,255.0 463.2,260.0 463.7,216.1 464.2,253.9 464.7,248.2 465.1,259.1 465.6,261.3 466.1,246.6 466.5,238.6 467.0,261.3 467.5,256.9 468.0,255.1 468.4,258.4 468.9,226.7 469.4,248.2 469.8,261.3 470.3,261.3 470.8,255.0 471.3,238.7 471.7,261.3 472.2,257.7 472.7,261.3 473.1,261.3 473.6,223.0 474.1,257.5 474.5,261.3 475.0,253.4 475.5,261.3 476.0,249.3 476.4,261.3 476.9,257.9 477.4,252.3 477.8,261.3 478.3,230.5 478.8,257.1 479.3,247.8 479.7,261.3 480.2,261.3 480.7,202.4 481.1,261.3 481.6,259.9 482.1,261.3 482.6,259.6 483.0,235.5 483.5,255.6 484.0,257.0 484.4,258.8 484.9,261.3 485.4,206.8 485.9,261.3 486.3,261.3 486.8,261.3 487.3,194.1 487.7,259.1 488.2,249.4 488.7,261.3 489.2,255.4 489.6,261.3 490.1,218.8 490.6,261.3 491.0,261.3 491.5,261.3 492.0,261.3 492.5,215.7 492.9,256.6 493.4,261.3 493.9,261.3 494.3,261.3 494.8,254.9 495.3,212.2 495.8,259.1 496.2,261.3 496.7,251.1 497.2,235.6 497.6,261.3 498.1,261.3 498.6,261.3 499.0,259.6 499.5,244.0 500.0,261.3 500.5,248.9 500.9,261.3 501.4,252.1 501.9,255.3 502.3,206.4 502.8,261.3 503.3,261.3 503.8,256.9 504.2,232.4 504.7,261.3 505.2,260.1 505.6,247.8 506.1,250.9 506.6,234.6 507.1,261.3 507.5,261.3 508.0,261.3 508.5,261.3 508.9,241.3 509.4,261.3 509.9,257.0 510.4,261.3 510.8,256.7 511.3,227.8 511.8,247.2 512.2,261.3 512.7,261.3 513.2,261.3 513.7,243.6 514.1,261.3 514.6,258.0 515.1,261.3 515.5,261.3 516.0,260.8 516.5,253.7 517.0,216.5 517.4,261.3 517.9,261.3 518.4,247.2 518.8,248.8 519.3,219.9 519.8,261.3 520.3,259.7 520.7,248.2 521.2,254.0 521.7,250.2 522.1,252.9 522.6,261.3 523.1,226.7 523.5,261.3 524.0,261.3 524.5,261.3 525.0,246.5 525.4,253.2 525.9,248.4 526.4,261.3 526.8,250.0 527.3,249.3 527.8,226.7 528.3,261.3 528.7,257.2 529.2,261.3 529.7,261.3 530.1,249.9 530.6,247.0 531.1,214.5 531.6,247.0 532.0,261.3 532.5,246.7 533.0,251.9 533.4,261.3 533.9,251.3 534.4,257.4 534.9,245.6 535.3,255.5 535.8,261.3 536.3,255.8 536.7,261.3 537.2,246.5 537.7,261.3 538.2,261.3 538.6,207.2 539.1,261.3 539.6,254.8 540.0,246.4 540.5,261.3 541.0,261.3 541.5,261.3 541.9,227.1 542.4,259.2 542.9,249.3 543.3,219.9 543.8,260.4 544.3,261.3 544.8,261.3 545.2,261.3 545.7,104.4 546.2,261.3 546.6,256.3 547.1,261.3 547.6,259.0 548.1,254.7 548.5,253.8 549.0,245.9 549.5,261.3 549.9,261.3 550.4,256.2 550.9,261.3 551.3,226.7 551.8,255.3 552.3,261.3 552.8,261.3 553.2,255.4 553.7,252.8 554.2,261.3 554.6,261.3 555.1,260.1 555.6,261.3 556.1,226.7 556.5,261.3 557.0,251.4 557.5,247.6 557.9,261.3 558.4,238.1 558.9,261.3 559.4,261.3 559.8,260.9 560.3,225.9 560.8,261.3 561.2,261.3 561.7,259.6 562.2,261.3 562.7,258.6 563.1,247.2 563.6,261.3 564.1,261.3 564.5,261.3 565.0,250.5 565.5,229.4 566.0,261.3 566.4,261.3 566.9,261.3 567.4,218.6 567.8,253.8 568.3,261.3 568.8,261.3 569.3,256.5 569.7,254.9 570.2,241.8 570.7,261.3 571.1,257.7 571.6,261.3 572.1,226.9 572.6,256.7 573.0,248.1 573.5,261.3 574.0,255.8 574.4,261.3 574.9,245.6 575.4,261.3 575.8,260.6 576.3,261.3 576.8,252.3 577.3,249.0 577.7,256.9 578.2,261.3 578.7,256.8 579.1,261.3 579.6,233.9 580.1,261.3 580.6,247.4 581.0,261.3 581.5,261.3 582.0,244.6 582.4,252.6 582.9,261.3 583.4,261.3 583.9,248.4 584.3,226.7 584.8,261.3 585.3,248.7 585.7,261.3 586.2,247.8 586.7,209.1 587.2,258.6 587.6,261.3 588.1,257.6 588.6,261.3 589.0,226.7 589.5,261.3 590.0,261.3 590.5,248.7 590.9,256.9 591.4,238.8 591.9,261.3 592.3,247.4 592.8,254.6 593.3,259.0 593.8,228.3 594.2,261.3 594.7,261.3 595.2,261.3 595.6,255.4 596.1,245.7 596.6,259.1 597.1,261.3 597.5,261.3 598.0,261.3 598.5,239.8 598.9,261.3 599.4,257.7 599.9,256.2 600.4,261.3 600.8,261.3 601.3,219.9 601.8,261.3 602.2,260.1 602.7,245.2 603.2,228.8 603.6,251.5 604.1,261.3 604.6,255.5 605.1,261.3 605.5,226.7 606.0,261.3 606.5,261.3 606.9,261.3 607.4,261.3 607.9,238.6 608.4,261.3 608.8,261.3 609.3,261.3 609.8,261.3 610.2,261.3 610.7,214.5 611.2,261.3 611.7,261.3 612.1,261.3 612.6,243.1 613.1,259.5 613.5,261.3 614.0,253.6 614.5,246.1 615.0,261.3 615.4,261.3 615.9,218.2 616.4,261.3 616.8,261.3 617.3,226.7 617.8,256.7 618.3,261.3 618.7,261.3 619.2,253.5 619.7,226.7 620.1,261.3 620.6,261.3 621.1,259.3 621.6,261.3 622.0,243.5 622.5,261.3 623.0,261.3 623.4,261.3 623.9,248.2 624.4,249.1 624.9,259.4 625.3,255.3 625.8,248.8 626.3,261.3 626.7,248.3 627.2,251.2 627.7,249.5 628.1,245.6 628.6,251.0 629.1,261.3 629.6,260.8 630.0,225.5 630.5,261.3 631.0,261.3 631.4,236.8 631.9,260.0 632.4,256.9 632.9,261.3 633.3,261.3 633.8,243.6 634.3,261.3 634.7,259.0 635.2,227.2 635.7,256.7 636.2,261.3 636.6,261.3 637.1,261.3 637.6,261.3 638.0,254.7 638.5,240.0 639.0,249.7 639.5,255.5 639.9,248.5 640.4,261.3 640.9,244.2 641.3,261.3 641.8,254.3 642.3,261.3 642.8,254.8 643.2,237.5 643.7,261.3 644.2,261.3 644.6,225.1 645.1,247.9 645.6,261.3 646.1,250.7 646.5,261.3 647.0,261.3 647.5,253.2 647.9,238.1 648.4,249.4 648.9,249.4 649.4,217.2 649.8,261.3 650.3,259.2 650.8,261.3 651.2,258.2 651.7,261.3 652.2,261.3 652.6,238.8 653.1,261.3 653.6,261.3 654.1,261.3 654.5,261.3 655.0,243.4 655.5,261.3 655.9,253.7 656.4,261.3 656.9,218.2 657.4,261.3 657.8,254.7 658.3,261.3 658.8,261.3 659.2,216.5 659.7,258.2 660.2,250.0 660.7,257.4 661.1,261.3 661.6,261.3 662.1,244.5 662.5,248.8 663.0,249.1 663.5,258.3 664.0,261.3 664.4,226.7 664.9,237.2 665.4,254.4 665.8,261.3 666.3,261.3 666.8,244.8 667.3,261.3 667.7,261.3 668.2,251.7 668.7,261.3 669.1,226.7 669.6,242.0 670.1,252.5 670.6,261.3 671.0,218.8 671.5,247.7 672.0,261.3 672.4,261.3 672.9,257.6 673.4,261.3 673.9,244.1 674.3,261.3 674.8,255.6 675.3,252.2 675.7,259.3 676.2,239.3 676.7,256.5 677.2,246.9 677.6,257.8 678.1,261.3 678.6,212.4 679.0,261.3 679.5,253.0 680.0,261.3 680.4,261.3 680.9,241.5 681.4,256.7 681.9,261.3 682.3,261.3 682.8,258.7 683.3,250.7 683.7,261.3 684.2,245.4 684.7,261.3 685.2,252.9 685.6,208.0 686.1,254.0 686.6,261.3 687.0,254.7 687.5,253.4 688.0,239.1 688.5,251.4 688.9,261.3 689.4,248.6 689.9,261.3 690.3,246.5 690.8,259.8 691.3,261.3 691.8,248.9 692.2,259.1 692.7,242.1 693.2,261.3 693.6,253.4 694.1,261.3 694.6,256.3 695.1,245.2 695.5,255.6 696.0,261.3 696.5,260.3 696.9,261.3 697.4,244.8 697.9,261.3 698.4,255.5 698.8,261.3 699.3,261.3 699.8,254.2 700.2,215.1 700.7,261.3 701.2,259.8 701.7,257.4 702.1,240.6 702.6,261.3 703.1,252.4 703.5,258.1 704.0,253.6 704.5,227.5 704.9,257.7 705.4,261.3 705.9,258.2 706.4,247.4 706.8,261.3 707.3,206.3 707.8,261.3 708.2,248.7 708.7,261.3 709.2,236.8 709.7,253.6 710.1,261.3 710.6,261.3 711.1,261.3 711.5,259.5 712.0,225.1 712.5,261.3 713.0,261.3 713.4,258.1 713.9,255.5 714.4,261.3 714.8,216.5 715.3,258.1 715.8,261.3 716.3,245.6 716.7,261.3 717.2,261.3 717.7,254.9 718.1,256.9 718.6,240.4 719.1,257.8 719.6,261.3 720.0,259.5 720.5,261.3 721.0,245.7 721.4,261.3 721.9,261.3 722.4,255.2 722.9,251.4 723.3,230.1 723.8,256.7 724.3,261.3 724.7,246.4 725.2,261.3 725.7,241.9 726.2,261.3 726.6,256.7 727.1,261.3 727.6,255.2 728.0,252.9 728.5,252.4 729.0,215.5 729.4,258.5 729.9,259.1 730.4,242.0 730.9,260.3 731.3,259.9 731.8,261.3 732.3,254.7 732.7,239.1 733.2,256.9 733.7,254.7 734.2,252.6 734.6,261.3 735.1,243.6 735.6,261.3 736.0,253.4 736.5,213.8 737.0,261.3 737.5,261.3 737.9,258.9 738.4,261.3 738.9,259.8 739.3,261.3 739.8,232.4 740.3,261.3 740.8,253.7 741.2,261.3 741.7,260.0 742.2,242.1 742.6,261.3 743.1,261.3 743.6,222.6 744.1,247.7 744.5,261.3 745.0,254.5 745.5,260.6 745.9,259.7 746.4,246.8 746.9,238.6 747.4,261.3 747.8,254.6 748.3,256.8 748.8,261.3 749.2,243.0 749.7,261.3 750.2,261.3 750.7,258.3 751.1,257.4 751.6,238.3 752.1,261.3 752.5,261.3 753.0,257.0 753.5,261.3 754.0,235.8 754.4,241.2 754.9,254.5 755.4,261.3 755.8,250.6 756.3,228.6 756.8,247.1 757.2,261.3 757.7,261.3 758.2,218.2 758.7,247.6 759.1,261.3 759.6,258.7 760.1,259.4 760.5,214.1 761.0,257.0 761.5,261.3 762.0,261.3 762.4,261.3 762.9,261.3 763.4,237.8 763.8,250.4 764.3,257.1 764.8,261.3 765.3,213.8 765.7,261.3 766.2,255.1 766.7,261.3 767.1,256.3 767.6,261.3 768.1,243.1 768.6,249.4 769.0,251.0 769.5,261.3 770.0,261.3 770.4,235.3 770.9,261.3 771.4,261.3 771.9,252.3 772.3,226.3 772.8,258.9 773.3,261.3 773.7,258.4 774.2,261.3 774.7,259.2 775.2,245.1 775.6,251.5 776.1,250.0 776.6,259.2 777.0,261.3 777.5,219.9 778.0,261.3 778.5,259.8 778.9,261.3 779.4,256.1 779.9,243.3 780.3,257.9 780.8,261.3 781.3,261.3 781.7,261.3 782.2,245.8 782.7,246.0 783.2,252.1 783.6,255.9 784.1,259.0 784.6,226.3 785.0,250.3 785.5,255.1 786.0,260.1 786.5,249.4 786.9,226.7 787.4,261.3 787.9,261.3 788.3,261.3 788.8,261.3 789.3,241.3 789.8,260.2 790.2,261.3 790.7,256.9 791.2,261.3 791.6,226.7 792.1,261.3 792.6,257.6 793.1,261.3 793.5,259.7 794.0,234.6 794.5,244.4 794.9,261.3 795.4,253.0 795.9,261.3 796.4,237.6 796.8,261.3 797.3,256.5 797.8,261.3 798.2,261.3 798.7,261.3 799.2,216.5 799.7,254.4 800.1,259.1 800.6,261.3 801.1,228.5 801.5,259.7 802.0,254.2 802.5,261.3 803.0,250.4 803.4,255.2 803.9,219.2 804.4,259.5 804.8,251.1 805.3,258.9 805.8,245.0 806.2,261.3 806.7,254.7 807.2,261.3 807.7,261.3 808.1,245.6 808.6,261.3 809.1,261.3 809.5,247.8 810.0,245.9 810.5,251.2 811.0,261.3 811.4,260.7 811.9,258.0 812.4,253.3 812.8,261.3 813.3,211.8 813.8,261.3 814.3,261.3 814.7,261.3 815.2,247.2 815.7,261.3 816.1,256.8 816.6,261.3 817.1,250.4 817.6,246.4 818.0,254.9 818.5,261.3 819.0,261.3 819.4,261.3 819.9,242.1 820.4,261.3 820.9,261.3 821.3,261.3 821.8,259.2 822.3,237.1 822.7,261.3 823.2,256.0 823.7,245.9 824.2,261.3 824.6,242.6 825.1,247.2 825.6,256.2 826.0,261.3 826.5,250.7 827.0,261.3 827.5,261.3 827.9,203.4 828.4,255.6 828.9,261.3 829.3,239.6 829.8,244.3 830.3,260.4 830.8,261.3 831.2,253.8 831.7,244.7 832.2,255.6 832.6,261.3 833.1,261.3 833.6,261.3 834.0,243.9 834.5,261.3 835.0,246.3 835.5,261.3 835.9,255.4 836.4,239.2 836.9,256.5 837.3,261.3 837.8,246.6 838.3,261.3 838.8,226.7 839.2,261.3 839.7,255.4 840.2,202.2 840.6,261.3 841.1,261.3 841.6,261.3 842.1,261.3 842.5,210.3 843.0,261.3 843.5,254.0 843.9,252.5 844.4,261.3 844.9,261.3 845.4,247.8 845.8,241.4 846.3,255.9 846.8,261.3 847.2,261.3 847.7,261.3 848.2,232.6 848.7,261.3 849.1,257.4 849.6,261.3 850.1,250.2 850.5,244.1 851.0,261.3 851.5,261.3 852.0,252.0 852.4,261.3 852.9,240.6 853.4,261.3 853.8,261.3 854.3,254.7 854.8,261.3 855.3,228.7 855.7,261.3 856.2,259.7 856.7,261.3 857.1,225.1 857.6,261.3 858.1,261.3 858.5,261.3 859.0,254.3 859.5,261.3 860.0,250.9 860.4,261.3 860.9,261.3 861.4,261.3 861.8,261.3 862.3,236.4 862.8,261.3 863.3,259.7 863.7,261.3 864.2,261.3 864.7,239.8 865.1,257.5 865.6,261.3 866.1,261.3 866.6,261.3 867.0,226.7 867.5,252.6 868.0,261.3 868.4,261.3 868.9,223.2 869.4,255.6 869.9,257.2 870.3,255.3 870.8,261.3 871.3,261.3 871.7,228.5 872.2,261.3 872.7,259.2 873.2,261.3 873.6,202.2 874.1,257.6 874.6,261.3 875.0,261.3 875.5,261.3 876.0,261.3 876.5,252.9 876.9,261.3 877.4,261.3 877.9,261.3 878.3,261.3 878.8,226.7 879.3,234.3 879.8,260.7 880.2,257.9 880.7,261.3 881.2,250.4 881.6,261.3 882.1,245.6 882.6,248.2 883.1,254.0 883.5,214.5 884.0,255.7 884.5,261.3 884.9,250.3 885.4,251.2 885.9,228.8 886.3,261.3 886.8,257.0 887.3,261.3 887.8,257.1 888.2,238.0 888.7,260.5 889.2,255.2 889.6,256.1 890.1,250.2 890.6,242.3 891.1,248.1 891.5,261.3 892.0,261.3 892.5,246.5 892.9,235.2 893.4,256.3 893.9,261.3 894.4,254.8 894.8,261.3 895.3,234.9 895.8,261.3 896.2,261.3 896.7,261.3 897.2,259.5 897.7,255.9 898.1,213.2 898.6,261.3 899.1,250.0 899.5,261.3 900.0,244.0 900.5,261.3 901.0,255.0 901.4,261.3 901.9,261.3 902.4,255.5 902.8,222.6 903.3,261.3 903.8,252.3 904.3,251.2 904.7,237.4 905.2,260.8 905.7,258.4 906.1,252.3 906.6,259.8 907.1,226.7 907.6,261.3 908.0,259.5 908.5,248.1 909.0,250.4 909.4,238.9 909.9,261.3 910.4,258.3 910.8,261.3 911.3,261.3 911.8,247.5 912.3,218.8 912.7,259.9 913.2,255.6 913.7,261.3 914.1,226.7 914.6,261.3 915.1,261.3 915.6,247.4 916.0,261.3 916.5,245.9 917.0,259.1 917.4,261.3 917.9,255.3 918.4,259.5 918.9,261.3 919.3,261.3 919.8,218.6 920.3,259.9 920.7,246.9 921.2,239.2 921.7,261.3 922.2,261.3 922.6,259.8 923.1,261.3 923.6,237.6 924.0,261.3 924.5,254.0 925.0,261.3 925.5,256.2 925.9,258.5 926.4,261.3 926.9,221.5 927.3,260.4 927.8,258.1 928.3,226.7 928.8,261.3 929.2,256.3 929.7,261.3 930.2,261.3 930.6,237.4 931.1,253.9 931.6,261.3 932.1,249.0 932.5,253.2 933.0,236.7 933.5,260.2 933.9,261.3 934.4,252.3 934.9,255.1 935.3,242.6 935.8,253.2 936.3,261.3 936.8,256.4 937.2,261.3 937.7,250.0 938.2,255.4 938.6,261.3 939.1,217.8 939.6,258.2 940.1,253.7 940.5,261.3 941.0,261.3 941.5,219.2 941.9,261.3 942.4,250.4 942.9,261.3 943.4,261.3 943.8,261.3 944.3,261.3 944.8,240.8 945.2,261.3 945.7,245.7 946.2,261.3 946.7,261.3 947.1,246.5 947.6,253.3 948.1,261.3 948.5,258.9 949.0,260.7 949.5,242.3 950.0,246.3 950.4,247.9 950.9,257.2 951.4,258.9 951.8,248.5 952.3,256.5 952.8,254.1 953.3,209.1 953.7,256.8 954.2,248.9 954.7,254.4 955.1,247.1 955.6,256.1 956.1,261.3 956.6,231.4 957.0,261.3 957.5,246.8 958.0,261.3 958.4,221.5 958.9,261.3 959.4,254.7 959.9,261.3 960.3,256.0 960.8,261.3 961.3,226.7 961.7,261.3 962.2,261.3 962.7,261.3 963.1,254.7 963.6,226.7 964.1,256.8 964.6,261.3 965.0,250.8 965.5,261.3 966.0,247.0 966.4,256.2 966.9,261.3 967.4,261.3 967.9,203.4 968.3,261.3 968.8,253.5 969.3,261.3 969.7,253.5 970.2,98.1 970.7,261.3 971.2,261.3 971.6,261.3 972.1,260.3 972.6,261.3 973.0,240.6 973.5,253.5 974.0,255.1 974.5,248.7 974.9,259.9 975.4,241.3 975.9,255.4 976.3,261.3 976.8,258.4 977.3,255.9 977.8,242.7 978.2,246.8 978.7,261.3 979.2,261.3 979.6,261.3 980.1,245.1 980.6,255.6 981.1,254.1 981.5,261.3 982.0,261.3 982.5,206.8 982.9,260.2 983.4,252.4 983.9,256.0 984.4,261.3 984.8,246.5 985.3,251.1 985.8,260.3 986.2,261.3 986.7,259.2 987.2,247.5 987.6,253.2 988.1,261.3 988.6,259.5 989.1,258.6 989.5,226.7 990.0,261.3 990.5,257.0 990.9,261.3 991.4,261.3 991.9,242.0 992.4,261.3 992.8,259.4 993.3,261.3 993.8,254.6 994.2,226.7 994.7,261.3 995.2,253.7 995.7,259.2 996.1,261.3 996.6,243.2 997.1,248.2 997.5,259.9 998.0,261.3 998.5,258.8 999.0,258.2 999.4,222.6 999.9,261.3 1000.4,261.3 1000.8,245.9 1001.3,240.5 1001.8,243.3 1002.3,256.5 1002.7,261.3 1003.2,253.9 1003.7,240.1 1004.1,261.3 1004.6,255.8 1005.1,261.3 1005.6,261.3 1006.0,254.9 1006.5,220.5 1007.0,261.3 1007.4,254.9 1007.9,259.2 1008.4,231.4 1008.9,261.3 1009.3,246.5 1009.8,261.3 1010.3,258.7 1010.7,261.3 1011.2,221.7 1011.7,256.0 1012.1,255.5 1012.6,261.3 1013.1,237.0 1013.6,261.3 1014.0,261.3 1014.5,261.3 1015.0,250.0 1015.4,227.4 1015.9,245.7 1016.4,248.2 1016.9,261.3 1017.3,261.3 1017.8,243.0 1018.3,261.3 1018.7,261.3 1019.2,259.3 1019.7,259.0 1020.2,233.2 1020.6,261.3 1021.1,261.3 1021.6,249.0 1022.0,261.3 1022.5,232.4 1023.0,261.3 1023.5,251.4 1023.9,261.3 1024.4,256.6 1024.9,261.3 1025.3,261.3 1025.8,217.2 1026.3,254.8 1026.8,261.3 1027.2,244.5 1027.7,261.3 1028.2,260.2 1028.6,261.3 1029.1,260.1 1029.6,231.6 1030.1,256.4 1030.5,261.3 1031.0,261.3 1031.5,261.3 1031.9,238.8 1032.4,261.3 1032.9,247.4 1033.4,257.0 1033.8,261.3 1034.3,237.2 1034.8,261.3 1035.2,261.3 1035.7,248.0 1036.2,261.3 1036.7,245.2 1037.1,261.3 1037.6,245.0 1038.1,261.3 1038.5,257.8 1039.0,261.3 1039.5,255.3 1039.9,218.2 1040.4,256.0 1040.9,261.3 1041.4,226.7 1041.8,249.9 1042.3,261.3 1042.8,210.3 1043.2,259.5 1043.7,259.8 1044.2,261.3 1044.7,261.3 1045.1,211.3 1045.6,261.3 1046.1,259.1 1046.5,261.3 1047.0,261.3 1047.5,261.3 1048.0,261.3 1048.4,228.7 1048.9,241.6 1049.4,261.3 1049.8,260.3 1050.3,261.3 1050.8,236.7 1051.3,261.3 1051.7,248.0 1052.2,261.3 1052.7,256.3 1053.1,237.5 1053.6,254.1 1054.1,261.3 1054.6,209.5 1055.0,260.6 1055.5,253.6 1056.0,261.3 1056.4,259.9 1056.9,261.3 1057.4,257.5 1057.9,229.8 1058.3,255.7 1058.8,261.3 1059.3,261.3 1059.7,217.2 1060.2,247.5 1060.7,261.3 1061.2,258.6 1061.6,257.7 1062.1,261.3 1062.6,231.0 1063.0,248.2 1063.5,261.3 1064.0,261.3 1064.4,261.3 1064.9,246.2 1065.4,261.3 1065.9,259.3 1066.3,261.3 1066.8,222.6 1067.3,255.3 1067.7,261.3 1068.2,258.3 1068.7,248.6 1069.2,261.3 1069.6,217.8 1070.1,257.8 1070.6,261.3 1071.0,261.3 1071.5,216.6 1072.0,261.3 1072.5,261.3 1072.9,260.7 1073.4,261.3 1073.9,261.3 1074.3,236.5 1074.8,261.3 1075.3,246.7 1075.8,250.5 1076.2,257.1 1076.7,244.3 1077.2,255.3 1077.6,261.3 1078.1,256.4 1078.6,249.1 1079.1,238.7 1079.5,261.3 1080.0,254.1 1080.5,261.3 1080.9,261.3 1081.4,202.0 1081.9,259.5 1082.4,261.3 1082.8,261.3 1083.3,261.3 1083.8,226.7 1084.2,258.5 1084.7,249.2 1085.2,261.3 1085.7,256.6 1086.1,238.8 1086.6,260.9 1087.1,261.3 1087.5,254.0 1088.0,261.3 1088.5,243.2 1089.0,261.3 1089.4,257.2 1089.9,261.3 1090.4,253.9 1090.8,233.3 1091.3,261.3 1091.8,261.3 1092.2,252.9 1092.7,261.3 1093.2,226.7 1093.7,261.3 1094.1,259.4 1094.6,261.3 1095.1,254.8 1095.5,253.1 1096.0,249.1 1096.5,261.3 1097.0,261.3 1097.4,261.3 1097.9,259.2 1098.4,222.6 1098.8,257.4 1099.3,261.3 1099.8,255.0 1100.3,252.7 1100.7,223.6 1101.2,261.3 1101.7,258.4 1102.1,261.3 1102.6,240.6 1103.1,261.3 1103.6,245.1 1104.0,258.0 1104.5,258.0 1105.0,242.5 1105.4,259.1 1105.9,261.3 1106.4,259.1 1106.9,260.4 1107.3,235.2 1107.8,261.3 1108.3,261.3 1108.7,257.8 1109.2,261.3 1109.7,261.3 1110.2,261.3 1110.6,208.6 1111.1,261.3 1111.6,258.8 1112.0,226.7 1112.5,261.3 1113.0,256.2 1113.5,245.6 1113.9,261.3 1114.4,247.4 1114.9,255.0 1115.3,261.3 1115.8,254.8 1116.3,261.3 1116.7,238.9 1117.2,246.2 1117.7,248.3 1118.2,261.3 1118.6,254.2 1119.1,236.3 1119.6,261.3 1120.0,261.3 1120.5,261.3 1121.0,261.3 1121.5,242.8 1121.9,261.3 1122.4,261.3 1122.9,246.5 1123.3,260.7 1123.8,252.0 1124.3,261.3 1124.8,261.3 1125.2,208.8 1125.7,261.3 1126.2,252.5 1126.6,255.8 1127.1,255.8 1127.6,261.3 1128.1,252.5 1128.5,226.7 1129.0,248.6 1129.5,261.3 1129.9,259.8 1130.4,261.3 1130.9,226.7 1131.4,261.3 1131.8,255.9 1132.3,260.0 1132.8,245.6 1133.2,250.3 1133.7,255.6 1134.2,261.3 1134.7,260.9 1135.1,261.3 1135.6,226.7 1136.1,256.9 1136.5,261.3 1137.0,256.1 1137.5,261.3 1138.0,231.4 1138.4,261.3 1138.9,261.3 1139.4,208.2 1139.8,254.1 1140.3,261.3 1140.8,247.1 1141.2,254.8 1141.7,261.3 1142.2,249.5 1142.7,226.7 1143.1,261.3 1143.6,254.5 1144.1,250.6 1144.5,261.3 1145.0,249.8 1145.5,261.3 1146.0,259.0 1146.4,261.3 1146.9,261.3 1147.4,246.9 1147.8,261.3 1148.3,261.3 1148.8,247.8 1149.3,253.1 1149.7,240.2 1150.2,251.2 1150.7,245.1 1151.1,257.4 1151.6,253.1 1152.1,235.7 1152.6,252.7 1153.0,261.3 1153.5,201.2 1154.0,261.3 1154.4,261.3 1154.9,249.2 1155.4,261.3 1155.9,261.3 1156.3,261.3 1156.8,237.5 1157.3,256.4 1157.7,261.3 1158.2,261.3 1158.7,261.3 1159.2,241.8 1159.6,261.3 1160.1,261.3 1160.6,261.3 1161.0,254.5 1161.5,236.9 1162.0,253.8 1162.5,254.5 1162.9,252.2 1163.4,255.8 1163.9,226.7 1164.3,252.4 1164.8,248.6 1165.3,261.3 1165.8,261.3 1166.2,226.7 1166.7,261.3 1167.2,261.3 1167.6,249.2 1168.1,200.5 1168.6,254.3 1169.0,261.3 1169.5,247.8 1170.0,261.3 1170.5,255.3 1170.9,237.4 1171.4,255.0 1171.9,261.3 1172.3,250.4 1172.8,261.3 1173.3,235.1 1173.8,261.3 1174.2,258.6 1174.7,261.3 1175.2,257.1 1175.6,226.7 1176.1,258.7 1176.6,261.3 1177.1,261.3 1177.5,261.3 1178.0,229.5 1178.5,261.3 1178.9,259.7 1179.4,257.0 1179.9,261.3 1180.4,241.7 1180.8,261.3 1181.3,261.3 1181.8,247.8 1182.2,261.3 1182.7,218.8 1183.2,261.3 1183.7,260.6 1184.1,261.3 1184.6,249.7 1185.1,239.9 1185.5,261.3 1186.0,249.7 1186.5,260.5 1187.0,255.5 1187.4,221.3 1187.9,261.3 1188.4,259.7 1188.8,261.3 1189.3,261.3 1189.8,248.8 1190.3,261.3 1190.7,261.3 1191.2,261.3 1191.7,261.3 1192.1,241.2 1192.6,261.3 1193.1,253.7 1193.5,261.3 1194.0,259.5 1194.5,245.3 1195.0,248.0 1195.4,261.3 1195.9,260.6 1196.4,261.3 1196.8,258.1 1197.3,219.2 1197.8,258.9 1198.3,261.3 1198.7,246.3 1199.2,242.0 1199.7,261.3 1200.1,248.3 1200.6,258.2 1201.1,261.3 1201.6,229.3 1202.0,261.3 1202.5,245.5 1203.0,252.5 1203.4,261.3 1203.9,231.7 1204.4,259.6 1204.9,261.3 1205.3,261.3 1205.8,261.3 1206.3,245.6 1206.7,257.0 1207.2,261.3 1207.7,261.3 1208.2,245.0 1208.6,248.8 1209.1,247.6 1209.6,261.3 1210.0,254.4 1210.5,261.3 1211.0,250.4 1211.5,221.3 1211.9,261.3 1212.4,256.7 1212.9,261.3 1213.3,242.2 1213.8,246.6 1214.3,247.8 1214.8,258.5 1215.2,261.3 1215.7,246.0 1216.2,252.0 1216.6,261.3 1217.1,261.3 1217.6,261.3 1218.0,251.9 1218.5,251.7 1219.0,261.3 1219.5,258.2 1219.9,261.3 1220.4,257.2 1220.9,261.3 1221.3,222.0 1221.8,252.6 1222.3,255.3 1222.8,226.7 1223.2,261.3 1223.7,260.5 1224.2,250.3 1224.6,261.3 1225.1,253.5 1225.6,261.3 1226.1,214.0 1226.5,261.3 1227.0,252.2 1227.5,230.0 1227.9,260.7 1228.4,261.3 1228.9,261.3 1229.4,261.3 1229.8,226.7 1230.3,261.3 1230.8,255.9 1231.2,261.3 1231.7,259.2 1232.2,240.2 1232.7,261.3 1233.1,261.3 1233.6,257.4 1234.1,261.3 1234.5,233.7 1235.0,261.3 1235.5,249.6 1236.0,260.2 1236.4,261.3 1236.9,243.3 1237.4,261.3 1237.8,261.3 1238.3,261.3 1238.8,261.3 1239.3,244.5 1239.7,251.9 1240.2,261.3 1240.7,206.4 1241.1,246.0 1241.6,261.3 1242.1,261.3 1242.6,259.9 1243.0,261.3 1243.5,254.4 1244.0,233.3 1244.4,261.3 1244.9,255.7 1245.4,260.8 1245.8,255.5 1246.3,242.4 1246.8,261.3 1247.3,261.3 1247.7,259.6 1248.2,261.3 1248.7,236.1 1249.1,261.3 1249.6,259.7 1250.1,221.7 1250.6,259.3 1251.0,255.3 1251.5,255.9 1252.0,261.3 1252.4,253.1 1252.9,246.8 1253.4,242.0 1253.9,253.8 1254.3,257.2 1254.8,205.9 1255.3,255.4 1255.7,261.3 1256.2,261.3 1256.7,261.3 1257.2,251.8 1257.6,261.3 1258.1,230.4 1258.6,241.6 1259.0,250.3 1259.5,261.3 1260.0,249.5 1260.5,244.0 1260.9,254.6 1261.4,261.3 1261.9,260.0 1262.3,260.1 1262.8,238.3 1263.3,261.3 1263.8,261.3 1264.2,249.7 1264.7,257.0 1265.2,239.4 1265.6,258.1 1266.1,261.3 1266.6,261.3 1267.1,261.3 1267.5,247.9 1268.0,251.9 1268.5,250.3 1268.9,261.3 1269.4,209.5 1269.9,261.3 1270.3,261.3 1270.8,261.3 1271.3,255.2 1271.8,261.3 1272.2,245.4 1272.7,256.9 1273.2,260.5 1273.6,258.4 1274.1,211.5 1274.6,261.3 1275.1,252.7 1275.5,257.4 1276.0,261.3 1276.5,250.4 1276.9,239.2 1277.4,261.3 1277.9,255.7 1278.4,250.6 1278.8,258.2 1279.3,233.4 1279.8,252.8 1280.2,261.3 1280.7,261.3 1281.2,257.1 1281.7,246.6 1282.1,261.3 1282.6,259.9 1283.1,249.6 1283.5,261.3 1284.0,209.1 1284.5,250.2 1285.0,261.3 1285.4,261.3 1285.9,248.6 1286.4,222.6 1286.8,256.2 1287.3,261.3 1287.8,261.3 1288.3,255.0 1288.7,246.8 1289.2,261.3 1289.7,248.4 1290.1,261.3 1290.6,259.8 1291.1,243.3 1291.6,261.3 1292.0,261.3 1292.5,252.7 1293.0,256.9 1293.4,239.7 1293.9,255.8 1294.4,261.3 1294.8,253.2 1295.3,254.7 1295.8,209.1 1296.3,261.3 1296.7,261.3 1297.2,258.1 1297.7,260.3 1298.1,228.6 1298.6,261.3 1299.1,261.3 1299.6,258.6 1300.0,261.3 1300.5,241.1 1301.0,261.3 1301.4,249.6 1301.9,256.8 1302.4,261.3 1302.9,243.4 1303.3,260.6 1303.8,254.8 1304.3,261.3 1304.7,261.3 1305.2,249.5 1305.7,211.5 1306.2,246.1 1306.6,261.3 1307.1,256.8 1307.6,242.9 1308.0,261.3 1308.5,257.6 1309.0,255.9 1309.5,246.5 1309.9,261.3 1310.4,213.2 1310.9,259.7 1311.3,246.9 1311.8,259.0 1312.3,233.4 1312.8,245.1 1313.2,261.3 1313.7,248.8 1314.2,261.3 1314.6,248.4 1315.1,255.3 1315.6,261.3 1316.1,247.9 1316.5,246.5 1317.0,250.7 1317.5,248.8 1317.9,261.3 1318.4,261.3 1318.9,261.3 1319.4,234.0 1319.8,261.3 1320.3,254.6 1320.8,261.3 1321.2,249.3 1321.7,233.3 1322.2,256.2 1322.6,261.3 1323.1,246.1 1323.6,261.3 1324.1,250.5 1324.5,261.3 1325.0,254.0 1325.5,257.7 1325.9,261.3 1326.4,250.9 1326.9,255.3 1327.4,259.5 1327.8,258.4 1328.3,261.3 1328.8,261.3 1329.2,261.3 1329.7,175.3 1330.2,261.3 1330.7,261.3 1331.1,239.8 1331.6,249.1 1332.1,261.3 1332.5,254.4 1333.0,261.3 1333.5,242.7 1334.0,261.3 1334.4,255.1 1334.9,205.1 1335.4,261.3 1335.8,261.3 1336.3,261.3 1336.8,261.3 1337.3,258.2 1337.7,260.7 1338.2,238.0 1338.7,261.3 1339.1,261.3 1339.6,222.4 1340.1,259.5 1340.6,253.0 1341.0,254.8 1341.5,261.3 1342.0,255.1 1342.4,261.3 1342.9,243.9 1343.4,246.6 1343.9,250.7 1344.3,261.3 1344.8,225.9 1345.3,254.1 1345.7,255.3 1346.2,248.7 1346.7,251.1 1347.1,261.3 1347.6,239.8 1348.1,261.3 1348.6,258.2 1349.0,261.3 1349.5,256.2 1350.0,234.7 1350.4,258.9 1350.9,261.3 1351.4,258.8 1351.9,247.8 1352.3,248.9 1352.8,261.3 1353.3,256.9 1353.7,223.2 1354.2,257.3 1354.7,261.3 1355.2,261.3 1355.6,261.3 1356.1,261.3 1356.6,261.3 1357.0,243.3 1357.5,255.4 1358.0,261.3 1358.5,256.6 1358.9,254.6 1359.4,234.3 1359.9,261.3 1360.3,261.3 1360.8,250.0 1361.3,261.3 1361.8,229.4 1362.2,258.0 1362.7,261.3 1363.2,261.3 1363.6,258.9 1364.1,236.7 1364.6,240.8 1365.1,261.3 1365.5,257.6 1366.0,261.3 1366.5,229.1 1366.9,261.3 1367.4,259.9 1367.9,261.3 1368.4,209.9 1368.8,261.3 1369.3,253.8 1369.8,261.3 1370.2,258.3 1370.7,261.3 1371.2,247.4 1371.7,261.3 1372.1,246.0 1372.6,256.2 1373.1,261.3 1373.5,248.1 1374.0,260.2 1374.5,259.3 1374.9,261.3 1375.4,253.5 1375.9,226.7 1376.4,261.3 1376.8,261.3 1377.3,261.3 1377.8,261.3 1378.2,245.1 1378.7,261.3 1379.2,246.5 1379.7,260.1 1380.1,261.3 1380.6,231.5 1381.1,261.3 1381.5,261.3 1382.0,261.3 1382.5,248.1 1383.0,213.8 1383.4,248.1 1383.9,261.3 1384.4,258.2 1384.8,261.3 1385.3,226.7 1385.8,261.3 1386.3,261.3 1386.7,261.3 1387.2,256.4 1387.7,193.4 1388.1,261.3 1388.6,261.3 1389.1,250.1 1389.6,261.3 1390.0,239.2 1390.5,246.7 1391.0,255.6 1391.4,261.3 1391.9,255.7 1392.4,235.9 1392.9,250.9 1393.3,261.3 1393.8,259.5 1394.3,261.3 1394.7,254.7 1395.2,202.4 1395.7,253.6 1396.2,261.3 1396.6,261.3 1397.1,247.9 1397.6,135.6 1398.0,255.5 1398.5,256.2 1399.0,261.3 1399.4,244.7 1399.9,261.3 1400.4,258.0 1400.9,261.3 1401.3,251.4 1401.8,242.3 1402.3,261.3 1402.7,259.9 1403.2,260.9 1403.7,261.3 1404.2,242.4 1404.6,250.9 1405.1,260.8 1405.6,261.3 1406.0,255.4 1406.5,240.8 1407.0,249.9 1407.5,261.3 1407.9,261.3 1408.4,261.3 1408.9,237.9 1409.3,261.3 1409.8,261.3 1410.3,261.3 1410.8,261.3 1411.2,254.0 1411.7,224.2 1412.2,249.9 1412.6,247.0 1413.1,261.3 1413.6,226.7 1414.1,261.3 1414.5,259.4 1415.0,261.3 1415.5,248.6 1415.9,255.0 1416.4,226.3 1416.9,261.3 1417.4,247.1 1417.8,258.2 1418.3,244.0 1418.8,261.3 1419.2,256.1 1419.7,261.3 1420.2,246.1 1420.7,239.3 1421.1,261.3 1421.6,261.3 1422.1,258.2 1422.5,261.3 1423.0,249.9 1423.5,261.3 1423.9,261.3 1424.4,261.3 1424.9,258.9 1425.4,256.9 1425.8,252.2 1426.3,227.2 1426.8,261.3 1427.2,261.3 1427.7,237.4 1428.2,261.3 1428.7,256.1 1429.1,245.0 1429.6,261.3 1430.1,226.7 1430.5,248.8 1431.0,260.8 1431.5,259.7 1432.0,261.3 1432.4,261.3 1432.9,252.5 1433.4,225.1 1433.8,255.8 1434.3,261.3 1434.8,238.1 1435.3,255.2 1435.7,251.1 1436.2,260.9 1436.7,257.0 1437.1,247.0 1437.6,261.3 1438.1,245.7 1438.6,251.3 1439.0,261.3 1439.5,233.7 1440.0,260.9 1440.4,248.3 1440.9,228.0 1441.4,261.3 1441.9,258.7 1442.3,261.3 1442.8,261.3 1443.3,261.3 1443.7,261.3 1444.2,238.2 1444.7,258.9 1445.2,261.3 1445.6,256.4 1446.1,261.3 1446.6,237.1 1447.0,245.9 1447.5,259.4 1448.0,261.3 1448.5,257.7 1448.9,226.7 1449.4,261.3 1449.9,261.3 1450.3,261.3 1450.8,261.3 1451.3,243.6 1451.7,252.0 1452.2,261.3 1452.7,187.0 1453.2,261.3 1453.6,253.5 1454.1,256.3 1454.6,249.8 1455.0,259.6 1455.5,261.3 1456.0,237.9 1456.5,260.0 1456.9,261.3 1457.4,261.3 1457.9,257.0 1458.3,234.3 1458.8,251.8 1459.3,261.3 1459.8,260.1 1460.2,258.6 1460.7,243.6 1461.2,261.3 1461.6,248.5 1462.1,260.1 1462.6,261.3 1463.1,246.1 1463.5,261.3 1464.0,261.3 1464.5,261.3 1464.9,261.3 1465.4,233.0 1465.9,261.3 1466.4,254.6 1466.8,261.3 1467.3,203.4 1467.8,253.6 1468.2,258.4 1468.7,261.3 1469.2,261.3 1469.7,261.3 1470.1,229.3 1470.6,252.7 1471.1,255.0 1471.5,261.3 1472.0,261.3 1472.5,235.2 1473.0,258.9 1473.4,261.3 1473.9,260.1 1474.4,261.3 1474.8,236.0 1475.3,255.5 1475.8,261.3 1476.2,261.3 1476.7,261.3 1477.2,242.3 1477.7,261.3 1478.1,261.3 1478.6,260.1 1479.1,260.4 1479.5,230.5 1480.0,261.3 1480.5,257.0 1481.0,261.3 1481.4,256.3 1481.9,218.8 1482.4,252.7 1482.8,261.3 1483.3,251.5 1483.8,261.3 1484.3,225.1 1484.7,261.3 1485.2,256.5 1485.7,252.1 1486.1,247.5 1486.6,243.0 1487.1,256.4 1487.6,261.3 1488.0,261.3 1488.5,261.3 1489.0,235.6 1489.4,261.3 1489.9,245.8 1490.4,261.3 1490.9,255.5 1491.3,230.7 1491.8,252.2 1492.3,261.3 1492.7,248.0 1493.2,261.3 1493.7,248.4 1494.2,261.3 1494.6,261.3 1495.1,261.3 1495.6,261.3 1496.0,218.2 1496.5,255.0 1497.0,261.3 1497.5,256.4 1497.9,261.3 1498.4,247.4 1498.9,225.5 1499.3,253.9 1499.8,250.1 1500.3,254.8 1500.7,261.3 1501.2,259.2 1501.7,225.1 1502.2,259.2 1502.6,252.2 1503.1,232.5 1503.6,261.3 1504.0,259.4 1504.5,261.3 1505.0,258.8 1505.5,240.5 1505.9,247.0 1506.4,261.3 1506.9,261.3 1507.3,261.3 1507.8,254.4 1508.3,220.9 1508.8,254.2 1509.2,261.3 1509.7,258.7 1510.2,246.6 1510.6,257.7 1511.1,221.3 1511.6,261.3 1512.1,261.3 1512.5,249.8 1513.0,252.5 1513.5,255.9 1513.9,261.3 1514.4,261.3 1514.9,248.2 1515.4,261.3 1515.8,261.3 1516.3,245.4 1516.8,258.3 1517.2,231.4 1517.7,261.3 1518.2,258.6 1518.7,247.4 1519.1,260.7 1519.6,245.8 1520.1,248.4 1520.5,261.3 1521.0,261.3 1521.5,261.3 1522.0,261.3 1522.4,261.3 1522.9,215.1 1523.4,261.3 1523.8,261.3 1524.3,246.4 1524.8,248.8 1525.3,257.5 1525.7,248.6 1526.2,261.3 1526.7,260.4 1527.1,261.3 1527.6,216.5 1528.1,261.3 1528.5,250.9 1529.0,228.3 1529.5,248.8 1530.0,261.3 1530.4,261.3 1530.9,245.4 1531.4,226.9 1531.8,230.6 1532.3,252.1 1532.8,256.8 1533.3,255.4 1533.7,243.9 1534.2,254.7 1534.7,261.3 1535.1,255.6 1535.6,261.3 1536.1,226.7 1536.6,261.3 1537.0,258.9 1537.5,206.8 1538.0,258.6 1538.4,260.6 1538.9,261.3 1539.4,261.3 1539.9,260.0 1540.3,261.3 1540.8,240.9 1541.3,254.6 1541.7,255.9 1542.2,261.3 1542.7,245.5 1543.2,226.7 1543.6,246.4 1544.1,261.3 1544.6,258.7 1545.0,261.3 1545.5,239.7 1546.0,261.3 1546.5,261.3 1546.9,261.3 1547.4,259.4 1547.9,226.9 1548.3,260.5 1548.8,261.3 1549.3,256.4 1549.8,261.3 1550.2,243.5 1550.7,261.3 1551.2,254.6 1551.6,261.3 1552.1,211.5 1552.6,261.3 1553.0,252.5 1553.5,261.3 1554.0,252.2 1554.5,248.9 1554.9,239.2 1555.4,261.3 1555.9,261.3 1556.3,255.7 1556.8,162.2 1557.3,259.4 1557.8,255.0 1558.2,259.8 1558.7,245.3 1559.2,249.8 1559.6,237.4 1560.1,252.8 1560.6,251.8 1561.1,261.3 1561.5,261.3 1562.0,242.9 1562.5,261.3 1562.9,246.8 1563.4,261.3 1563.9,256.5 1564.4,249.4 1564.8,247.5 1565.3,261.3 1565.8,251.1 1566.2,209.1 1566.7,261.3 1567.2,258.9 1567.7,261.3 1568.1,258.2 1568.6,261.3 1569.1,235.8 1569.5,249.6 1570.0,260.3 1570.5,261.3 1571.0,257.5 1571.4,236.4 1571.9,255.5 1572.4,261.3 1572.8,248.4 1573.3,261.3 1573.8,226.7 1574.3,261.3 1574.7,261.3 1575.2,258.6 1575.7,246.1 1576.1,249.5 1576.6,261.3 1577.1,260.4 1577.5,256.2 1578.0,261.3 1578.5,230.3 1579.0,261.3 1579.4,258.4 1579.9,261.3 1580.4,261.3 1580.8,212.2 1581.3,261.3 1581.8,255.4 1582.3,256.6 1582.7,261.3 1583.2,231.9 1583.7,261.3 1584.1,258.5 1584.6,261.3 1585.1,261.3 1585.6,248.2 1586.0,218.2 1586.5,256.6 1587.0,260.1 1587.4,261.3 1587.9,228.1 1588.4,261.3 1588.9,258.4 1589.3,250.6 1589.8,251.5 1590.3,236.7 1590.7,260.3 1591.2,261.3 1591.7,253.5 1592.2,258.5 1592.6,221.5 1593.1,261.3 1593.6,247.6 1594.0,255.6 1594.5,250.1 1595.0,255.0 1595.5,224.0 1595.9,250.2 1596.4,250.9 1596.9,259.7 1597.3,238.8 1597.8,251.9 1598.3,261.3 1598.8,261.3 1599.2,256.2 1599.7,252.1 1600.2,261.3 1600.6,261.3 1601.1,259.7 1601.6,261.3 1602.1,242.3 1602.5,251.8 1603.0,261.3 1603.5,261.3 1603.9,255.9 1604.4,246.5 1604.9,261.3 1605.3,261.3 1605.8,261.3 1606.3,261.3 1606.8,250.3 1607.2,261.3 1607.7,199.7 1608.2,261.3 1608.6,261.3 1609.1,226.7 1609.6,258.0 1610.1,261.3 1610.5,249.6 1611.0,252.5 1611.5,226.7 1611.9,261.3 1612.4,254.0 1612.9,261.3 1613.4,249.4 1613.8,261.3 1614.3,249.8 1614.8,190.5 1615.2,261.3 1615.7,261.3 1616.2,237.3 1616.7,261.3 1617.1,255.4 1617.6,261.3 1618.1,247.9 1618.5,238.8 1619.0,260.4 1619.5,254.8 1620.0,253.1 1620.4,261.3 1620.9,255.3 1621.4,257.0 1621.8,153.1 1622.3,261.3 1622.8,250.0 1623.3,247.0 1623.7,260.3 1624.2,261.3 1624.7,261.3 1625.1,261.3 1625.6,252.8 1626.1,261.3 1626.6,215.5 1627.0,259.0 1627.5,260.0 1628.0,241.9 1628.4,254.2 1628.9,261.3 1629.4,256.3 1629.8,259.5 1630.3,230.9 1630.8,235.1 1631.3,261.3 1631.7,261.3 1632.2,261.3 1632.7,228.5 1633.1,258.7 1633.6,246.3 1634.1,261.3 1634.6,259.9 1635.0,256.4 1635.5,261.3 1636.0,205.7 1636.4,261.3 1636.9,247.3 1637.4,251.5 1637.9,258.2 1638.3,261.3 1638.8,254.3 1639.3,206.1 1639.7,250.3 1640.2,261.3 1640.7,261.3 1641.2,261.3 1641.6,259.0 1642.1,229.3 1642.6,252.1 1643.0,261.3 1643.5,261.3 1644.0,261.3 1644.5,253.1 1644.9,256.7 1645.4,254.7 1645.9,261.3 1646.3,261.3 1646.8,226.7 1647.3,245.5 1647.8,261.3 1648.2,251.7 1648.7,195.5 1649.2,255.9 1649.6,256.6 1650.1,255.1 1650.6,261.3 1651.1,209.1 1651.5,261.3 1652.0,260.0 1652.5,256.9 1652.9,248.5 1653.4,257.1 1653.9,226.7 1654.4,261.3 1654.8,246.1 1655.3,260.6 1655.8,221.3 1656.2,258.7 1656.7,254.5 1657.2,261.3 1657.6,261.3 1658.1,253.5 1658.6,251.7 1659.1,257.1 1659.5,249.5 1660.0,261.3 1660.5,261.3 1660.9,245.0 1661.4,258.2 1661.9,261.3 1662.4,258.7 1662.8,261.3 1663.3,214.5 1663.8,251.0 1664.2,250.7 1664.7,261.3 1665.2,247.9 1665.7,212.4 1666.1,261.3 1666.6,255.3 1667.1,258.6 1667.5,261.3 1668.0,234.5 1668.5,261.3 1669.0,260.7 1669.4,261.3 1669.9,259.2 1670.4,234.2 1670.8,252.5 1671.3,261.3 1671.8,261.3 1672.3,261.3 1672.7,238.0 1673.2,261.3 1673.7,257.3 1674.1,256.9 1674.6,261.3 1675.1,229.2 1675.6,261.3 1676.0,248.8 1676.5,257.7 1677.0,178.3 1677.4,261.3 1677.9,261.3 1678.4,258.0 1678.9,261.3 1679.3,249.1 1679.8,232.5 1680.3,261.3 1680.7,261.3 1681.2,261.3 1681.7,256.1 1682.1,261.3 1682.6,211.5 1683.1,252.3 1683.6,261.3 1684.0,256.5 1684.5,234.5 1685.0,260.2 1685.4,261.3 1685.9,254.8 1686.4,256.9 1686.9,241.9 1687.3,261.3 1687.8,252.9 1688.3,261.3 1688.7,261.3 1689.2,236.7 1689.7,257.6 1690.2,261.3 1690.6,257.5 1691.1,261.3 1691.6,188.9 1692.0,261.3 1692.5,256.5 1693.0,261.3 1693.5,248.6 1693.9,235.6 1694.4,254.1 1694.9,256.8 1695.3,258.0 1695.8,261.3 1696.3,239.2 1696.8,261.3 1697.2,260.4 1697.7,261.3 1698.2,261.3 1698.6,247.5 1699.1,254.9 1699.6,261.3 1700.1,261.3 1700.5,255.1 1701.0,243.8 1701.5,261.3 1701.9,249.4 1702.4,261.3 1702.9,253.6 1703.4,244.3 1703.8,257.5 1704.3,261.3 1704.8,258.1 1705.2,258.1 1705.7,261.3 1706.2,261.3 1706.6,194.1 1707.1,261.3 1707.6,246.6 1708.1,236.7 1708.5,257.8 1709.0,246.7 1709.5,256.4 1709.9,261.3 1710.4,239.4 1710.9,261.3 1711.4,259.4 1711.8,261.3 1712.3,261.3 1712.8,242.1 1713.2,251.3 1713.7,250.9 1714.2,261.3 1714.7,251.5 1715.1,244.5 1715.6,261.3 1716.1,254.7 1716.5,261.3 1717.0,257.3 1717.5,237.5 1718.0,261.3 1718.4,254.6 1718.9,261.3 1719.4,261.3 1719.8,248.5 1720.3,254.1 1720.8,261.3 1721.3,209.9 1721.7,247.9 1722.2,256.2 1722.7,261.3 1723.1,261.3 1723.6,256.0 1724.1,259.1 1724.6,242.4 1725.0,261.3 1725.5,248.7 1726.0,261.3 1726.4,257.3 1726.9,244.7 1727.4,257.5 1727.9,261.3 1728.3,251.4 1728.8,258.5 1729.3,240.9 1729.7,261.3 1730.2,260.2 1730.7,254.6 1731.2,261.3 1731.6,245.5 1732.1,250.9 1732.6,261.3 1733.0,258.2 1733.5,261.3 1734.0,239.9 1734.4,261.3 1734.9,261.3 1735.4,191.0 1735.9,260.5 1736.3,261.3 1736.8,247.8 1737.3,260.3 1737.7,261.3 1738.2,261.3 1738.7,232.2 1739.2,247.4 1739.6,256.8 1740.1,261.3 1740.6,261.3 1741.0,242.8 1741.5,248.2 1742.0,261.3 1742.5,261.3 1742.9,261.3 1743.4,245.8 1743.9,249.4 1744.3,245.4 1744.8,261.3 1745.3,258.3 1745.8,230.8 1746.2,258.3 1746.7,259.8 1747.2,261.3 1747.6,225.9 1748.1,261.3 1748.6,257.8 1749.1,258.3 1749.5,225.9 1750.0,251.7 1750.5,261.3 1750.9,251.4 1751.4,261.3 1751.9,255.0 1752.4,256.0 1752.8,246.9 1753.3,261.3 1753.8,257.8 1754.2,256.0 1754.7,259.0 1755.2,232.3 1755.7,261.3 1756.1,246.5 1756.6,261.3 1757.1,261.3 1757.5,244.1 1758.0,261.3 1758.5,250.0 1758.9,261.3 1759.4,259.4 1759.9,247.9 1760.4,258.5 1760.8,254.5 1761.3,249.1 1761.8,261.3 1762.2,217.6 1762.7,255.3 1763.2,248.5 1763.7,261.3 1764.1,259.8 1764.6,249.0 1765.1,250.0 1765.5,257.6 1766.0,246.3 1766.5,261.3 1767.0,244.3 1767.4,261.3 1767.9,251.4 1768.4,261.3 1768.8,227.6 1769.3,261.3 1769.8,261.3 1770.3,261.3 1770.7,248.6 1771.2,261.3 1771.7,243.8 1772.1,251.4 1772.6,247.4 1773.1,261.3 1773.6,255.8 1774.0,243.2 1774.5,261.3 1775.0,261.3 1775.4,257.5 1775.9,255.7 1776.4,218.6 1776.9,261.3 1777.3,261.3 1777.8,251.1 1778.3,251.2 1778.7,241.1 1779.2,256.6 1779.7,261.3 1780.2,255.1 1780.6,261.3 1781.1,246.1 1781.6,211.5 1782.0,261.3 1782.5,261.3 1783.0,261.3 1783.4,231.5 1783.9,258.1 1784.4,261.3 1784.9,259.2 1785.3,261.3 1785.8,233.1 1786.3,261.3 1786.7,248.3 1787.2,261.3 1787.7,253.0 1788.2,259.4 1788.6,223.2 1789.1,261.3 1789.6,261.3 1790.0,261.3 1790.5,261.3 1791.0,215.5 1791.5,259.7 1791.9,261.3 1792.4,261.3 1792.9,244.8 1793.3,248.3 1793.8,261.3" fill="none" stroke="#c000c4" stroke-width="1"/></svg>
<div class="t" style="left:-305.00px;width:400px;text-align:right;top:258.45px;font-size:14px;line-height:14px;color:#929292;">0</div>
<div class="t" style="left:-305.00px;width:400px;text-align:right;top:220.00px;font-size:14px;line-height:14px;color:#929292;">2</div>
<div class="t" style="left:-305.00px;width:400px;text-align:right;top:181.55px;font-size:14px;line-height:14px;color:#929292;">4</div>
<div class="t" style="left:-305.00px;width:400px;text-align:right;top:143.10px;font-size:14px;line-height:14px;color:#929292;">6</div>
<div class="t" style="left:-305.00px;width:400px;text-align:right;top:104.65px;font-size:14px;line-height:14px;color:#929292;">8</div>
<div class="t" style="left:-15.25px;width:400px;text-align:center;top:269.15px;font-size:14px;line-height:14px;color:#929292;">08:50</div>
<div class="t" style="left:126.10px;width:400px;text-align:center;top:269.15px;font-size:14px;line-height:14px;color:#929292;">08:55</div>
<div class="t" style="left:267.45px;width:400px;text-align:center;top:269.15px;font-size:14px;line-height:14px;color:#929292;">09:00</div>
<div class="t" style="left:408.80px;width:400px;text-align:center;top:269.15px;font-size:14px;line-height:14px;color:#929292;">09:05</div>
<div class="t" style="left:550.15px;width:400px;text-align:center;top:269.15px;font-size:14px;line-height:14px;color:#929292;">09:10</div>
<div class="t" style="left:691.50px;width:400px;text-align:center;top:269.15px;font-size:14px;line-height:14px;color:#929292;">09:15</div>
<div class="t" style="left:832.85px;width:400px;text-align:center;top:269.15px;font-size:14px;line-height:14px;color:#929292;">09:20</div>
<div class="t" style="left:974.20px;width:400px;text-align:center;top:269.15px;font-size:14px;line-height:14px;color:#929292;">09:25</div>
<div class="t" style="left:1115.55px;width:400px;text-align:center;top:269.15px;font-size:14px;line-height:14px;color:#929292;">09:30</div>
<div class="t" style="left:1256.90px;width:400px;text-align:center;top:269.15px;font-size:14px;line-height:14px;color:#929292;">09:35</div>
<div class="t" style="left:1398.25px;width:400px;text-align:center;top:269.15px;font-size:14px;line-height:14px;color:#929292;">09:40</div>
<div class="t" style="left:1539.60px;width:400px;text-align:center;top:269.15px;font-size:14px;line-height:14px;color:#929292;">09:45</div>
<div class="t" style="left:-59.5px;top:187px;width:200px;text-align:center;font-size:16px;line-height:16px;letter-spacing:0.15px;color:#b6b6b6;transform:rotate(-90deg);">Mebibytes/s</div>
<div class="t" style="left:96.50px;top:298.96px;font-size:16px;line-height:16px;font-weight:bold;color:#e6e6e6;letter-spacing:-0.9px;">Start:</div>
<div class="t" style="left:141.70px;top:298.96px;font-size:16px;line-height:16px;color:#e6e6e6;letter-spacing:0.12px;">2026-01-13 08:46:58</div>
<div class="t" style="left:951.50px;top:298.96px;font-size:16px;line-height:16px;font-weight:bold;color:#e6e6e6;letter-spacing:-1.4px;">End:</div>
<div class="t" style="left:989.50px;top:298.96px;font-size:16px;line-height:16px;color:#e6e6e6;letter-spacing:0.12px;">2026-01-13 09:46:58</div>
<div class="hr" style="left:1842px;width:419px;top:116px;background:#363636"></div>
<div style="position:absolute;left:1842px;width:419px;top:117px;height:32px;background:#242424"></div>
<div class="t" style="left:1842.00px;top:96.15px;font-size:14px;line-height:14px;font-weight:bold;color:#e6e6e6;letter-spacing:-0.5px;">Key</div>
<div class="t" style="left:2009.00px;top:96.15px;font-size:14px;line-height:14px;font-weight:bold;color:#e6e6e6;">Max</div>
<div class="t" style="left:2107.00px;top:96.15px;font-size:14px;line-height:14px;font-weight:bold;color:#e6e6e6;">Mean</div>
<div class="t" style="left:2205.00px;top:96.15px;font-size:14px;line-height:14px;font-weight:bold;color:#e6e6e6;">Min</div>
<div style="position:absolute;left:1846px;top:125px;width:12px;height:12px;border-radius:50%;background:#0095d5"></div>
<div class="t" style="left:1865.00px;top:125.15px;font-size:14px;line-height:14px;font-weight:bold;color:#e6e6e6;letter-spacing:-0.3px;">Reads</div>
<div class="t" style="left:2009.00px;top:125.15px;font-size:14px;line-height:14px;color:#c4c4c4;">612 KiB/s</div>
<div class="t" style="left:2107.00px;top:125.15px;font-size:14px;line-height:14px;color:#c4c4c4;">16 KiB/s</div>
<div class="t" style="left:2205.00px;top:125.15px;font-size:14px;line-height:14px;color:#c4c4c4;">0 B/s</div>
<div style="position:absolute;left:1846px;top:157px;width:12px;height:12px;border-radius:50%;background:#c000c4"></div>
<div class="t" style="left:1865.00px;top:157.15px;font-size:14px;line-height:14px;font-weight:bold;color:#e6e6e6;letter-spacing:-0.3px;">Writes</div>
<div class="t" style="left:2009.00px;top:157.15px;font-size:14px;line-height:14px;color:#c4c4c4;">8.3 MiB/s</div>
<div class="t" style="left:2107.00px;top:157.15px;font-size:14px;line-height:14px;color:#c4c4c4;">498 KiB/s</div>
<div class="t" style="left:2205.00px;top:157.15px;font-size:14px;line-height:14px;color:#c4c4c4;">0 B/s</div>
<div class="card" style="top:346px;height:334px"></div>
<div class="hr" style="left:0;width:2261px;top:399px"></div>
<div class="t" style="left:25.90px;top:364.07px;font-size:20px;line-height:20px;font-weight:bold;color:#e2e2e2;letter-spacing:-0.36px;">Disk I/O sdc</div>
<div class="btn" style="left:1907px;top:355px;width:64px;background:#535353"></div>
<div class="btn" style="left:1971px;top:355px;width:64px;background:#3d3d3d"></div>
<div class="btn" style="left:2043px;top:355px;width:64px;background:#535353"></div>
<div class="btn" style="left:2107px;top:355px;width:128px;background:#3d3d3d"></div>
<svg style="left:0;top:355px" width="2266" height="36" viewBox="0 355 2266 36"><path d="M1929.1 372L1938.7 366V378Z M1938.8 372L1948 366V378Z" fill="#e6e6e6"/><path d="M1994.6 366V378L2004 372Z M2004 366V378L2013.2 372Z" fill="#5e5e5e"/><line x1="2076" y1="374" x2="2083.3" y2="381.3" stroke="#e6e6e6" stroke-width="3.6" stroke-linecap="round"/><circle cx="2072" cy="369" r="7.6" fill="#e6e6e6"/><rect x="2068.2" y="368.1" width="7.9" height="1.9" fill="#535353"/><line x1="2204" y1="374" x2="2211.3" y2="381.3" stroke="#646464" stroke-width="3.6" stroke-linecap="round"/><circle cx="2200" cy="369" r="7.6" fill="#646464"/><rect x="2196.1" y="368.1" width="7.9" height="1.9" fill="#3d3d3d"/><rect x="2199.05" y="365.1" width="1.9" height="7.9" fill="#3d3d3d"/></svg>
<div class="t" style="left:1939.00px;width:400px;text-align:center;top:366.30px;font-size:15px;line-height:15px;font-weight:bold;color:#5e5e5e;letter-spacing:-0.6px;">1 hour</div>
<svg style="left:0;top:0" width="2266" height="1019" viewBox="0 0 2266 1019"><line x1="99" y1="564.5" x2="1795" y2="564.5" stroke="rgba(255,255,255,0.08)" stroke-width="1"/><line x1="99" y1="526.5" x2="1795" y2="526.5" stroke="rgba(255,255,255,0.08)" stroke-width="1"/><line x1="99" y1="487.5" x2="1795" y2="487.5" stroke="rgba(255,255,255,0.08)" stroke-width="1"/><line x1="99" y1="449.5" x2="1795" y2="449.5" stroke="rgba(255,255,255,0.08)" stroke-width="1"/><line x1="187.5" y1="424" x2="187.5" y2="603.8" stroke="rgba(255,255,255,0.08)" stroke-width="1"/><line x1="328.5" y1="424" x2="328.5" y2="603.8" stroke="rgba(255,255,255,0.08)" stroke-width="1"/><line x1="469.5" y1="424" x2="469.5" y2="603.8" stroke="rgba(255,255,255,0.08)" stroke-width="1"/><line x1="611.5" y1="424" x2="611.5" y2="603.8" stroke="rgba(255,255,255,0.08)" stroke-width="1"/><line x1="752.5" y1="424" x2="752.5" y2="603.8" stroke="rgba(255,255,255,0.08)" stroke-width="1"/><line x1="893.5" y1="424" x2="893.5" y2="603.8" stroke="rgba(255,255,255,0.08)" stroke-width="1"/><line x1="1035.5" y1="424" x2="1035.5" y2="603.8" stroke="rgba(255,255,255,0.08)" stroke-width="1"/><line x1="1176.5" y1="424" x2="1176.5" y2="603.8" stroke="rgba(255,255,255,0.08)" stroke-width="1"/><line x1="1317.5" y1="424" x2="1317.5" y2="603.8" stroke="rgba(255,255,255,0.08)" stroke-width="1"/><line x1="1459.5" y1="424" x2="1459.5" y2="603.8" stroke="rgba(255,255,255,0.08)" stroke-width="1"/><line x1="1600.5" y1="424" x2="1600.5" y2="603.8" stroke="rgba(255,255,255,0.08)" stroke-width="1"/><line x1="1742.5" y1="424" x2="1742.5" y2="603.8" stroke="rgba(255,255,255,0.08)" stroke-width="1"/><line x1="98.5" y1="424" x2="98.5" y2="603.8" stroke="#202020" stroke-width="1"/><polyline points="98.6,603.3 99.1,603.3 99.5,603.3 100.0,603.3 100.5,603.3 100.9,603.3 101.4,603.3 101.9,603.3 102.4,603.3 102.8,603.3 103.3,603.3 103.8,603.3 104.2,603.3 104.7,603.3 105.2,603.3 105.7,603.3 106.1,603.3 106.6,602.0 107.1,603.3 107.5,603.2 108.0,603.3 108.5,603.3 109.0,603.3 109.4,603.3 109.9,603.3 110.4,603.3 110.8,603.3 111.3,603.3 111.8,603.3 112.3,603.3 112.7,603.3 113.2,603.3 113.7,603.3 114.1,603.3 114.6,603.3 115.1,603.3 115.5,603.3 116.0,603.3 116.5,603.3 117.0,603.3 117.4,603.3 117.9,603.3 118.4,603.3 118.8,603.3 119.3,603.3 119.8,603.3 120.3,603.3 120.7,603.3 121.2,603.0 121.7,603.3 122.1,603.3 122.6,603.3 123.1,603.3 123.6,603.3 124.0,603.3 124.5,603.3 125.0,603.3 125.4,603.3 125.9,603.3 126.4,603.3 126.9,603.3 127.3,603.3 127.8,603.3 128.3,603.3 128.7,602.2 129.2,603.3 129.7,603.3 130.2,603.3 130.6,603.3 131.1,601.4 131.6,603.3 132.0,603.3 132.5,603.3 133.0,603.3 133.5,603.3 133.9,603.3 134.4,603.3 134.9,603.3 135.3,603.3 135.8,603.3 136.3,603.3 136.8,603.3 137.2,603.3 137.7,603.3 138.2,603.3 138.6,603.3 139.1,603.3 139.6,603.3 140.0,603.3 140.5,603.3 141.0,603.3 141.5,603.3 141.9,603.3 142.4,603.0 142.9,603.3 143.3,603.3 143.8,603.3 144.3,603.3 144.8,603.3 145.2,603.3 145.7,603.3 146.2,603.3 146.6,603.3 147.1,603.3 147.6,601.7 148.1,603.3 148.5,603.3 149.0,603.3 149.5,603.3 149.9,603.3 150.4,603.3 150.9,603.3 151.4,603.3 151.8,603.3 152.3,603.3 152.8,603.3 153.2,603.3 153.7,603.3 154.2,603.3 154.7,603.3 155.1,603.3 155.6,603.3 156.1,603.3 156.5,603.3 157.0,603.3 157.5,603.3 158.0,603.3 158.4,603.3 158.9,603.3 159.4,603.3 159.8,603.3 160.3,603.3 160.8,603.3 161.3,603.3 161.7,603.3 162.2,603.3 162.7,602.2 163.1,603.3 163.6,603.3 164.1,603.3 164.5,603.3 165.0,603.3 165.5,603.3 166.0,603.3 166.4,603.3 166.9,602.1 167.4,603.3 167.8,603.3 168.3,603.3 168.8,603.3 169.3,601.3 169.7,603.3 170.2,603.3 170.7,603.3 171.1,603.3 171.6,603.3 172.1,603.3 172.6,603.3 173.0,603.3 173.5,603.3 174.0,603.3 174.4,601.3 174.9,603.3 175.4,603.3 175.9,603.3 176.3,603.3 176.8,603.3 177.3,603.3 177.7,603.3 178.2,603.3 178.7,603.3 179.2,603.3 179.6,603.3 180.1,602.3 180.6,603.3 181.0,601.1 181.5,603.3 182.0,603.3 182.5,603.3 182.9,603.3 183.4,603.3 183.9,603.3 184.3,603.3 184.8,603.3 185.3,603.3 185.8,603.3 186.2,603.3 186.7,603.3 187.2,603.3 187.6,603.3 188.1,603.3 188.6,603.3 189.1,603.3 189.5,603.3 190.0,603.3 190.5,603.3 190.9,603.3 191.4,602.4 191.9,603.3 192.3,601.6 192.8,603.3 193.3,603.3 193.8,603.3 194.2,603.3 194.7,603.3 195.2,603.3 195.6,603.3 196.1,601.8 196.6,603.3 197.1,603.3 197.5,603.3 198.0,603.3 198.5,601.8 198.9,603.3 199.4,603.3 199.9,603.3 200.4,603.3 200.8,603.3 201.3,603.3 201.8,603.3 202.2,603.3 202.7,603.3 203.2,603.3 203.7,603.3 204.1,603.3 204.6,603.3 205.1,603.3 205.5,603.3 206.0,603.3 206.5,603.3 207.0,603.3 207.4,603.3 207.9,603.3 208.4,603.3 208.8,603.3 209.3,603.3 209.8,603.3 210.3,603.3 210.7,603.3 211.2,603.3 211.7,603.3 212.1,603.3 212.6,603.3 213.1,603.3 213.6,603.3 214.0,603.3 214.5,603.3 215.0,603.3 215.4,603.3 215.9,603.3 216.4,603.3 216.8,603.3 217.3,603.3 217.8,603.3 218.3,603.3 218.7,603.3 219.2,603.3 219.7,603.3 220.1,603.3 220.6,603.3 221.1,603.3 221.6,603.3 222.0,603.3 222.5,603.3 223.0,603.3 223.4,603.3 223.9,601.7 224.4,603.3 224.9,602.7 225.3,603.3 225.8,601.4 226.3,603.3 226.7,603.3 227.2,603.3 227.7,603.3 228.2,603.3 228.6,603.3 229.1,603.3 229.6,603.3 230.0,603.3 230.5,603.3 231.0,603.3 231.5,603.3 231.9,603.3 232.4,603.3 232.9,602.8 233.3,602.4 233.8,603.3 234.3,601.4 234.8,603.3 235.2,603.3 235.7,603.3 236.2,603.3 236.6,603.3 237.1,603.3 237.6,603.3 238.1,603.3 238.5,603.3 239.0,603.3 239.5,603.3 239.9,603.3 240.4,603.3 240.9,603.3 241.3,603.3 241.8,601.5 242.3,603.1 242.8,603.3 243.2,603.3 243.7,603.3 244.2,603.3 244.6,603.3 245.1,603.3 245.6,603.3 246.1,603.3 246.5,603.3 247.0,603.3 247.5,603.3 247.9,603.3 248.4,603.3 248.9,603.3 249.4,603.3 249.8,603.3 250.3,603.3 250.8,603.3 251.2,603.3 251.7,603.3 252.2,603.3 252.7,603.3 253.1,603.3 253.6,603.3 254.1,603.3 254.5,603.3 255.0,603.3 255.5,603.3 256.0,603.3 256.4,603.3 256.9,603.3 257.4,603.3 257.8,603.3 258.3,603.3 258.8,603.3 259.3,603.3 259.7,603.3 260.2,603.3 260.7,603.3 261.1,603.3 261.6,603.3 262.1,603.3 262.6,603.3 263.0,603.3 263.5,603.3 264.0,603.3 264.4,603.3 264.9,603.3 265.4,603.3 265.9,603.3 266.3,603.3 266.8,603.3 267.3,603.3 267.7,603.3 268.2,603.3 268.7,603.3 269.1,603.3 269.6,603.3 270.1,603.3 270.6,603.3 271.0,602.5 271.5,603.3 272.0,603.3 272.4,603.3 272.9,603.3 273.4,603.3 273.9,603.3 274.3,603.3 274.8,603.3 275.3,603.3 275.7,603.3 276.2,603.3 276.7,603.3 277.2,603.3 277.6,603.3 278.1,603.3 278.6,603.3 279.0,603.3 279.5,603.3 280.0,603.3 280.5,603.3 280.9,603.3 281.4,603.3 281.9,601.1 282.3,603.3 282.8,603.3 283.3,602.6 283.8,603.3 284.2,603.3 284.7,603.3 285.2,603.3 285.6,603.3 286.1,603.3 286.6,603.3 287.1,603.3 287.5,603.3 288.0,603.3 288.5,603.3 288.9,603.3 289.4,603.3 289.9,603.3 290.4,603.3 290.8,603.3 291.3,603.3 291.8,603.3 292.2,603.3 292.7,603.3 293.2,603.3 293.6,603.3 294.1,603.3 294.6,603.0 295.1,603.3 295.5,603.3 296.0,603.3 296.5,603.3 296.9,603.3 297.4,603.3 297.9,603.3 298.4,603.3 298.8,603.3 299.3,603.3 299.8,603.3 300.2,603.3 300.7,603.3 301.2,603.3 301.7,603.3 302.1,603.3 302.6,603.3 303.1,603.3 303.5,603.3 304.0,603.3 304.5,603.3 305.0,603.3 305.4,603.3 305.9,603.3 306.4,603.3 306.8,603.3 307.3,603.3 307.8,603.3 308.3,603.3 308.7,603.3 309.2,603.3 309.7,603.3 310.1,603.3 310.6,603.3 311.1,603.3 311.6,603.3 312.0,603.3 312.5,603.3 313.0,603.3 313.4,603.3 313.9,603.3 314.4,603.3 314.9,603.3 315.3,602.2 315.8,603.3 316.3,603.3 316.7,603.3 317.2,603.3 317.7,603.3 318.2,603.3 318.6,603.3 319.1,603.3 319.6,603.3 320.0,603.3 320.5,603.3 321.0,603.3 321.4,603.3 321.9,603.3 322.4,603.3 322.9,603.3 323.3,603.3 323.8,603.3 324.3,603.3 324.7,603.3 325.2,603.3 325.7,603.3 326.2,603.3 326.6,603.3 327.1,603.3 327.6,601.1 328.0,603.3 328.5,603.3 329.0,603.3 329.5,602.3 329.9,603.3 330.4,603.3 330.9,602.8 331.3,603.3 331.8,603.3 332.3,603.3 332.8,603.0 333.2,603.3 333.7,603.3 334.2,603.3 334.6,603.3 335.1,603.3 335.6,603.3 336.1,603.3 336.5,603.3 337.0,603.3 337.5,603.3 337.9,603.3 338.4,603.3 338.9,603.3 339.4,603.3 339.8,603.3 340.3,603.3 340.8,603.3 341.2,603.3 341.7,603.3 342.2,603.3 342.7,603.3 343.1,603.3 343.6,603.3 344.1,603.3 344.5,603.3 345.0,603.3 345.5,595.6 345.9,603.3 346.4,603.3 346.9,603.3 347.4,603.3 347.8,603.3 348.3,603.3 348.8,603.3 349.2,603.3 349.7,603.3 350.2,603.3 350.7,603.3 351.1,603.3 351.6,603.3 352.1,601.3 352.5,603.3 353.0,603.3 353.5,603.3 354.0,602.0 354.4,603.3 354.9,603.3 355.4,603.3 355.8,603.3 356.3,603.3 356.8,603.3 357.3,603.3 357.7,603.3 358.2,603.3 358.7,603.3 359.1,603.3 359.6,603.3 360.1,603.3 360.6,603.3 361.0,602.7 361.5,603.3 362.0,603.3 362.4,603.3 362.9,603.3 363.4,603.3 363.9,603.3 364.3,603.3 364.8,603.3 365.3,603.3 365.7,603.3 366.2,603.3 366.7,602.3 367.2,603.3 367.6,603.3 368.1,603.3 368.6,603.3 369.0,603.3 369.5,603.3 370.0,603.3 370.4,603.3 370.9,603.3 371.4,603.3 371.9,603.3 372.3,603.3 372.8,603.3 373.3,603.3 373.7,603.3 374.2,603.3 374.7,603.3 375.2,603.0 375.6,603.3 376.1,603.3 376.6,603.3 377.0,603.3 377.5,603.3 378.0,603.3 378.5,603.3 378.9,603.3 379.4,601.3 379.9,603.3 380.3,603.3 380.8,603.3 381.3,603.3 381.8,603.3 382.2,603.3 382.7,603.3 383.2,603.3 383.6,603.3 384.1,603.3 384.6,603.3 385.1,603.3 385.5,602.7 386.0,603.3 386.5,603.3 386.9,603.3 387.4,603.3 387.9,601.6 388.4,603.3 388.8,603.3 389.3,603.3 389.8,603.3 390.2,603.3 390.7,603.3 391.2,603.3 391.7,603.3 392.1,603.3 392.6,603.3 393.1,603.3 393.5,603.3 394.0,603.3 394.5,603.3 395.0,603.3 395.4,603.3 395.9,603.3 396.4,603.3 396.8,603.3 397.3,603.3 397.8,603.3 398.2,603.3 398.7,603.3 399.2,603.3 399.7,601.8 400.1,603.3 400.6,603.3 401.1,603.3 401.5,603.3 402.0,601.7 402.5,603.3 403.0,603.3 403.4,603.3 403.9,603.3 404.4,603.3 404.8,603.3 405.3,603.3 405.8,603.3 406.3,603.3 406.7,603.3 407.2,603.3 407.7,603.3 408.1,603.3 408.6,603.3 409.1,603.3 409.6,603.3 410.0,603.3 410.5,603.3 411.0,602.6 411.4,603.3 411.9,603.3 412.4,603.3 412.9,603.3 413.3,603.3 413.8,602.2 414.3,603.3 414.7,603.3 415.2,603.3 415.7,603.3 416.2,603.0 416.6,603.3 417.1,603.3 417.6,603.0 418.0,603.3 418.5,603.3 419.0,603.3 419.5,603.3 419.9,603.3 420.4,603.3 420.9,592.4 421.3,603.3 421.8,603.3 422.3,603.3 422.7,603.3 423.2,603.3 423.7,603.3 424.2,603.3 424.6,603.3 425.1,603.3 425.6,603.3 426.0,603.3 426.5,603.3 427.0,603.3 427.5,603.0 427.9,602.8 428.4,603.3 428.9,603.3 429.3,603.3 429.8,603.3 430.3,603.3 430.8,603.3 431.2,603.3 431.7,603.3 432.2,603.3 432.6,603.3 433.1,603.3 433.6,603.3 434.1,603.3 434.5,603.3 435.0,603.3 435.5,603.3 435.9,603.3 436.4,603.3 436.9,603.3 437.4,603.3 437.8,603.3 438.3,603.3 438.8,603.3 439.2,603.3 439.7,601.9 440.2,603.3 440.7,603.3 441.1,603.3 441.6,603.3 442.1,603.3 442.5,603.3 443.0,603.3 443.5,603.3 444.0,603.2 444.4,603.3 444.9,603.3 445.4,601.1 445.8,603.3 446.3,603.3 446.8,603.3 447.2,603.3 447.7,603.3 448.2,603.3 448.7,603.3 449.1,603.3 449.6,603.3 450.1,603.3 450.5,603.3 451.0,603.3 451.5,603.3 452.0,603.3 452.4,603.3 452.9,603.3 453.4,603.3 453.8,603.3 454.3,603.3 454.8,603.3 455.3,603.3 455.7,603.3 456.2,603.3 456.7,601.3 457.1,602.7 457.6,603.3 458.1,603.3 458.6,603.3 459.0,603.3 459.5,603.3 460.0,603.3 460.4,603.3 460.9,603.3 461.4,603.3 461.9,603.3 462.3,603.3 462.8,603.3 463.3,603.3 463.7,603.3 464.2,603.3 464.7,603.3 465.2,603.3 465.6,603.3 466.1,603.3 466.6,603.3 467.0,603.3 467.5,603.3 468.0,603.3 468.5,603.3 468.9,603.3 469.4,603.3 469.9,602.1 470.3,603.3 470.8,603.3 471.3,603.3 471.8,603.1 472.2,603.3 472.7,603.3 473.2,603.3 473.6,603.3 474.1,603.3 474.6,603.3 475.0,603.3 475.5,603.3 476.0,602.0 476.5,603.3 476.9,603.3 477.4,603.3 477.9,603.3 478.3,603.3 478.8,603.3 479.3,603.1 479.8,603.3 480.2,603.3 480.7,603.3 481.2,603.3 481.6,603.3 482.1,603.3 482.6,603.3 483.1,603.3 483.5,603.3 484.0,603.3 484.5,603.3 484.9,603.3 485.4,603.3 485.9,603.3 486.4,603.3 486.8,603.3 487.3,603.3 487.8,603.3 488.2,603.3 488.7,603.3 489.2,603.3 489.7,603.3 490.1,603.3 490.6,603.3 491.1,603.3 491.5,603.3 492.0,603.3 492.5,603.3 493.0,603.3 493.4,602.6 493.9,603.3 494.4,603.3 494.8,603.3 495.3,603.3 495.8,602.5 496.3,603.3 496.7,603.3 497.2,603.3 497.7,603.3 498.1,603.3 498.6,603.3 499.1,603.3 499.5,603.3 500.0,603.3 500.5,603.3 501.0,603.3 501.4,603.3 501.9,603.3 502.4,603.3 502.8,603.3 503.3,603.3 503.8,603.3 504.3,603.3 504.7,603.3 505.2,603.3 505.7,603.3 506.1,603.3 506.6,603.3 507.1,603.3 507.6,603.3 508.0,603.3 508.5,602.8 509.0,603.3 509.4,601.0 509.9,603.3 510.4,603.3 510.9,603.3 511.3,603.3 511.8,603.3 512.3,603.3 512.7,603.3 513.2,603.3 513.7,603.3 514.2,603.3 514.6,603.3 515.1,603.3 515.6,603.3 516.0,603.3 516.5,603.3 517.0,603.3 517.5,603.3 517.9,603.3 518.4,603.3 518.9,603.3 519.3,603.3 519.8,603.3 520.3,603.3 520.8,603.3 521.2,603.3 521.7,603.3 522.2,603.3 522.6,603.3 523.1,603.3 523.6,603.3 524.0,603.3 524.5,603.3 525.0,603.3 525.5,603.3 525.9,603.3 526.4,603.3 526.9,603.3 527.3,603.3 527.8,603.3 528.3,603.3 528.8,603.3 529.2,603.3 529.7,603.3 530.2,603.3 530.6,603.3 531.1,603.3 531.6,603.3 532.1,603.3 532.5,603.3 533.0,603.3 533.5,603.3 533.9,603.3 534.4,603.3 534.9,603.3 535.4,603.3 535.8,603.3 536.3,603.3 536.8,603.3 537.2,603.3 537.7,603.3 538.2,603.3 538.7,603.3 539.1,603.0 539.6,603.3 540.1,601.6 540.5,603.3 541.0,603.3 541.5,602.2 542.0,601.2 542.4,603.3 542.9,603.3 543.4,603.3 543.8,603.3 544.3,603.3 544.8,603.3 545.3,603.3 545.7,603.3 546.2,603.3 546.7,603.3 547.1,603.3 547.6,603.3 548.1,603.3 548.6,603.3 549.0,603.3 549.5,603.3 550.0,603.3 550.4,603.3 550.9,603.3 551.4,603.3 551.8,603.3 552.3,603.3 552.8,603.3 553.3,603.3 553.7,603.3 554.2,603.3 554.7,603.3 555.1,603.3 555.6,603.3 556.1,603.3 556.6,603.3 557.0,603.3 557.5,603.3 558.0,603.3 558.4,601.8 558.9,603.3 559.4,603.3 559.9,603.3 560.3,602.0 560.8,603.3 561.3,603.3 561.7,603.3 562.2,603.3 562.7,603.3 563.2,603.3 563.6,603.3 564.1,603.3 564.6,603.3 565.0,601.9 565.5,603.3 566.0,603.3 566.5,603.3 566.9,603.3 567.4,603.3 567.9,603.3 568.3,603.3 568.8,603.3 569.3,603.3 569.8,603.3 570.2,603.3 570.7,603.3 571.2,603.3 571.6,603.3 572.1,603.3 572.6,603.3 573.1,603.3 573.5,603.3 574.0,603.3 574.5,603.3 574.9,603.3 575.4,603.3 575.9,603.3 576.3,603.3 576.8,603.3 577.3,603.3 577.8,603.3 578.2,603.3 578.7,603.3 579.2,603.3 579.6,603.3 580.1,603.3 580.6,603.3 581.1,603.3 581.5,603.3 582.0,603.3 582.5,603.3 582.9,603.3 583.4,603.3 583.9,603.3 584.4,603.3 584.8,603.3 585.3,603.3 585.8,603.3 586.2,603.3 586.7,603.3 587.2,603.3 587.7,603.3 588.1,603.3 588.6,603.3 589.1,603.3 589.5,603.0 590.0,603.3 590.5,603.3 591.0,603.3 591.4,603.3 591.9,603.3 592.4,603.3 592.8,603.3 593.3,603.3 593.8,603.3 594.3,603.3 594.7,603.3 595.2,603.3 595.7,603.3 596.1,603.3 596.6,603.3 597.1,603.3 597.6,603.3 598.0,603.3 598.5,603.3 599.0,603.3 599.4,603.3 599.9,603.3 600.4,603.3 600.9,603.3 601.3,603.3 601.8,603.3 602.3,603.3 602.7,603.3 603.2,603.3 603.7,603.3 604.1,603.3 604.6,603.3 605.1,603.3 605.6,603.3 606.0,602.8 606.5,603.3 607.0,603.3 607.4,603.3 607.9,603.3 608.4,603.3 608.9,601.6 609.3,603.3 609.8,603.3 610.3,603.3 610.7,603.3 611.2,603.3 611.7,603.3 612.2,603.3 612.6,603.3 613.1,602.2 613.6,603.3 614.0,603.3 614.5,603.3 615.0,603.3 615.5,603.3 615.9,603.3 616.4,603.3 616.9,603.3 617.3,603.3 617.8,603.3 618.3,603.3 618.8,603.3 619.2,603.3 619.7,603.3 620.2,603.3 620.6,603.3 621.1,603.3 621.6,603.3 622.1,603.3 622.5,603.3 623.0,603.3 623.5,603.3 623.9,603.3 624.4,603.3 624.9,603.3 625.4,603.3 625.8,603.3 626.3,603.3 626.8,603.3 627.2,603.3 627.7,603.3 628.2,603.3 628.6,603.1 629.1,603.3 629.6,603.3 630.1,603.3 630.5,603.3 631.0,603.3 631.5,603.3 631.9,603.3 632.4,603.3 632.9,603.3 633.4,603.3 633.8,603.3 634.3,603.3 634.8,603.3 635.2,603.3 635.7,603.3 636.2,603.3 636.7,603.3 637.1,603.3 637.6,603.3 638.1,603.3 638.5,603.3 639.0,602.1 639.5,603.3 640.0,603.3 640.4,603.3 640.9,603.3 641.4,603.3 641.8,603.3 642.3,603.3 642.8,603.3 643.3,603.3 643.7,603.3 644.2,603.3 644.7,603.3 645.1,603.3 645.6,603.3 646.1,603.3 646.6,603.3 647.0,603.3 647.5,603.3 648.0,603.3 648.4,603.3 648.9,603.3 649.4,603.3 649.9,603.3 650.3,603.3 650.8,603.3 651.3,603.3 651.7,602.6 652.2,603.3 652.7,603.3 653.1,603.3 653.6,603.3 654.1,603.3 654.6,603.3 655.0,603.3 655.5,603.3 656.0,603.3 656.4,603.3 656.9,603.3 657.4,603.3 657.9,603.3 658.3,603.3 658.8,603.3 659.3,603.3 659.7,603.3 660.2,603.3 660.7,603.3 661.2,603.3 661.6,603.3 662.1,603.3 662.6,603.3 663.0,603.3 663.5,603.3 664.0,603.3 664.5,603.3 664.9,603.3 665.4,603.3 665.9,603.3 666.3,603.3 666.8,603.3 667.3,603.3 667.8,603.3 668.2,603.3 668.7,603.3 669.2,603.3 669.6,603.3 670.1,603.3 670.6,603.3 671.1,603.3 671.5,603.3 672.0,603.3 672.5,603.3 672.9,603.3 673.4,603.3 673.9,603.3 674.4,603.3 674.8,603.3 675.3,603.3 675.8,603.3 676.2,603.3 676.7,603.3 677.2,603.3 677.7,603.3 678.1,601.6 678.6,603.3 679.1,603.1 679.5,603.3 680.0,601.5 680.5,603.3 680.9,603.3 681.4,603.3 681.9,603.3 682.4,603.3 682.8,603.3 683.3,603.3 683.8,603.3 684.2,603.3 684.7,603.3 685.2,603.3 685.7,603.3 686.1,603.3 686.6,603.3 687.1,603.3 687.5,603.3 688.0,603.3 688.5,603.3 689.0,603.3 689.4,603.3 689.9,603.3 690.4,603.3 690.8,603.3 691.3,603.3 691.8,603.3 692.3,603.3 692.7,603.3 693.2,603.3 693.7,603.3 694.1,603.3 694.6,603.3 695.1,603.3 695.6,603.3 696.0,603.3 696.5,603.3 697.0,603.3 697.4,603.3 697.9,603.3 698.4,603.3 698.9,603.3 699.3,603.3 699.8,603.3 700.3,603.3 700.7,603.3 701.2,603.3 701.7,603.3 702.2,603.3 702.6,603.3 703.1,603.3 703.6,603.3 704.0,603.3 704.5,603.2 705.0,603.3 705.4,603.3 705.9,603.3 706.4,602.1 706.9,603.3 707.3,603.3 707.8,603.3 708.3,603.3 708.7,603.3 709.2,603.3 709.7,603.3 710.2,603.3 710.6,603.3 711.1,602.8 711.6,603.3 712.0,603.3 712.5,603.3 713.0,603.3 713.5,602.5 713.9,603.3 714.4,603.3 714.9,603.3 715.3,603.3 715.8,603.3 716.3,603.3 716.8,603.3 717.2,603.3 717.7,603.3 718.2,603.3 718.6,603.3 719.1,603.3 719.6,603.3 720.1,603.3 720.5,603.3 721.0,603.3 721.5,603.3 721.9,603.3 722.4,603.3 722.9,603.3 723.4,603.3 723.8,603.3 724.3,603.3 724.8,603.3 725.2,602.5 725.7,603.3 726.2,603.3 726.7,603.3 727.1,603.3 727.6,603.3 728.1,603.3 728.5,603.3 729.0,603.3 729.5,603.3 729.9,603.3 730.4,603.3 730.9,603.3 731.4,603.3 731.8,603.3 732.3,603.3 732.8,603.3 733.2,603.3 733.7,603.3 734.2,603.3 734.7,603.3 735.1,603.3 735.6,603.3 736.1,603.3 736.5,603.3 737.0,603.3 737.5,603.3 738.0,603.3 738.4,603.3 738.9,603.3 739.4,603.3 739.8,603.3 740.3,603.3 740.8,603.3 741.3,603.3 741.7,603.3 742.2,603.3 742.7,601.8 743.1,603.3 743.6,603.3 744.1,603.3 744.6,603.3 745.0,603.3 745.5,603.3 746.0,603.3 746.4,603.3 746.9,603.3 747.4,603.3 747.9,603.3 748.3,603.3 748.8,603.3 749.3,603.3 749.7,603.3 750.2,603.3 750.7,603.3 751.2,603.3 751.6,603.3 752.1,603.3 752.6,603.3 753.0,603.3 753.5,603.3 754.0,603.3 754.5,603.3 754.9,603.3 755.4,603.3 755.9,603.3 756.3,603.3 756.8,603.3 757.3,603.3 757.7,603.3 758.2,603.3 758.7,603.3 759.2,603.3 759.6,603.3 760.1,603.3 760.6,603.3 761.0,603.3 761.5,603.3 762.0,603.3 762.5,603.3 762.9,603.3 763.4,603.1 763.9,603.3 764.3,603.3 764.8,603.3 765.3,603.3 765.8,603.3 766.2,603.3 766.7,603.3 767.2,602.1 767.6,603.3 768.1,603.3 768.6,603.3 769.1,603.3 769.5,603.3 770.0,603.3 770.5,603.3 770.9,603.3 771.4,603.3 771.9,603.3 772.4,603.3 772.8,603.3 773.3,603.3 773.8,603.3 774.2,603.3 774.7,603.3 775.2,603.3 775.7,603.3 776.1,603.3 776.6,603.3 777.1,603.3 777.5,603.3 778.0,601.8 778.5,603.3 779.0,603.3 779.4,603.3 779.9,603.3 780.4,603.3 780.8,603.3 781.3,603.3 781.8,603.3 782.2,603.3 782.7,603.3 783.2,603.3 783.7,603.3 784.1,603.3 784.6,603.3 785.1,603.3 785.5,603.3 786.0,603.3 786.5,603.3 787.0,603.3 787.4,603.3 787.9,603.3 788.4,603.3 788.8,603.3 789.3,603.3 789.8,603.3 790.3,603.3 790.7,603.3 791.2,603.3 791.7,603.3 792.1,603.3 792.6,603.3 793.1,603.3 793.6,603.3 794.0,603.3 794.5,603.3 795.0,603.3 795.4,603.3 795.9,603.3 796.4,603.3 796.9,603.3 797.3,603.3 797.8,603.3 798.3,603.3 798.7,603.3 799.2,603.3 799.7,603.3 800.2,603.3 800.6,603.3 801.1,603.3 801.6,603.3 802.0,603.3 802.5,603.3 803.0,603.3 803.5,603.3 803.9,603.3 804.4,603.3 804.9,603.3 805.3,603.3 805.8,603.3 806.3,602.2 806.8,603.3 807.2,603.3 807.7,603.3 808.2,603.3 808.6,603.3 809.1,603.3 809.6,603.3 810.0,603.3 810.5,603.3 811.0,603.1 811.5,603.3 811.9,603.3 812.4,603.3 812.9,603.3 813.3,603.3 813.8,603.3 814.3,603.3 814.8,603.3 815.2,603.3 815.7,603.3 816.2,603.3 816.6,603.3 817.1,603.3 817.6,603.3 818.1,603.3 818.5,603.3 819.0,603.3 819.5,603.3 819.9,601.6 820.4,603.3 820.9,603.3 821.4,603.3 821.8,603.3 822.3,603.3 822.8,603.3 823.2,603.3 823.7,603.3 824.2,603.3 824.7,603.3 825.1,603.3 825.6,603.3 826.1,603.3 826.5,603.3 827.0,603.3 827.5,603.3 828.0,603.3 828.4,603.3 828.9,603.3 829.4,603.3 829.8,603.3 830.3,603.3 830.8,603.3 831.3,601.5 831.7,603.3 832.2,603.3 832.7,603.3 833.1,601.7 833.6,603.3 834.1,603.3 834.5,603.3 835.0,601.4 835.5,603.3 836.0,603.3 836.4,603.3 836.9,603.3 837.4,603.3 837.8,603.3 838.3,603.3 838.8,603.3 839.3,603.3 839.7,603.3 840.2,603.3 840.7,603.3 841.1,603.3 841.6,603.3 842.1,603.3 842.6,603.3 843.0,603.3 843.5,603.3 844.0,603.3 844.4,603.3 844.9,603.3 845.4,603.3 845.9,603.3 846.3,603.3 846.8,603.3 847.3,603.3 847.7,603.3 848.2,603.3 848.7,603.3 849.2,603.3 849.6,603.3 850.1,603.3 850.6,603.3 851.0,603.3 851.5,603.3 852.0,603.3 852.5,603.3 852.9,603.3 853.4,603.3 853.9,603.3 854.3,603.3 854.8,603.3 855.3,603.3 855.8,603.3 856.2,603.3 856.7,603.3 857.2,603.3 857.6,603.3 858.1,603.3 858.6,603.3 859.0,603.3 859.5,603.3 860.0,603.3 860.5,603.3 860.9,603.3 861.4,603.3 861.9,603.3 862.3,603.3 862.8,603.3 863.3,603.3 863.8,603.3 864.2,603.3 864.7,597.5 865.2,603.3 865.6,603.3 866.1,603.3 866.6,603.3 867.1,603.3 867.5,603.3 868.0,603.3 868.5,603.3 868.9,603.3 869.4,601.3 869.9,603.3 870.4,603.3 870.8,603.3 871.3,603.3 871.8,603.3 872.2,601.5 872.7,603.3 873.2,602.7 873.7,603.3 874.1,603.3 874.6,603.3 875.1,603.3 875.5,603.3 876.0,603.3 876.5,603.3 877.0,603.3 877.4,601.2 877.9,603.3 878.4,603.3 878.8,603.3 879.3,603.3 879.8,602.7 880.3,603.3 880.7,603.3 881.2,601.8 881.7,603.3 882.1,603.3 882.6,603.3 883.1,601.0 883.6,603.3 884.0,603.3 884.5,603.3 885.0,603.3 885.4,603.3 885.9,603.3 886.4,603.3 886.8,603.3 887.3,603.3 887.8,603.3 888.3,603.3 888.7,603.2 889.2,603.3 889.7,603.3 890.1,603.3 890.6,603.3 891.1,603.3 891.6,603.3 892.0,603.3 892.5,603.3 893.0,603.3 893.4,603.3 893.9,603.3 894.4,603.3 894.9,603.3 895.3,603.3 895.8,603.3 896.3,603.3 896.7,603.3 897.2,603.3 897.7,603.3 898.2,603.3 898.6,603.3 899.1,603.3 899.6,603.3 900.0,603.3 900.5,603.3 901.0,603.3 901.5,603.3 901.9,603.3 902.4,603.3 902.9,603.3 903.3,603.3 903.8,603.3 904.3,603.3 904.8,603.3 905.2,603.3 905.7,603.3 906.2,603.3 906.6,603.3 907.1,603.3 907.6,603.3 908.1,603.3 908.5,603.3 909.0,603.3 909.5,603.3 909.9,603.3 910.4,603.3 910.9,603.3 911.3,603.3 911.8,603.3 912.3,603.3 912.8,603.3 913.2,603.3 913.7,603.3 914.2,603.3 914.6,603.2 915.1,603.3 915.6,603.3 916.1,603.3 916.5,603.3 917.0,603.3 917.5,603.3 917.9,603.3 918.4,603.3 918.9,601.0 919.4,603.3 919.8,603.3 920.3,603.3 920.8,603.3 921.2,603.3 921.7,603.3 922.2,603.3 922.7,603.3 923.1,603.3 923.6,603.3 924.1,603.3 924.5,603.3 925.0,603.3 925.5,603.3 926.0,603.3 926.4,603.3 926.9,603.3 927.4,603.3 927.8,603.3 928.3,603.3 928.8,603.3 929.3,603.3 929.7,603.3 930.2,603.3 930.7,603.3 931.1,603.3 931.6,603.3 932.1,603.3 932.6,603.3 933.0,603.3 933.5,603.3 934.0,603.3 934.4,603.3 934.9,603.3 935.4,603.3 935.8,603.3 936.3,603.3 936.8,603.3 937.3,603.3 937.7,603.3 938.2,603.3 938.7,603.3 939.1,603.3 939.6,603.3 940.1,603.3 940.6,603.3 941.0,603.3 941.5,603.3 942.0,603.3 942.4,603.3 942.9,603.3 943.4,603.3 943.9,603.3 944.3,603.3 944.8,603.3 945.3,603.3 945.7,603.3 946.2,603.3 946.7,603.3 947.2,603.3 947.6,603.3 948.1,603.3 948.6,603.3 949.0,603.3 949.5,603.3 950.0,603.3 950.5,603.3 950.9,603.3 951.4,603.3 951.9,603.3 952.3,602.2 952.8,603.3 953.3,603.3 953.8,603.3 954.2,603.3 954.7,602.8 955.2,603.3 955.6,603.3 956.1,603.3 956.6,603.3 957.1,603.3 957.5,603.3 958.0,603.3 958.5,603.3 958.9,603.3 959.4,603.3 959.9,603.3 960.4,603.3 960.8,603.3 961.3,603.3 961.8,603.3 962.2,603.3 962.7,603.3 963.2,603.3 963.6,603.3 964.1,603.3 964.6,603.3 965.1,603.3 965.5,603.3 966.0,603.3 966.5,603.3 966.9,603.3 967.4,603.3 967.9,603.3 968.4,603.3 968.8,603.3 969.3,603.3 969.8,603.3 970.2,603.3 970.7,603.3 971.2,603.3 971.7,603.3 972.1,603.3 972.6,601.5 973.1,603.3 973.5,603.3 974.0,603.3 974.5,603.3 975.0,601.4 975.4,603.3 975.9,603.3 976.4,603.3 976.8,603.3 977.3,603.3 977.8,601.1 978.3,603.3 978.7,603.3 979.2,603.3 979.7,603.3 980.1,603.3 980.6,603.3 981.1,603.3 981.6,603.3 982.0,603.3 982.5,603.3 983.0,601.5 983.4,603.3 983.9,603.3 984.4,603.3 984.9,603.3 985.3,603.3 985.8,603.3 986.3,603.3 986.7,603.3 987.2,603.3 987.7,603.3 988.1,603.3 988.6,603.3 989.1,603.3 989.6,603.3 990.0,603.3 990.5,603.3 991.0,602.6 991.4,603.3 991.9,603.3 992.4,603.3 992.9,603.3 993.3,602.1 993.8,603.3 994.3,603.3 994.7,603.3 995.2,603.3 995.7,603.3 996.2,603.3 996.6,603.3 997.1,603.3 997.6,603.3 998.0,603.3 998.5,603.3 999.0,603.3 999.5,603.3 999.9,603.3 1000.4,603.3 1000.9,603.3 1001.3,603.3 1001.8,603.3 1002.3,603.3 1002.8,603.3 1003.2,603.3 1003.7,603.3 1004.2,603.3 1004.6,603.3 1005.1,603.3 1005.6,603.3 1006.1,603.3 1006.5,603.3 1007.0,603.3 1007.5,603.3 1007.9,603.3 1008.4,603.3 1008.9,603.3 1009.4,603.3 1009.8,603.3 1010.3,602.6 1010.8,603.3 1011.2,603.3 1011.7,603.3 1012.2,603.3 1012.6,603.3 1013.1,603.3 1013.6,603.3 1014.1,603.3 1014.5,603.3 1015.0,603.3 1015.5,603.3 1015.9,601.6 1016.4,603.3 1016.9,603.3 1017.4,603.3 1017.8,603.3 1018.3,603.3 1018.8,603.3 1019.2,603.3 1019.7,603.3 1020.2,603.3 1020.7,603.3 1021.1,603.3 1021.6,603.3 1022.1,603.3 1022.5,603.3 1023.0,603.3 1023.5,603.3 1024.0,603.3 1024.4,603.3 1024.9,603.3 1025.4,603.3 1025.8,603.3 1026.3,602.0 1026.8,603.3 1027.3,603.3 1027.7,603.3 1028.2,603.3 1028.7,603.3 1029.1,603.3 1029.6,603.3 1030.1,603.3 1030.6,603.3 1031.0,603.3 1031.5,603.3 1032.0,603.3 1032.4,603.3 1032.9,603.3 1033.4,603.3 1033.9,603.3 1034.3,603.3 1034.8,603.3 1035.3,603.3 1035.7,603.3 1036.2,603.3 1036.7,603.3 1037.2,603.3 1037.6,603.3 1038.1,603.3 1038.6,603.3 1039.0,603.3 1039.5,602.8 1040.0,603.3 1040.4,603.3 1040.9,603.3 1041.4,603.3 1041.9,603.3 1042.3,603.3 1042.8,603.3 1043.3,603.3 1043.7,603.3 1044.2,596.2 1044.7,603.3 1045.2,603.3 1045.6,603.3 1046.1,603.3 1046.6,603.3 1047.0,603.3 1047.5,601.7 1048.0,603.3 1048.5,603.3 1048.9,603.3 1049.4,603.3 1049.9,603.3 1050.3,603.3 1050.8,603.3 1051.3,602.2 1051.8,603.3 1052.2,603.3 1052.7,602.5 1053.2,603.3 1053.6,603.3 1054.1,603.3 1054.6,603.3 1055.1,601.4 1055.5,603.3 1056.0,603.3 1056.5,603.3 1056.9,603.3 1057.4,603.3 1057.9,601.3 1058.4,603.3 1058.8,603.3 1059.3,603.3 1059.8,603.3 1060.2,603.3 1060.7,603.3 1061.2,603.3 1061.7,603.3 1062.1,603.3 1062.6,603.3 1063.1,601.8 1063.5,603.3 1064.0,603.3 1064.5,603.3 1064.9,603.3 1065.4,603.3 1065.9,603.3 1066.4,603.3 1066.8,603.3 1067.3,603.3 1067.8,603.3 1068.2,603.3 1068.7,603.3 1069.2,603.3 1069.7,603.3 1070.1,603.3 1070.6,603.3 1071.1,595.7 1071.5,603.3 1072.0,603.3 1072.5,603.3 1073.0,603.3 1073.4,603.3 1073.9,603.3 1074.4,603.3 1074.8,603.3 1075.3,603.3 1075.8,603.3 1076.3,603.3 1076.7,603.3 1077.2,603.3 1077.7,603.3 1078.1,603.3 1078.6,603.3 1079.1,603.3 1079.6,603.3 1080.0,603.3 1080.5,603.3 1081.0,603.3 1081.4,603.3 1081.9,603.3 1082.4,603.3 1082.9,603.3 1083.3,603.3 1083.8,603.3 1084.3,603.3 1084.7,602.3 1085.2,603.3 1085.7,603.3 1086.2,603.3 1086.6,603.3 1087.1,603.3 1087.6,603.3 1088.0,603.3 1088.5,603.3 1089.0,603.3 1089.5,603.3 1089.9,602.2 1090.4,602.7 1090.9,603.3 1091.3,603.3 1091.8,603.3 1092.3,603.3 1092.7,603.3 1093.2,603.3 1093.7,603.3 1094.2,603.3 1094.6,603.3 1095.1,603.3 1095.6,603.3 1096.0,602.6 1096.5,603.3 1097.0,603.3 1097.5,603.3 1097.9,603.3 1098.4,603.3 1098.9,603.3 1099.3,603.3 1099.8,603.3 1100.3,603.3 1100.8,603.3 1101.2,603.3 1101.7,603.3 1102.2,603.3 1102.6,603.3 1103.1,603.3 1103.6,603.3 1104.1,603.3 1104.5,603.3 1105.0,603.3 1105.5,603.3 1105.9,603.3 1106.4,603.3 1106.9,603.3 1107.4,603.3 1107.8,603.3 1108.3,603.3 1108.8,603.3 1109.2,603.3 1109.7,603.3 1110.2,602.8 1110.7,602.1 1111.1,603.3 1111.6,603.3 1112.1,603.3 1112.5,603.3 1113.0,603.3 1113.5,603.3 1114.0,603.3 1114.4,603.3 1114.9,603.3 1115.4,603.3 1115.8,603.3 1116.3,603.3 1116.8,603.3 1117.2,603.3 1117.7,603.3 1118.2,603.3 1118.7,603.3 1119.1,603.3 1119.6,603.3 1120.1,603.3 1120.5,603.3 1121.0,603.3 1121.5,603.3 1122.0,603.3 1122.4,603.3 1122.9,603.3 1123.4,603.3 1123.8,603.3 1124.3,603.3 1124.8,603.3 1125.3,603.3 1125.7,603.3 1126.2,603.3 1126.7,603.3 1127.1,603.3 1127.6,603.3 1128.1,603.3 1128.6,603.3 1129.0,603.3 1129.5,603.3 1130.0,603.3 1130.4,603.3 1130.9,603.3 1131.4,603.3 1131.9,603.3 1132.3,603.3 1132.8,603.3 1133.3,603.3 1133.7,603.3 1134.2,603.3 1134.7,603.3 1135.2,603.3 1135.6,603.3 1136.1,603.3 1136.6,603.3 1137.0,603.3 1137.5,603.3 1138.0,603.3 1138.5,603.3 1138.9,603.3 1139.4,603.3 1139.9,603.3 1140.3,603.3 1140.8,603.3 1141.3,603.3 1141.7,603.3 1142.2,603.3 1142.7,603.3 1143.2,603.3 1143.6,603.3 1144.1,603.3 1144.6,603.3 1145.0,603.3 1145.5,603.3 1146.0,603.3 1146.5,603.3 1146.9,603.3 1147.4,603.3 1147.9,603.3 1148.3,603.3 1148.8,603.3 1149.3,603.3 1149.8,603.3 1150.2,603.3 1150.7,603.3 1151.2,603.3 1151.6,603.3 1152.1,603.3 1152.6,603.3 1153.1,603.3 1153.5,603.3 1154.0,603.3 1154.5,603.3 1154.9,603.3 1155.4,603.3 1155.9,603.3 1156.4,603.3 1156.8,603.3 1157.3,603.3 1157.8,602.3 1158.2,603.3 1158.7,603.3 1159.2,603.3 1159.7,603.3 1160.1,603.3 1160.6,603.3 1161.1,603.3 1161.5,603.3 1162.0,603.3 1162.5,603.3 1163.0,603.3 1163.4,603.3 1163.9,603.3 1164.4,603.3 1164.8,603.3 1165.3,603.3 1165.8,603.3 1166.3,603.3 1166.7,601.8 1167.2,603.3 1167.7,603.3 1168.1,603.3 1168.6,603.3 1169.1,603.3 1169.5,603.3 1170.0,603.3 1170.5,603.3 1171.0,603.3 1171.4,603.3 1171.9,603.3 1172.4,603.3 1172.8,603.3 1173.3,603.3 1173.8,603.3 1174.3,603.3 1174.7,603.3 1175.2,603.3 1175.7,603.3 1176.1,603.3 1176.6,603.3 1177.1,603.3 1177.6,603.3 1178.0,603.3 1178.5,603.3 1179.0,603.3 1179.4,603.3 1179.9,603.3 1180.4,603.3 1180.9,603.3 1181.3,603.3 1181.8,603.3 1182.3,603.3 1182.7,603.3 1183.2,603.3 1183.7,603.3 1184.2,603.3 1184.6,603.3 1185.1,603.3 1185.6,603.3 1186.0,603.3 1186.5,603.3 1187.0,603.3 1187.5,603.3 1187.9,603.3 1188.4,603.3 1188.9,601.6 1189.3,603.3 1189.8,603.3 1190.3,602.0 1190.8,603.3 1191.2,603.3 1191.7,603.3 1192.2,603.3 1192.6,603.3 1193.1,603.3 1193.6,603.3 1194.0,603.3 1194.5,603.3 1195.0,603.3 1195.5,603.3 1195.9,603.3 1196.4,603.3 1196.9,603.3 1197.3,603.3 1197.8,603.3 1198.3,603.3 1198.8,603.3 1199.2,603.3 1199.7,603.3 1200.2,603.3 1200.6,603.3 1201.1,603.3 1201.6,603.3 1202.1,603.3 1202.5,603.3 1203.0,603.3 1203.5,603.3 1203.9,603.3 1204.4,603.3 1204.9,603.3 1205.4,603.3 1205.8,603.3 1206.3,603.3 1206.8,603.3 1207.2,603.3 1207.7,603.3 1208.2,603.3 1208.7,603.3 1209.1,603.3 1209.6,603.3 1210.1,602.2 1210.5,603.3 1211.0,603.3 1211.5,603.3 1212.0,603.3 1212.4,603.3 1212.9,603.3 1213.4,603.3 1213.8,603.3 1214.3,603.1 1214.8,603.3 1215.3,603.3 1215.7,603.3 1216.2,603.3 1216.7,603.3 1217.1,603.3 1217.6,603.3 1218.1,603.3 1218.5,603.3 1219.0,603.3 1219.5,603.3 1220.0,603.3 1220.4,603.3 1220.9,603.3 1221.4,603.3 1221.8,603.3 1222.3,603.3 1222.8,603.3 1223.3,603.3 1223.7,603.3 1224.2,603.3 1224.7,603.3 1225.1,603.3 1225.6,603.3 1226.1,603.3 1226.6,603.3 1227.0,603.3 1227.5,601.2 1228.0,603.3 1228.4,601.1 1228.9,603.3 1229.4,603.3 1229.9,603.3 1230.3,603.3 1230.8,603.3 1231.3,603.3 1231.7,603.3 1232.2,602.2 1232.7,603.3 1233.2,603.3 1233.6,603.3 1234.1,603.3 1234.6,603.3 1235.0,603.3 1235.5,603.3 1236.0,603.3 1236.5,603.3 1236.9,603.3 1237.4,603.3 1237.9,603.3 1238.3,603.3 1238.8,603.3 1239.3,603.3 1239.8,603.3 1240.2,603.3 1240.7,603.3 1241.2,603.3 1241.6,603.3 1242.1,603.3 1242.6,603.3 1243.1,603.3 1243.5,603.3 1244.0,603.3 1244.5,603.3 1244.9,603.3 1245.4,603.3 1245.9,603.3 1246.3,603.3 1246.8,603.3 1247.3,603.3 1247.8,603.3 1248.2,603.3 1248.7,603.3 1249.2,603.3 1249.6,603.3 1250.1,603.3 1250.6,603.3 1251.1,603.3 1251.5,603.3 1252.0,603.3 1252.5,601.6 1252.9,603.3 1253.4,603.3 1253.9,603.3 1254.4,603.3 1254.8,602.0 1255.3,603.3 1255.8,603.3 1256.2,603.3 1256.7,603.3 1257.2,603.3 1257.7,603.3 1258.1,603.3 1258.6,603.3 1259.1,603.3 1259.5,603.3 1260.0,603.3 1260.5,603.3 1261.0,603.3 1261.4,603.3 1261.9,603.3 1262.4,603.3 1262.8,603.3 1263.3,603.3 1263.8,603.3 1264.3,603.3 1264.7,603.3 1265.2,603.3 1265.7,603.3 1266.1,603.3 1266.6,603.3 1267.1,603.3 1267.6,603.3 1268.0,601.6 1268.5,603.3 1269.0,603.3 1269.4,603.3 1269.9,603.3 1270.4,603.3 1270.8,603.3 1271.3,603.3 1271.8,603.3 1272.3,603.3 1272.7,603.3 1273.2,603.3 1273.7,603.3 1274.1,603.3 1274.6,603.3 1275.1,603.3 1275.6,603.3 1276.0,603.3 1276.5,603.3 1277.0,603.3 1277.4,603.3 1277.9,603.3 1278.4,603.3 1278.9,603.3 1279.3,603.3 1279.8,603.3 1280.3,603.3 1280.7,603.3 1281.2,603.3 1281.7,603.3 1282.2,603.3 1282.6,603.3 1283.1,603.3 1283.6,603.3 1284.0,603.3 1284.5,603.3 1285.0,603.3 1285.5,603.3 1285.9,603.3 1286.4,603.3 1286.9,603.3 1287.3,603.3 1287.8,603.3 1288.3,603.3 1288.8,603.3 1289.2,603.3 1289.7,603.3 1290.2,603.3 1290.6,603.3 1291.1,603.3 1291.6,603.3 1292.1,603.3 1292.5,603.3 1293.0,603.3 1293.5,603.3 1293.9,603.3 1294.4,603.3 1294.9,603.3 1295.3,603.3 1295.8,603.3 1296.3,603.3 1296.8,603.3 1297.2,603.2 1297.7,603.3 1298.2,603.3 1298.6,603.3 1299.1,603.3 1299.6,603.3 1300.1,603.3 1300.5,603.3 1301.0,603.3 1301.5,601.0 1301.9,603.3 1302.4,603.3 1302.9,603.3 1303.4,603.3 1303.8,603.3 1304.3,603.3 1304.8,603.3 1305.2,603.3 1305.7,603.3 1306.2,603.3 1306.7,603.3 1307.1,603.3 1307.6,603.3 1308.1,603.3 1308.5,603.3 1309.0,603.3 1309.5,603.3 1310.0,603.3 1310.4,603.3 1310.9,603.3 1311.4,603.3 1311.8,603.3 1312.3,603.3 1312.8,603.3 1313.3,602.2 1313.7,603.3 1314.2,603.3 1314.7,603.3 1315.1,603.3 1315.6,603.3 1316.1,603.3 1316.6,603.3 1317.0,603.3 1317.5,603.3 1318.0,603.3 1318.4,603.3 1318.9,603.3 1319.4,603.3 1319.9,603.3 1320.3,603.3 1320.8,603.3 1321.3,603.3 1321.7,603.3 1322.2,603.3 1322.7,603.3 1323.1,603.3 1323.6,603.3 1324.1,603.3 1324.6,603.3 1325.0,602.5 1325.5,603.3 1326.0,603.3 1326.4,603.3 1326.9,603.3 1327.4,603.3 1327.9,603.3 1328.3,603.3 1328.8,603.3 1329.3,603.3 1329.7,603.3 1330.2,603.3 1330.7,603.3 1331.2,603.3 1331.6,603.3 1332.1,603.3 1332.6,603.3 1333.0,603.3 1333.5,603.3 1334.0,603.3 1334.5,603.3 1334.9,601.9 1335.4,603.3 1335.9,603.3 1336.3,603.3 1336.8,603.3 1337.3,603.3 1337.8,603.3 1338.2,603.3 1338.7,603.3 1339.2,603.3 1339.6,603.3 1340.1,603.3 1340.6,603.3 1341.1,603.3 1341.5,603.3 1342.0,603.3 1342.5,603.3 1342.9,603.3 1343.4,603.3 1343.9,603.3 1344.4,603.3 1344.8,603.3 1345.3,603.3 1345.8,603.3 1346.2,603.3 1346.7,603.3 1347.2,603.3 1347.6,603.3 1348.1,603.3 1348.6,603.3 1349.1,603.2 1349.5,603.3 1350.0,603.3 1350.5,603.3 1350.9,603.3 1351.4,603.3 1351.9,603.3 1352.4,603.3 1352.8,603.3 1353.3,603.3 1353.8,603.3 1354.2,603.3 1354.7,603.3 1355.2,603.3 1355.7,603.3 1356.1,603.3 1356.6,603.3 1357.1,603.3 1357.5,603.3 1358.0,603.3 1358.5,603.3 1359.0,603.3 1359.4,603.3 1359.9,603.3 1360.4,602.3 1360.8,603.3 1361.3,603.3 1361.8,603.0 1362.3,603.3 1362.7,603.3 1363.2,603.3 1363.7,603.3 1364.1,603.3 1364.6,602.8 1365.1,603.3 1365.6,603.3 1366.0,603.3 1366.5,603.3 1367.0,603.3 1367.4,603.3 1367.9,603.3 1368.4,603.3 1368.9,603.3 1369.3,603.3 1369.8,603.3 1370.3,603.3 1370.7,603.3 1371.2,603.3 1371.7,603.3 1372.2,603.3 1372.6,603.3 1373.1,603.3 1373.6,602.1 1374.0,603.3 1374.5,603.3 1375.0,603.3 1375.4,603.3 1375.9,603.3 1376.4,603.3 1376.9,603.3 1377.3,603.3 1377.8,603.3 1378.3,603.3 1378.7,603.3 1379.2,603.3 1379.7,603.3 1380.2,603.3 1380.6,603.3 1381.1,603.3 1381.6,601.9 1382.0,603.3 1382.5,603.3 1383.0,603.3 1383.5,603.3 1383.9,603.3 1384.4,603.3 1384.9,603.3 1385.3,603.3 1385.8,603.3 1386.3,602.8 1386.8,603.3 1387.2,603.3 1387.7,603.3 1388.2,603.3 1388.6,603.3 1389.1,603.3 1389.6,603.3 1390.1,603.3 1390.5,603.3 1391.0,603.3 1391.5,603.3 1391.9,603.3 1392.4,603.3 1392.9,603.3 1393.4,603.3 1393.8,603.3 1394.3,603.3 1394.8,603.3 1395.2,603.3 1395.7,603.3 1396.2,603.3 1396.7,603.3 1397.1,603.3 1397.6,603.3 1398.1,602.6 1398.5,603.3 1399.0,603.3 1399.5,603.3 1399.9,603.3 1400.4,603.3 1400.9,603.3 1401.4,603.3 1401.8,603.3 1402.3,603.3 1402.8,603.3 1403.2,603.3 1403.7,603.3 1404.2,603.3 1404.7,603.3 1405.1,603.2 1405.6,603.3 1406.1,603.3 1406.5,603.3 1407.0,603.3 1407.5,603.3 1408.0,603.3 1408.4,603.3 1408.9,603.3 1409.4,603.3 1409.8,602.6 1410.3,603.3 1410.8,603.3 1411.3,603.3 1411.7,603.3 1412.2,603.3 1412.7,603.3 1413.1,603.3 1413.6,603.3 1414.1,603.3 1414.6,603.3 1415.0,603.3 1415.5,603.3 1416.0,603.3 1416.4,603.3 1416.9,603.3 1417.4,603.3 1417.9,601.3 1418.3,603.3 1418.8,603.3 1419.3,603.3 1419.7,603.3 1420.2,603.3 1420.7,603.3 1421.2,603.3 1421.6,603.3 1422.1,603.3 1422.6,603.3 1423.0,603.3 1423.5,603.3 1424.0,603.3 1424.4,603.3 1424.9,603.3 1425.4,603.3 1425.9,601.3 1426.3,603.3 1426.8,603.3 1427.3,603.3 1427.7,603.3 1428.2,602.4 1428.7,603.3 1429.2,603.3 1429.6,603.3 1430.1,600.9 1430.6,603.3 1431.0,603.3 1431.5,603.3 1432.0,603.3 1432.5,603.3 1432.9,603.3 1433.4,603.3 1433.9,603.3 1434.3,603.3 1434.8,603.3 1435.3,603.3 1435.8,603.3 1436.2,603.3 1436.7,603.3 1437.2,603.3 1437.6,603.3 1438.1,603.3 1438.6,603.3 1439.1,603.3 1439.5,603.3 1440.0,603.3 1440.5,603.3 1440.9,602.8 1441.4,603.3 1441.9,603.3 1442.4,603.3 1442.8,603.3 1443.3,603.3 1443.8,603.3 1444.2,603.3 1444.7,603.3 1445.2,603.3 1445.7,603.3 1446.1,603.3 1446.6,603.3 1447.1,603.3 1447.5,603.3 1448.0,603.3 1448.5,603.3 1449.0,603.3 1449.4,603.3 1449.9,603.3 1450.4,603.3 1450.8,603.3 1451.3,603.3 1451.8,603.3 1452.2,603.3 1452.7,603.3 1453.2,603.3 1453.7,603.3 1454.1,603.3 1454.6,603.3 1455.1,603.3 1455.5,603.3 1456.0,603.3 1456.5,603.3 1457.0,603.3 1457.4,603.3 1457.9,603.3 1458.4,603.3 1458.8,603.3 1459.3,603.3 1459.8,603.3 1460.3,603.3 1460.7,603.3 1461.2,603.3 1461.7,603.3 1462.1,603.3 1462.6,603.3 1463.1,603.3 1463.6,603.3 1464.0,601.7 1464.5,603.3 1465.0,603.3 1465.4,603.3 1465.9,603.3 1466.4,603.3 1466.9,603.3 1467.3,603.3 1467.8,603.3 1468.3,603.3 1468.7,603.3 1469.2,603.3 1469.7,603.3 1470.2,603.3 1470.6,603.3 1471.1,603.3 1471.6,603.3 1472.0,603.3 1472.5,603.3 1473.0,603.3 1473.5,603.3 1473.9,603.3 1474.4,603.3 1474.9,603.3 1475.3,603.3 1475.8,603.3 1476.3,603.3 1476.7,603.3 1477.2,603.3 1477.7,603.3 1478.2,603.3 1478.6,603.3 1479.1,603.3 1479.6,603.3 1480.0,603.3 1480.5,603.3 1481.0,603.3 1481.5,603.3 1481.9,603.3 1482.4,603.3 1482.9,603.3 1483.3,603.3 1483.8,603.3 1484.3,603.3 1484.8,601.7 1485.2,603.3 1485.7,603.3 1486.2,603.3 1486.6,603.3 1487.1,603.3 1487.6,603.3 1488.1,603.3 1488.5,603.3 1489.0,603.3 1489.5,603.3 1489.9,603.3 1490.4,603.3 1490.9,603.3 1491.4,603.3 1491.8,603.3 1492.3,603.3 1492.8,603.3 1493.2,603.3 1493.7,603.3 1494.2,603.3 1494.7,603.3 1495.1,603.3 1495.6,603.3 1496.1,603.3 1496.5,603.3 1497.0,603.3 1497.5,603.3 1498.0,603.3 1498.4,603.3 1498.9,603.3 1499.4,603.3 1499.8,603.3 1500.3,603.3 1500.8,603.3 1501.2,603.3 1501.7,603.3 1502.2,603.3 1502.7,603.3 1503.1,603.3 1503.6,603.3 1504.1,603.3 1504.5,603.3 1505.0,603.3 1505.5,603.3 1506.0,603.3 1506.4,603.3 1506.9,593.5 1507.4,603.3 1507.8,603.3 1508.3,603.3 1508.8,603.3 1509.3,603.3 1509.7,602.7 1510.2,603.3 1510.7,603.3 1511.1,603.3 1511.6,603.3 1512.1,603.3 1512.6,603.3 1513.0,603.3 1513.5,603.3 1514.0,603.3 1514.4,603.3 1514.9,603.3 1515.4,603.3 1515.9,603.3 1516.3,603.3 1516.8,603.3 1517.3,603.3 1517.7,603.3 1518.2,603.3 1518.7,603.3 1519.2,603.3 1519.6,603.3 1520.1,603.3 1520.6,603.3 1521.0,603.3 1521.5,603.3 1522.0,603.3 1522.5,603.3 1522.9,603.3 1523.4,603.3 1523.9,603.3 1524.3,603.3 1524.8,603.3 1525.3,603.3 1525.8,603.3 1526.2,603.3 1526.7,603.3 1527.2,603.3 1527.6,603.3 1528.1,603.3 1528.6,603.3 1529.0,603.3 1529.5,603.3 1530.0,603.3 1530.5,603.3 1530.9,603.3 1531.4,603.3 1531.9,603.3 1532.3,603.3 1532.8,603.3 1533.3,603.3 1533.8,603.3 1534.2,603.3 1534.7,603.3 1535.2,603.3 1535.6,603.3 1536.1,603.3 1536.6,603.3 1537.1,603.3 1537.5,603.3 1538.0,603.3 1538.5,603.3 1538.9,603.3 1539.4,603.3 1539.9,603.3 1540.4,602.3 1540.8,603.3 1541.3,603.3 1541.8,603.3 1542.2,603.3 1542.7,603.3 1543.2,603.3 1543.7,603.3 1544.1,603.3 1544.6,603.3 1545.1,603.3 1545.5,603.3 1546.0,603.3 1546.5,603.3 1547.0,603.3 1547.4,603.3 1547.9,603.3 1548.4,603.3 1548.8,603.3 1549.3,603.3 1549.8,603.3 1550.3,602.4 1550.7,603.3 1551.2,603.3 1551.7,603.3 1552.1,603.3 1552.6,603.3 1553.1,603.3 1553.5,603.3 1554.0,603.3 1554.5,603.3 1555.0,603.3 1555.4,603.3 1555.9,603.3 1556.4,603.3 1556.8,603.3 1557.3,601.1 1557.8,603.3 1558.3,603.3 1558.7,603.3 1559.2,603.3 1559.7,603.3 1560.1,603.3 1560.6,603.3 1561.1,603.3 1561.6,603.3 1562.0,603.3 1562.5,603.3 1563.0,603.3 1563.4,603.3 1563.9,603.3 1564.4,603.3 1564.9,603.3 1565.3,603.3 1565.8,603.3 1566.3,603.3 1566.7,603.3 1567.2,602.5 1567.7,601.8 1568.2,603.3 1568.6,603.3 1569.1,603.3 1569.6,603.3 1570.0,603.3 1570.5,603.3 1571.0,603.3 1571.5,603.3 1571.9,603.3 1572.4,603.3 1572.9,603.3 1573.3,603.3 1573.8,603.3 1574.3,603.3 1574.8,603.3 1575.2,603.3 1575.7,603.3 1576.2,603.3 1576.6,603.3 1577.1,603.3 1577.6,603.3 1578.0,603.3 1578.5,603.3 1579.0,603.3 1579.5,603.3 1579.9,603.3 1580.4,602.5 1580.9,603.3 1581.3,603.3 1581.8,603.3 1582.3,603.3 1582.8,603.3 1583.2,603.3 1583.7,603.3 1584.2,603.3 1584.6,603.3 1585.1,603.3 1585.6,603.3 1586.1,603.3 1586.5,603.3 1587.0,603.3 1587.5,603.3 1587.9,603.3 1588.4,603.3 1588.9,603.3 1589.4,603.3 1589.8,603.3 1590.3,603.3 1590.8,603.3 1591.2,603.3 1591.7,603.3 1592.2,602.2 1592.7,603.3 1593.1,603.3 1593.6,603.3 1594.1,603.3 1594.5,603.3 1595.0,603.3 1595.5,603.3 1596.0,603.3 1596.4,603.3 1596.9,603.3 1597.4,603.3 1597.8,603.3 1598.3,603.3 1598.8,603.3 1599.3,603.3 1599.7,603.3 1600.2,603.3 1600.7,603.3 1601.1,603.3 1601.6,603.3 1602.1,603.3 1602.6,603.2 1603.0,603.3 1603.5,603.3 1604.0,603.3 1604.4,603.3 1604.9,603.3 1605.4,603.3 1605.8,603.3 1606.3,603.3 1606.8,602.3 1607.3,603.3 1607.7,603.3 1608.2,603.3 1608.7,603.3 1609.1,603.3 1609.6,603.3 1610.1,603.3 1610.6,603.3 1611.0,603.3 1611.5,603.3 1612.0,603.3 1612.4,601.0 1612.9,603.3 1613.4,603.3 1613.9,603.3 1614.3,603.3 1614.8,603.3 1615.3,603.3 1615.7,603.3 1616.2,603.3 1616.7,603.3 1617.2,603.3 1617.6,603.3 1618.1,603.3 1618.6,603.3 1619.0,603.3 1619.5,603.3 1620.0,601.7 1620.5,603.3 1620.9,603.3 1621.4,603.3 1621.9,603.3 1622.3,603.3 1622.8,603.3 1623.3,603.3 1623.8,603.3 1624.2,603.3 1624.7,603.3 1625.2,603.3 1625.6,603.3 1626.1,603.3 1626.6,603.3 1627.1,602.1 1627.5,603.0 1628.0,601.5 1628.5,603.3 1628.9,603.3 1629.4,603.3 1629.9,603.3 1630.3,603.3 1630.8,603.3 1631.3,603.3 1631.8,603.3 1632.2,603.3 1632.7,603.3 1633.2,603.3 1633.6,603.3 1634.1,603.3 1634.6,603.3 1635.1,601.4 1635.5,603.3 1636.0,603.3 1636.5,603.3 1636.9,603.3 1637.4,603.3 1637.9,603.3 1638.4,603.3 1638.8,603.3 1639.3,603.3 1639.8,603.3 1640.2,603.3 1640.7,603.3 1641.2,603.3 1641.7,603.3 1642.1,603.3 1642.6,603.3 1643.1,603.3 1643.5,603.3 1644.0,603.3 1644.5,603.3 1645.0,603.3 1645.4,603.3 1645.9,603.3 1646.4,603.3 1646.8,603.3 1647.3,603.3 1647.8,603.3 1648.3,603.3 1648.7,603.3 1649.2,603.3 1649.7,603.3 1650.1,603.3 1650.6,603.3 1651.1,603.3 1651.6,602.5 1652.0,603.3 1652.5,603.3 1653.0,603.3 1653.4,603.3 1653.9,603.3 1654.4,603.3 1654.9,602.1 1655.3,602.9 1655.8,603.3 1656.3,603.3 1656.7,603.3 1657.2,603.3 1657.7,603.3 1658.1,602.3 1658.6,603.3 1659.1,603.3 1659.6,603.3 1660.0,603.3 1660.5,603.3 1661.0,603.3 1661.4,603.3 1661.9,603.3 1662.4,603.3 1662.9,603.3 1663.3,603.3 1663.8,603.3 1664.3,603.3 1664.7,603.3 1665.2,602.5 1665.7,603.3 1666.2,603.3 1666.6,603.3 1667.1,603.3 1667.6,603.3 1668.0,603.3 1668.5,603.3 1669.0,603.3 1669.5,603.2 1669.9,603.3 1670.4,603.3 1670.9,603.3 1671.3,603.3 1671.8,603.3 1672.3,603.3 1672.8,603.3 1673.2,603.3 1673.7,603.3 1674.2,603.3 1674.6,603.3 1675.1,601.2 1675.6,603.3 1676.1,603.3 1676.5,603.3 1677.0,603.3 1677.5,603.3 1677.9,603.3 1678.4,603.3 1678.9,603.3 1679.4,603.3 1679.8,603.3 1680.3,603.3 1680.8,603.3 1681.2,601.8 1681.7,603.3 1682.2,603.3 1682.6,603.3 1683.1,601.7 1683.6,603.3 1684.1,603.3 1684.5,603.3 1685.0,603.3 1685.5,603.3 1685.9,603.3 1686.4,603.3 1686.9,603.3 1687.4,603.3 1687.8,603.3 1688.3,603.3 1688.8,603.3 1689.2,603.3 1689.7,603.3 1690.2,603.3 1690.7,603.3 1691.1,603.3 1691.6,601.1 1692.1,603.3 1692.5,603.3 1693.0,602.8 1693.5,603.3 1694.0,603.3 1694.4,603.3 1694.9,603.3 1695.4,603.3 1695.8,603.3 1696.3,602.7 1696.8,603.3 1697.3,603.3 1697.7,603.3 1698.2,603.3 1698.7,603.3 1699.1,603.3 1699.6,603.3 1700.1,603.3 1700.6,603.3 1701.0,603.3 1701.5,603.3 1702.0,603.3 1702.4,603.3 1702.9,603.3 1703.4,603.3 1703.9,603.3 1704.3,603.3 1704.8,603.3 1705.3,603.3 1705.7,603.3 1706.2,603.3 1706.7,603.3 1707.1,603.3 1707.6,603.3 1708.1,603.3 1708.6,603.3 1709.0,603.3 1709.5,603.3 1710.0,603.3 1710.4,603.3 1710.9,603.3 1711.4,603.3 1711.9,603.3 1712.3,603.3 1712.8,603.3 1713.3,603.3 1713.7,603.3 1714.2,601.8 1714.7,603.3 1715.2,603.3 1715.6,603.3 1716.1,601.6 1716.6,603.3 1717.0,603.3 1717.5,603.3 1718.0,603.3 1718.5,603.3 1718.9,603.3 1719.4,603.3 1719.9,603.3 1720.3,603.3 1720.8,603.3 1721.3,603.3 1721.8,603.3 1722.2,603.3 1722.7,603.3 1723.2,603.3 1723.6,603.3 1724.1,603.3 1724.6,603.3 1725.1,603.3 1725.5,603.3 1726.0,603.3 1726.5,603.3 1726.9,603.3 1727.4,603.3 1727.9,603.3 1728.4,603.3 1728.8,603.3 1729.3,603.3 1729.8,603.3 1730.2,603.3 1730.7,603.3 1731.2,603.3 1731.7,603.3 1732.1,603.3 1732.6,603.3 1733.1,603.3 1733.5,603.3 1734.0,603.3 1734.5,603.3 1734.9,603.3 1735.4,603.3 1735.9,603.3 1736.4,603.3 1736.8,603.3 1737.3,603.3 1737.8,603.3 1738.2,603.3 1738.7,601.4 1739.2,603.3 1739.7,603.3 1740.1,603.3 1740.6,603.3 1741.1,603.3 1741.5,603.3 1742.0,603.3 1742.5,603.3 1743.0,603.3 1743.4,603.3 1743.9,603.3 1744.4,603.3 1744.8,603.3 1745.3,603.3 1745.8,603.3 1746.3,603.3 1746.7,603.3 1747.2,603.3 1747.7,603.3 1748.1,603.3 1748.6,603.3 1749.1,603.3 1749.6,603.3 1750.0,603.3 1750.5,603.3 1751.0,603.3 1751.4,603.3 1751.9,603.3 1752.4,603.3 1752.9,603.3 1753.3,603.3 1753.8,603.3 1754.3,603.3 1754.7,603.3 1755.2,603.3 1755.7,603.3 1756.2,603.3 1756.6,603.3 1757.1,603.3 1757.6,603.3 1758.0,603.3 1758.5,601.4 1759.0,602.5 1759.4,603.1 1759.9,603.3 1760.4,603.3 1760.9,603.3 1761.3,603.3 1761.8,603.3 1762.3,603.3 1762.7,603.3 1763.2,603.3 1763.7,603.3 1764.2,603.3 1764.6,603.3 1765.1,603.3 1765.6,603.3 1766.0,603.3 1766.5,603.3 1767.0,603.3 1767.5,603.3 1767.9,603.3 1768.4,603.3 1768.9,603.3 1769.3,601.6 1769.8,601.2 1770.3,603.3 1770.8,603.3 1771.2,603.3 1771.7,603.3 1772.2,603.3 1772.6,603.3 1773.1,603.3 1773.6,603.3 1774.1,603.3 1774.5,603.3 1775.0,603.3 1775.5,603.3 1775.9,602.6 1776.4,603.3 1776.9,603.3 1777.4,603.3 1777.8,603.3 1778.3,603.3 1778.8,603.3 1779.2,603.3 1779.7,603.3 1780.2,603.3 1780.7,603.3 1781.1,603.3 1781.6,601.2 1782.1,603.3 1782.5,603.3 1783.0,603.3 1783.5,603.3 1783.9,603.3 1784.4,603.3 1784.9,603.3 1785.4,603.3 1785.8,603.3 1786.3,603.3 1786.8,603.3 1787.2,603.3 1787.7,601.0 1788.2,603.3 1788.7,603.3 1789.1,603.3 1789.6,603.3 1790.1,603.3 1790.5,603.3 1791.0,603.3 1791.5,603.3 1792.0,603.3 1792.4,603.3 1792.9,603.3 1793.4,603.3 1793.8,603.3" fill="none" stroke="#0095d5" stroke-width="1"/><line x1="98" y1="603.3" x2="1794" y2="603.3" stroke="#c000c4" stroke-width="1" opacity="0.8"/><polyline points="98.6,568.7 99.1,603.3 99.5,603.3 100.0,598.8 100.5,602.3 100.9,598.6 101.4,602.2 101.9,565.6 102.4,603.3 102.8,598.3 103.3,578.2 103.8,603.3 104.2,603.3 104.7,597.0 105.2,563.3 105.7,603.3 106.1,603.3 106.6,603.3 107.1,603.3 107.5,599.8 108.0,580.5 108.5,601.1 109.0,603.3 109.4,591.2 109.9,603.3 110.4,573.8 110.8,588.3 111.3,603.3 111.8,603.3 112.3,548.8 112.7,601.6 113.2,601.0 113.7,603.3 114.1,588.4 114.6,603.3 115.1,584.5 115.5,603.3 116.0,603.3 116.5,600.3 117.0,603.3 117.4,591.1 117.9,600.1 118.4,603.3 118.8,591.6 119.3,603.3 119.8,585.0 120.3,603.3 120.7,603.3 121.2,596.7 121.7,552.5 122.1,603.3 122.6,591.4 123.1,601.4 123.6,596.9 124.0,603.3 124.5,489.7 125.0,603.3 125.4,596.8 125.9,603.3 126.4,536.1 126.9,603.3 127.3,599.4 127.8,603.3 128.3,603.3 128.7,599.3 129.2,588.9 129.7,603.3 130.2,600.7 130.6,603.3 131.1,599.0 131.6,546.5 132.0,596.4 132.5,603.3 133.0,597.5 133.5,597.9 133.9,586.7 134.4,603.3 134.9,590.1 135.3,603.3 135.8,603.3 136.3,568.7 136.8,603.3 137.2,603.3 137.7,603.3 138.2,603.3 138.6,579.8 139.1,603.3 139.6,603.3 140.0,556.1 140.5,600.0 141.0,599.6 141.5,593.7 141.9,603.3 142.4,603.3 142.9,603.3 143.3,570.1 143.8,603.3 144.3,603.3 144.8,534.2 145.2,596.4 145.7,597.6 146.2,603.3 146.6,598.6 147.1,601.5 147.6,588.9 148.1,580.6 148.5,603.3 149.0,600.4 149.5,603.3 149.9,603.3 150.4,583.2 150.9,588.2 151.4,603.3 151.8,593.6 152.3,589.4 152.8,583.3 153.2,603.3 153.7,603.3 154.2,554.4 154.7,603.3 155.1,603.3 155.6,589.8 156.1,603.3 156.5,600.7 157.0,603.3 157.5,583.4 158.0,603.3 158.4,603.3 158.9,603.3 159.4,601.0 159.8,587.8 160.3,596.4 160.8,603.3 161.3,603.3 161.7,589.0 162.2,581.2 162.7,603.3 163.1,597.6 163.6,593.3 164.1,590.0 164.5,596.4 165.0,602.4 165.5,603.3 166.0,594.5 166.4,599.1 166.9,578.5 167.4,603.3 167.8,603.3 168.3,561.1 168.8,590.8 169.3,603.3 169.7,602.3 170.2,603.3 170.7,603.3 171.1,597.9 171.6,585.9 172.1,603.3 172.6,598.0 173.0,603.3 173.5,601.5 174.0,574.2 174.4,597.0 174.9,603.3 175.4,603.3 175.9,597.7 176.3,577.5 176.8,585.2 177.3,603.3 177.7,603.3 178.2,596.2 178.7,579.4 179.2,603.3 179.6,603.3 180.1,603.3 180.6,602.3 181.0,557.1 181.5,603.3 182.0,603.3 182.5,603.3 182.9,603.3 183.4,584.9 183.9,603.3 184.3,603.3 184.8,593.7 185.3,603.3 185.8,580.6 186.2,603.3 186.7,603.3 187.2,595.4 187.6,595.5 188.1,543.1 188.6,598.5 189.1,603.3 189.5,603.3 190.0,603.3 190.5,568.7 190.9,603.3 191.4,603.3 191.9,603.3 192.3,592.3 192.8,587.4 193.3,601.0 193.8,603.3 194.2,603.3 194.7,597.2 195.2,546.5 195.6,603.3 196.1,599.2 196.6,603.3 197.1,603.3 197.5,557.3 198.0,600.8 198.5,603.3 198.9,603.3 199.4,603.3 199.9,603.3 200.4,563.5 200.8,595.1 201.3,603.3 201.8,595.8 202.2,575.4 202.7,588.7 203.2,603.3 203.7,603.3 204.1,603.3 204.6,582.8 205.1,603.3 205.5,595.2 206.0,596.3 206.5,603.3 207.0,568.7 207.4,589.4 207.9,603.3 208.4,603.3 208.8,603.3 209.3,549.2 209.8,598.7 210.3,603.3 210.7,603.3 211.2,588.8 211.7,589.6 212.1,600.4 212.6,603.3 213.1,603.3 213.6,603.3 214.0,584.3 214.5,603.3 215.0,602.5 215.4,603.3 215.9,603.3 216.4,603.3 216.8,600.4 217.3,549.8 217.8,603.3 218.3,603.3 218.7,575.8 219.2,603.3 219.7,600.1 220.1,603.3 220.6,601.4 221.1,589.3 221.6,599.4 222.0,587.7 222.5,603.3 223.0,603.3 223.4,596.8 223.9,550.2 224.4,597.3 224.9,603.3 225.3,588.1 225.8,585.8 226.3,598.5 226.7,599.1 227.2,588.0 227.7,591.1 228.2,568.7 228.6,603.3 229.1,603.3 229.6,603.3 230.0,596.1 230.5,586.3 231.0,601.9 231.5,602.7 231.9,588.8 232.4,603.3 232.9,590.9 233.3,587.3 233.8,603.3 234.3,597.6 234.8,598.5 235.2,593.9 235.7,597.8 236.2,603.3 236.6,603.3 237.1,603.3 237.6,573.2 238.1,603.3 238.5,603.3 239.0,549.6 239.5,602.2 239.9,600.4 240.4,603.3 240.9,603.3 241.3,602.8 241.8,603.3 242.3,573.8 242.8,601.6 243.2,603.3 243.7,603.3 244.2,603.3 244.6,586.3 245.1,588.8 245.6,591.3 246.1,597.5 246.5,599.3 247.0,584.4 247.5,603.3 247.9,603.3 248.4,602.2 248.9,591.3 249.4,568.7 249.8,603.3 250.3,603.3 250.8,600.9 251.2,603.3 251.7,584.2 252.2,603.3 252.7,603.3 253.1,603.3 253.6,530.3 254.1,590.7 254.5,598.8 255.0,603.3 255.5,603.3 256.0,603.3 256.4,569.9 256.9,603.3 257.4,588.6 257.8,603.3 258.3,592.1 258.8,576.1 259.3,593.6 259.7,603.3 260.2,599.5 260.7,603.3 261.1,587.8 261.6,595.0 262.1,600.3 262.6,599.2 263.0,597.2 263.5,581.3 264.0,598.8 264.4,603.3 264.9,598.9 265.4,553.4 265.9,589.4 266.3,597.5 266.8,588.7 267.3,603.3 267.7,564.2 268.2,594.6 268.7,602.0 269.1,599.8 269.6,602.6 270.1,603.3 270.6,568.7 271.0,603.3 271.5,598.7 272.0,603.3 272.4,596.9 272.9,584.2 273.4,601.6 273.9,603.3 274.3,594.0 274.8,603.3 275.3,588.1 275.7,603.3 276.2,599.7 276.7,601.8 277.2,598.4 277.6,578.2 278.1,603.3 278.6,603.3 279.0,603.3 279.5,597.4 280.0,586.8 280.5,603.3 280.9,589.8 281.4,602.7 281.9,590.6 282.3,523.0 282.8,594.7 283.3,603.3 283.8,603.3 284.2,592.3 284.7,570.7 285.2,599.1 285.6,603.3 286.1,603.3 286.6,603.3 287.1,570.0 287.5,594.3 288.0,598.4 288.5,603.3 288.9,603.3 289.4,568.7 289.9,603.3 290.4,603.3 290.8,603.3 291.3,603.3 291.8,592.2 292.2,603.3 292.7,597.7 293.2,590.7 293.6,603.3 294.1,589.6 294.6,555.4 295.1,602.3 295.5,603.3 296.0,600.5 296.5,577.8 296.9,599.2 297.4,603.3 297.9,600.8 298.4,603.3 298.8,574.8 299.3,596.1 299.8,588.3 300.2,603.3 300.7,599.2 301.2,564.2 301.7,595.1 302.1,596.4 302.6,603.3 303.1,603.3 303.5,585.2 304.0,593.7 304.5,603.3 305.0,603.3 305.4,587.9 305.9,577.9 306.4,603.3 306.8,603.3 307.3,603.3 307.8,603.3 308.3,598.0 308.7,531.9 309.2,590.0 309.7,598.7 310.1,598.9 310.6,542.1 311.1,603.3 311.6,590.9 312.0,603.3 312.5,603.3 313.0,583.5 313.4,603.3 313.9,603.3 314.4,603.3 314.9,601.7 315.3,573.3 315.8,598.2 316.3,598.1 316.7,603.3 317.2,595.1 317.7,586.7 318.2,597.5 318.6,603.3 319.1,603.3 319.6,592.1 320.0,593.3 320.5,597.1 321.0,603.3 321.4,603.3 321.9,603.3 322.4,603.3 322.9,596.3 323.3,557.9 323.8,602.4 324.3,603.3 324.7,589.7 325.2,603.3 325.7,597.8 326.2,593.7 326.6,603.3 327.1,569.2 327.6,603.3 328.0,603.3 328.5,603.3 329.0,587.4 329.5,584.5 329.9,596.6 330.4,597.6 330.9,599.5 331.3,588.6 331.8,583.2 332.3,603.3 332.8,599.6 333.2,603.3 333.7,603.3 334.2,583.4 334.6,600.9 335.1,603.3 335.6,600.9 336.1,599.7 336.5,603.3 337.0,560.2 337.5,593.4 337.9,603.3 338.4,603.3 338.9,599.9 339.4,540.7 339.8,597.0 340.3,588.9 340.8,603.3 341.2,582.5 341.7,603.3 342.2,589.0 342.7,598.2 343.1,596.9 343.6,586.1 344.1,591.5 344.5,603.3 345.0,603.3 345.5,603.3 345.9,587.2 346.4,594.8 346.9,598.3 347.4,603.3 347.8,603.3 348.3,586.9 348.8,595.8 349.2,603.3 349.7,602.4 350.2,603.3 350.7,583.1 351.1,603.3 351.6,603.3 352.1,564.6 352.5,597.5 353.0,596.1 353.5,597.4 354.0,592.5 354.4,599.5 354.9,588.9 355.4,587.2 355.8,596.6 356.3,603.3 356.8,603.3 357.3,589.2 357.7,589.3 358.2,588.9 358.7,603.3 359.1,603.3 359.6,600.0 360.1,582.1 360.6,603.3 361.0,602.9 361.5,603.3 362.0,603.3 362.4,568.7 362.9,599.3 363.4,603.3 363.9,599.5 364.3,596.9 364.8,588.9 365.3,603.3 365.7,603.3 366.2,603.3 366.7,599.2 367.2,595.5 367.6,596.6 368.1,599.3 368.6,600.4 369.0,588.0 369.5,587.5 370.0,587.7 370.4,592.9 370.9,603.3 371.4,554.2 371.9,603.3 372.3,602.2 372.8,603.3 373.3,602.8 373.7,603.3 374.2,589.3 374.7,599.2 375.2,603.3 375.6,594.1 376.1,598.2 376.6,584.3 377.0,598.4 377.5,603.3 378.0,589.7 378.5,603.3 378.9,555.4 379.4,594.4 379.9,603.3 380.3,603.3 380.8,596.9 381.3,590.1 381.8,603.3 382.2,603.3 382.7,591.3 383.2,603.3 383.6,571.0 384.1,587.3 384.6,603.3 385.1,603.3 385.5,598.7 386.0,575.5 386.5,597.9 386.9,597.9 387.4,602.4 387.9,603.3 388.4,575.9 388.8,603.3 389.3,597.2 389.8,603.3 390.2,595.6 390.7,591.8 391.2,600.3 391.7,597.4 392.1,603.3 392.6,559.2 393.1,595.7 393.5,603.3 394.0,603.3 394.5,600.8 395.0,602.9 395.4,568.7 395.9,594.0 396.4,603.3 396.8,598.1 397.3,601.5 397.8,582.1 398.2,600.3 398.7,603.3 399.2,603.3 399.7,599.1 400.1,602.7 400.6,546.9 401.1,603.3 401.5,603.3 402.0,603.3 402.5,583.7 403.0,603.3 403.4,599.9 403.9,603.3 404.4,601.8 404.8,568.7 405.3,603.3 405.8,603.3 406.3,598.8 406.7,597.3 407.2,588.8 407.7,561.9 408.1,603.3 408.6,603.3 409.1,603.3 409.6,581.3 410.0,599.3 410.5,603.3 411.0,603.3 411.4,603.3 411.9,577.1 412.4,592.5 412.9,603.3 413.3,603.3 413.8,603.3 414.3,583.8 414.7,596.7 415.2,603.3 415.7,599.6 416.2,603.3 416.6,583.5 417.1,603.3 417.6,603.3 418.0,598.6 418.5,603.3 419.0,603.3 419.5,603.3 419.9,554.2 420.4,603.3 420.9,603.3 421.3,573.4 421.8,603.3 422.3,590.4 422.7,603.3 423.2,601.2 423.7,587.7 424.2,597.8 424.6,603.3 425.1,590.7 425.6,600.3 426.0,581.9 426.5,603.3 427.0,599.3 427.5,603.3 427.9,597.2 428.4,603.3 428.9,593.8 429.3,492.4 429.8,603.3 430.3,603.3 430.8,588.1 431.2,603.3 431.7,603.3 432.2,603.3 432.6,600.4 433.1,603.3 433.6,563.3 434.1,598.3 434.5,602.7 435.0,603.3 435.5,575.3 435.9,603.3 436.4,595.2 436.9,601.5 437.4,588.4 437.8,588.9 438.3,592.9 438.8,603.3 439.2,603.3 439.7,603.3 440.2,568.7 440.7,603.3 441.1,590.8 441.6,603.3 442.1,587.7 442.5,586.0 443.0,592.2 443.5,599.1 444.0,597.0 444.4,603.3 444.9,587.0 445.4,603.3 445.8,602.7 446.3,602.9 446.8,603.3 447.2,594.3 447.7,601.2 448.2,561.7 448.7,597.8 449.1,601.4 449.6,577.8 450.1,603.3 450.5,600.6 451.0,603.3 451.5,587.8 452.0,587.3 452.4,596.6 452.9,602.6 453.4,600.5 453.8,603.3 454.3,568.7 454.8,603.3 455.3,598.9 455.7,603.3 456.2,603.3 456.7,588.4 457.1,599.8 457.6,603.3 458.1,596.7 458.6,603.3 459.0,592.8 459.5,603.3 460.0,594.9 460.4,602.3 460.9,603.3 461.4,568.7 461.9,599.9 462.3,603.3 462.8,589.6 463.3,561.1 463.7,603.3 464.2,603.3 464.7,597.0 465.2,602.0 465.6,558.1 466.1,595.9 466.6,590.2 467.0,601.1 467.5,603.3 468.0,588.6 468.5,580.6 468.9,603.3 469.4,598.9 469.9,597.1 470.3,600.4 470.8,568.7 471.3,590.2 471.8,603.3 472.2,603.3 472.7,597.0 473.2,580.7 473.6,603.3 474.1,599.7 474.6,603.3 475.0,603.3 475.5,565.0 476.0,599.5 476.5,603.3 476.9,595.4 477.4,603.3 477.9,591.3 478.3,603.3 478.8,599.9 479.3,594.3 479.8,603.3 480.2,572.5 480.7,599.1 481.2,589.8 481.6,603.3 482.1,603.3 482.6,544.4 483.1,603.3 483.5,601.9 484.0,603.3 484.5,601.6 484.9,577.5 485.4,597.6 485.9,599.0 486.4,600.8 486.8,603.3 487.3,548.8 487.8,603.3 488.2,603.3 488.7,603.3 489.2,536.1 489.7,601.1 490.1,591.4 490.6,603.3 491.1,597.4 491.5,603.3 492.0,560.8 492.5,603.3 493.0,603.3 493.4,603.3 493.9,603.3 494.4,557.7 494.8,598.6 495.3,603.3 495.8,603.3 496.3,603.3 496.7,596.9 497.2,554.2 497.7,601.1 498.1,603.3 498.6,593.1 499.1,577.6 499.5,603.3 500.0,603.3 500.5,603.3 501.0,601.6 501.4,586.0 501.9,603.3 502.4,590.9 502.8,603.3 503.3,594.1 503.8,597.3 504.3,548.4 504.7,603.3 505.2,603.3 505.7,598.9 506.1,574.4 506.6,603.3 507.1,602.1 507.6,589.8 508.0,592.9 508.5,576.6 509.0,603.3 509.4,603.3 509.9,603.3 510.4,603.3 510.9,583.3 511.3,603.3 511.8,599.0 512.3,603.3 512.7,598.7 513.2,569.8 513.7,589.2 514.2,603.3 514.6,603.3 515.1,603.3 515.6,585.6 516.0,603.3 516.5,600.0 517.0,603.3 517.5,603.3 517.9,602.8 518.4,595.7 518.9,558.5 519.3,603.3 519.8,603.3 520.3,589.2 520.8,590.8 521.2,561.9 521.7,603.3 522.2,601.7 522.6,590.2 523.1,596.0 523.6,592.2 524.0,594.9 524.5,603.3 525.0,568.7 525.5,603.3 525.9,603.3 526.4,603.3 526.9,588.5 527.3,595.2 527.8,590.4 528.3,603.3 528.8,592.0 529.2,591.3 529.7,568.7 530.2,603.3 530.6,599.2 531.1,603.3 531.6,603.3 532.1,591.9 532.5,589.0 533.0,556.5 533.5,589.0 533.9,603.3 534.4,588.7 534.9,593.9 535.4,603.3 535.8,593.3 536.3,599.4 536.8,587.6 537.2,597.5 537.7,603.3 538.2,597.8 538.7,603.3 539.1,588.5 539.6,603.3 540.1,603.3 540.5,549.2 541.0,603.3 541.5,596.8 542.0,588.4 542.4,603.3 542.9,603.3 543.4,603.3 543.8,569.1 544.3,601.2 544.8,591.3 545.3,561.9 545.7,602.4 546.2,603.3 546.7,603.3 547.1,603.3 547.6,446.4 548.1,603.3 548.6,598.3 549.0,603.3 549.5,601.0 550.0,596.7 550.4,595.8 550.9,587.9 551.4,603.3 551.8,603.3 552.3,598.2 552.8,603.3 553.3,568.7 553.7,597.3 554.2,603.3 554.7,603.3 555.1,597.4 555.6,594.8 556.1,603.3 556.6,603.3 557.0,602.1 557.5,603.3 558.0,568.7 558.4,603.3 558.9,593.4 559.4,589.6 559.9,603.3 560.3,580.1 560.8,603.3 561.3,603.3 561.7,602.9 562.2,567.9 562.7,603.3 563.2,603.3 563.6,601.6 564.1,603.3 564.6,600.6 565.0,589.2 565.5,603.3 566.0,603.3 566.5,603.3 566.9,592.5 567.4,571.4 567.9,603.3 568.3,603.3 568.8,603.3 569.3,560.6 569.8,595.8 570.2,603.3 570.7,603.3 571.2,598.5 571.6,596.9 572.1,583.8 572.6,603.3 573.1,599.7 573.5,603.3 574.0,568.8 574.5,598.7 574.9,590.1 575.4,603.3 575.9,597.8 576.3,603.3 576.8,587.6 577.3,603.3 577.8,602.6 578.2,603.3 578.7,594.3 579.2,591.0 579.6,598.9 580.1,603.3 580.6,598.8 581.1,603.3 581.5,575.9 582.0,603.3 582.5,589.4 582.9,603.3 583.4,603.3 583.9,586.6 584.4,594.6 584.8,603.3 585.3,603.3 585.8,590.4 586.2,568.7 586.7,603.3 587.2,590.7 587.7,603.3 588.1,589.8 588.6,551.1 589.1,600.6 589.5,603.3 590.0,599.6 590.5,603.3 591.0,568.7 591.4,603.3 591.9,603.3 592.4,590.7 592.8,598.9 593.3,580.8 593.8,603.3 594.3,589.4 594.7,596.6 595.2,601.0 595.7,570.3 596.1,603.3 596.6,603.3 597.1,603.3 597.6,597.4 598.0,587.7 598.5,601.1 599.0,603.3 599.4,603.3 599.9,603.3 600.4,581.8 600.9,603.3 601.3,599.7 601.8,598.2 602.3,603.3 602.7,603.3 603.2,561.9 603.7,603.3 604.1,602.1 604.6,587.2 605.1,570.8 605.6,593.5 606.0,603.3 606.5,597.5 607.0,603.3 607.4,568.7 607.9,603.3 608.4,603.3 608.9,603.3 609.3,603.3 609.8,580.6 610.3,603.3 610.7,603.3 611.2,603.3 611.7,603.3 612.2,603.3 612.6,556.5 613.1,603.3 613.6,603.3 614.0,603.3 614.5,585.1 615.0,601.5 615.5,603.3 615.9,595.6 616.4,588.1 616.9,603.3 617.3,603.3 617.8,560.2 618.3,603.3 618.8,603.3 619.2,568.7 619.7,598.7 620.2,603.3 620.6,603.3 621.1,595.5 621.6,568.7 622.1,603.3 622.5,603.3 623.0,601.3 623.5,603.3 623.9,585.5 624.4,603.3 624.9,603.3 625.4,603.3 625.8,590.2 626.3,591.1 626.8,601.4 627.2,597.3 627.7,590.8 628.2,603.3 628.6,590.3 629.1,593.2 629.6,591.5 630.1,587.6 630.5,593.0 631.0,603.3 631.5,602.8 631.9,567.5 632.4,603.3 632.9,603.3 633.4,578.8 633.8,602.0 634.3,598.9 634.8,603.3 635.2,603.3 635.7,585.6 636.2,603.3 636.7,601.0 637.1,569.2 637.6,598.7 638.1,603.3 638.5,603.3 639.0,603.3 639.5,603.3 640.0,596.7 640.4,582.0 640.9,591.7 641.4,597.5 641.8,590.5 642.3,603.3 642.8,586.2 643.3,603.3 643.7,596.3 644.2,603.3 644.7,596.8 645.1,579.5 645.6,603.3 646.1,603.3 646.6,567.1 647.0,589.9 647.5,603.3 648.0,592.7 648.4,603.3 648.9,603.3 649.4,595.2 649.9,580.1 650.3,591.4 650.8,591.4 651.3,559.2 651.7,603.3 652.2,601.2 652.7,603.3 653.1,600.2 653.6,603.3 654.1,603.3 654.6,580.8 655.0,603.3 655.5,603.3 656.0,603.3 656.4,603.3 656.9,585.4 657.4,603.3 657.9,595.7 658.3,603.3 658.8,560.2 659.3,603.3 659.7,596.7 660.2,603.3 660.7,603.3 661.2,558.5 661.6,600.2 662.1,592.0 662.6,599.4 663.0,603.3 663.5,603.3 664.0,586.5 664.5,590.8 664.9,591.1 665.4,600.3 665.9,603.3 666.3,568.7 666.8,579.2 667.3,596.4 667.8,603.3 668.2,603.3 668.7,586.8 669.2,603.3 669.6,603.3 670.1,593.7 670.6,603.3 671.1,568.7 671.5,584.0 672.0,594.5 672.5,603.3 672.9,560.8 673.4,589.7 673.9,603.3 674.4,603.3 674.8,599.6 675.3,603.3 675.8,586.1 676.2,603.3 676.7,597.6 677.2,594.2 677.7,601.3 678.1,581.3 678.6,598.5 679.1,588.9 679.5,599.8 680.0,603.3 680.5,554.4 680.9,603.3 681.4,595.0 681.9,603.3 682.4,603.3 682.8,583.5 683.3,598.7 683.8,603.3 684.2,603.3 684.7,600.7 685.2,592.7 685.7,603.3 686.1,587.4 686.6,603.3 687.1,594.9 687.5,550.0 688.0,596.0 688.5,603.3 689.0,596.7 689.4,595.4 689.9,581.1 690.4,593.4 690.8,603.3 691.3,590.6 691.8,603.3 692.3,588.5 692.7,601.8 693.2,603.3 693.7,590.9 694.1,601.1 694.6,584.1 695.1,603.3 695.6,595.4 696.0,603.3 696.5,598.3 697.0,587.2 697.4,597.6 697.9,603.3 698.4,602.3 698.9,603.3 699.3,586.8 699.8,603.3 700.3,597.5 700.7,603.3 701.2,603.3 701.7,596.2 702.2,557.1 702.6,603.3 703.1,601.8 703.6,599.4 704.0,582.6 704.5,603.3 705.0,594.4 705.4,600.1 705.9,595.6 706.4,569.5 706.9,599.7 707.3,603.3 707.8,600.2 708.3,589.4 708.7,603.3 709.2,548.3 709.7,603.3 710.2,590.7 710.6,603.3 711.1,578.8 711.6,595.6 712.0,603.3 712.5,603.3 713.0,603.3 713.5,601.5 713.9,567.1 714.4,603.3 714.9,603.3 715.3,600.1 715.8,597.5 716.3,603.3 716.8,558.5 717.2,600.1 717.7,603.3 718.2,587.6 718.6,603.3 719.1,603.3 719.6,596.9 720.1,598.9 720.5,582.4 721.0,599.8 721.5,603.3 721.9,601.5 722.4,603.3 722.9,587.7 723.4,603.3 723.8,603.3 724.3,597.2 724.8,593.4 725.2,572.1 725.7,598.7 726.2,603.3 726.7,588.4 727.1,603.3 727.6,583.9 728.1,603.3 728.5,598.7 729.0,603.3 729.5,597.2 729.9,594.9 730.4,594.4 730.9,557.5 731.4,600.5 731.8,601.1 732.3,584.0 732.8,602.3 733.2,601.9 733.7,603.3 734.2,596.7 734.7,581.1 735.1,598.9 735.6,596.7 736.1,594.6 736.5,603.3 737.0,585.6 737.5,603.3 738.0,595.4 738.4,555.8 738.9,603.3 739.4,603.3 739.8,600.9 740.3,603.3 740.8,601.8 741.3,603.3 741.7,574.4 742.2,603.3 742.7,595.7 743.1,603.3 743.6,602.0 744.1,584.1 744.6,603.3 745.0,603.3 745.5,564.6 746.0,589.7 746.4,603.3 746.9,596.5 747.4,602.6 747.9,601.7 748.3,588.8 748.8,580.6 749.3,603.3 749.7,596.6 750.2,598.8 750.7,603.3 751.2,585.0 751.6,603.3 752.1,603.3 752.6,600.3 753.0,599.4 753.5,580.3 754.0,603.3 754.5,603.3 754.9,599.0 755.4,603.3 755.9,577.8 756.3,583.2 756.8,596.5 757.3,603.3 757.7,592.6 758.2,570.6 758.7,589.1 759.2,603.3 759.6,603.3 760.1,560.2 760.6,589.6 761.0,603.3 761.5,600.7 762.0,601.4 762.5,556.1 762.9,599.0 763.4,603.3 763.9,603.3 764.3,603.3 764.8,603.3 765.3,579.8 765.8,592.4 766.2,599.1 766.7,603.3 767.2,555.8 767.6,603.3 768.1,597.1 768.6,603.3 769.1,598.3 769.5,603.3 770.0,585.1 770.5,591.4 770.9,593.0 771.4,603.3 771.9,603.3 772.4,577.3 772.8,603.3 773.3,603.3 773.8,594.3 774.2,568.3 774.7,600.9 775.2,603.3 775.7,600.4 776.1,603.3 776.6,601.2 777.1,587.1 777.5,593.5 778.0,592.0 778.5,601.2 779.0,603.3 779.4,561.9 779.9,603.3 780.4,601.8 780.8,603.3 781.3,598.1 781.8,585.3 782.2,599.9 782.7,603.3 783.2,603.3 783.7,603.3 784.1,587.8 784.6,588.0 785.1,594.1 785.5,597.9 786.0,601.0 786.5,568.3 787.0,592.3 787.4,597.1 787.9,602.1 788.4,591.4 788.8,568.7 789.3,603.3 789.8,603.3 790.3,603.3 790.7,603.3 791.2,583.3 791.7,602.2 792.1,603.3 792.6,598.9 793.1,603.3 793.6,568.7 794.0,603.3 794.5,599.6 795.0,603.3 795.4,601.7 795.9,576.6 796.4,586.4 796.9,603.3 797.3,595.0 797.8,603.3 798.3,579.6 798.7,603.3 799.2,598.5 799.7,603.3 800.2,603.3 800.6,603.3 801.1,558.5 801.6,596.4 802.0,601.1 802.5,603.3 803.0,570.5 803.5,601.7 803.9,596.2 804.4,603.3 804.9,592.4 805.3,597.2 805.8,561.1 806.3,601.5 806.8,593.1 807.2,600.9 807.7,587.0 808.2,603.3 808.6,596.7 809.1,603.3 809.6,603.3 810.0,587.6 810.5,603.3 811.0,603.3 811.5,589.8 811.9,587.9 812.4,593.2 812.9,603.3 813.3,602.7 813.8,600.0 814.3,595.3 814.8,603.3 815.2,553.8 815.7,603.3 816.2,603.3 816.6,603.3 817.1,589.2 817.6,603.3 818.1,598.8 818.5,603.3 819.0,592.4 819.5,588.4 819.9,596.9 820.4,603.3 820.9,603.3 821.4,603.3 821.8,584.1 822.3,603.3 822.8,603.3 823.2,603.3 823.7,601.2 824.2,579.1 824.7,603.3 825.1,598.0 825.6,587.9 826.1,603.3 826.5,584.6 827.0,589.2 827.5,598.2 828.0,603.3 828.4,592.7 828.9,603.3 829.4,603.3 829.8,545.4 830.3,597.6 830.8,603.3 831.3,581.6 831.7,586.3 832.2,602.4 832.7,603.3 833.1,595.8 833.6,586.7 834.1,597.6 834.5,603.3 835.0,603.3 835.5,603.3 836.0,585.9 836.4,603.3 836.9,588.3 837.4,603.3 837.8,597.4 838.3,581.2 838.8,598.5 839.3,603.3 839.7,588.6 840.2,603.3 840.7,568.7 841.1,603.3 841.6,597.4 842.1,544.2 842.6,603.3 843.0,603.3 843.5,603.3 844.0,603.3 844.4,552.3 844.9,603.3 845.4,596.0 845.9,594.5 846.3,603.3 846.8,603.3 847.3,589.8 847.7,583.4 848.2,597.9 848.7,603.3 849.2,603.3 849.6,603.3 850.1,574.6 850.6,603.3 851.0,599.4 851.5,603.3 852.0,592.2 852.5,586.1 852.9,603.3 853.4,603.3 853.9,594.0 854.3,603.3 854.8,582.6 855.3,603.3 855.8,603.3 856.2,596.7 856.7,603.3 857.2,570.7 857.6,603.3 858.1,601.7 858.6,603.3 859.0,567.1 859.5,603.3 860.0,603.3 860.5,603.3 860.9,596.3 861.4,603.3 861.9,592.9 862.3,603.3 862.8,603.3 863.3,603.3 863.8,603.3 864.2,578.4 864.7,603.3 865.2,601.7 865.6,603.3 866.1,603.3 866.6,581.8 867.1,599.5 867.5,603.3 868.0,603.3 868.5,603.3 868.9,568.7 869.4,594.6 869.9,603.3 870.4,603.3 870.8,565.2 871.3,597.6 871.8,599.2 872.2,597.3 872.7,603.3 873.2,603.3 873.7,570.5 874.1,603.3 874.6,601.2 875.1,603.3 875.5,544.2 876.0,599.6 876.5,603.3 877.0,603.3 877.4,603.3 877.9,603.3 878.4,594.9 878.8,603.3 879.3,603.3 879.8,603.3 880.3,603.3 880.7,568.7 881.2,576.3 881.7,602.7 882.1,599.9 882.6,603.3 883.1,592.4 883.6,603.3 884.0,587.6 884.5,590.2 885.0,596.0 885.4,556.5 885.9,597.7 886.4,603.3 886.8,592.3 887.3,593.2 887.8,570.8 888.3,603.3 888.7,599.0 889.2,603.3 889.7,599.1 890.1,580.0 890.6,602.5 891.1,597.2 891.6,598.1 892.0,592.2 892.5,584.3 893.0,590.1 893.4,603.3 893.9,603.3 894.4,588.5 894.9,577.2 895.3,598.3 895.8,603.3 896.3,596.8 896.7,603.3 897.2,576.9 897.7,603.3 898.2,603.3 898.6,603.3 899.1,601.5 899.6,597.9 900.0,555.2 900.5,603.3 901.0,592.0 901.5,603.3 901.9,586.0 902.4,603.3 902.9,597.0 903.3,603.3 903.8,603.3 904.3,597.5 904.8,564.6 905.2,603.3 905.7,594.3 906.2,593.2 906.6,579.4 907.1,602.8 907.6,600.4 908.1,594.3 908.5,601.8 909.0,568.7 909.5,603.3 909.9,601.5 910.4,590.1 910.9,592.4 911.3,580.9 911.8,603.3 912.3,600.3 912.8,603.3 913.2,603.3 913.7,589.5 914.2,560.8 914.6,601.9 915.1,597.6 915.6,603.3 916.1,568.7 916.5,603.3 917.0,603.3 917.5,589.4 917.9,603.3 918.4,587.9 918.9,601.1 919.4,603.3 919.8,597.3 920.3,601.5 920.8,603.3 921.2,603.3 921.7,560.6 922.2,601.9 922.7,588.9 923.1,581.2 923.6,603.3 924.1,603.3 924.5,601.8 925.0,603.3 925.5,579.6 926.0,603.3 926.4,596.0 926.9,603.3 927.4,598.2 927.8,600.5 928.3,603.3 928.8,563.5 929.3,602.4 929.7,600.1 930.2,568.7 930.7,603.3 931.1,598.3 931.6,603.3 932.1,603.3 932.6,579.4 933.0,595.9 933.5,603.3 934.0,591.0 934.4,595.2 934.9,578.7 935.4,602.2 935.8,603.3 936.3,594.3 936.8,597.1 937.3,584.6 937.7,595.2 938.2,603.3 938.7,598.4 939.1,603.3 939.6,592.0 940.1,597.4 940.6,603.3 941.0,559.8 941.5,600.2 942.0,595.7 942.4,603.3 942.9,603.3 943.4,561.1 943.9,603.3 944.3,592.4 944.8,603.3 945.3,603.3 945.7,603.3 946.2,603.3 946.7,582.8 947.2,603.3 947.6,587.7 948.1,603.3 948.6,603.3 949.0,588.5 949.5,595.3 950.0,603.3 950.5,600.9 950.9,602.7 951.4,584.3 951.9,588.3 952.3,589.9 952.8,599.2 953.3,600.9 953.8,590.5 954.2,598.5 954.7,596.1 955.2,551.1 955.6,598.8 956.1,590.9 956.6,596.4 957.1,589.1 957.5,598.1 958.0,603.3 958.5,573.4 958.9,603.3 959.4,588.8 959.9,603.3 960.4,563.5 960.8,603.3 961.3,596.7 961.8,603.3 962.2,598.0 962.7,603.3 963.2,568.7 963.6,603.3 964.1,603.3 964.6,603.3 965.1,596.7 965.5,568.7 966.0,598.8 966.5,603.3 966.9,592.8 967.4,603.3 967.9,589.0 968.4,598.2 968.8,603.3 969.3,603.3 969.8,545.4 970.2,603.3 970.7,595.5 971.2,603.3 971.7,595.5 972.1,440.1 972.6,603.3 973.1,603.3 973.5,603.3 974.0,602.3 974.5,603.3 975.0,582.6 975.4,595.5 975.9,597.1 976.4,590.7 976.8,601.9 977.3,583.3 977.8,597.4 978.3,603.3 978.7,600.4 979.2,597.9 979.7,584.7 980.1,588.8 980.6,603.3 981.1,603.3 981.6,603.3 982.0,587.1 982.5,597.6 983.0,596.1 983.4,603.3 983.9,603.3 984.4,548.8 984.9,602.2 985.3,594.4 985.8,598.0 986.3,603.3 986.7,588.5 987.2,593.1 987.7,602.3 988.1,603.3 988.6,601.2 989.1,589.5 989.6,595.2 990.0,603.3 990.5,601.5 991.0,600.6 991.4,568.7 991.9,603.3 992.4,599.0 992.9,603.3 993.3,603.3 993.8,584.0 994.3,603.3 994.7,601.4 995.2,603.3 995.7,596.6 996.2,568.7 996.6,603.3 997.1,595.7 997.6,601.2 998.0,603.3 998.5,585.2 999.0,590.2 999.5,601.9 999.9,603.3 1000.4,600.8 1000.9,600.2 1001.3,564.6 1001.8,603.3 1002.3,603.3 1002.8,587.9 1003.2,582.5 1003.7,585.3 1004.2,598.5 1004.6,603.3 1005.1,595.9 1005.6,582.1 1006.1,603.3 1006.5,597.8 1007.0,603.3 1007.5,603.3 1007.9,596.9 1008.4,562.5 1008.9,603.3 1009.4,596.9 1009.8,601.2 1010.3,573.4 1010.8,603.3 1011.2,588.5 1011.7,603.3 1012.2,600.7 1012.6,603.3 1013.1,563.7 1013.6,598.0 1014.1,597.5 1014.5,603.3 1015.0,579.0 1015.5,603.3 1015.9,603.3 1016.4,603.3 1016.9,592.0 1017.4,569.4 1017.8,587.7 1018.3,590.2 1018.8,603.3 1019.2,603.3 1019.7,585.0 1020.2,603.3 1020.7,603.3 1021.1,601.3 1021.6,601.0 1022.1,575.2 1022.5,603.3 1023.0,603.3 1023.5,591.0 1024.0,603.3 1024.4,574.4 1024.9,603.3 1025.4,593.4 1025.8,603.3 1026.3,598.6 1026.8,603.3 1027.3,603.3 1027.7,559.2 1028.2,596.8 1028.7,603.3 1029.1,586.5 1029.6,603.3 1030.1,602.2 1030.6,603.3 1031.0,602.1 1031.5,573.6 1032.0,598.4 1032.4,603.3 1032.9,603.3 1033.4,603.3 1033.9,580.8 1034.3,603.3 1034.8,589.4 1035.3,599.0 1035.7,603.3 1036.2,579.2 1036.7,603.3 1037.2,603.3 1037.6,590.0 1038.1,603.3 1038.6,587.2 1039.0,603.3 1039.5,587.0 1040.0,603.3 1040.4,599.8 1040.9,603.3 1041.4,597.3 1041.9,560.2 1042.3,598.0 1042.8,603.3 1043.3,568.7 1043.7,591.9 1044.2,603.3 1044.7,552.3 1045.2,601.5 1045.6,601.8 1046.1,603.3 1046.6,603.3 1047.0,553.3 1047.5,603.3 1048.0,601.1 1048.5,603.3 1048.9,603.3 1049.4,603.3 1049.9,603.3 1050.3,570.7 1050.8,583.6 1051.3,603.3 1051.8,602.3 1052.2,603.3 1052.7,578.7 1053.2,603.3 1053.6,590.0 1054.1,603.3 1054.6,598.3 1055.1,579.5 1055.5,596.1 1056.0,603.3 1056.5,551.5 1056.9,602.6 1057.4,595.6 1057.9,603.3 1058.4,601.9 1058.8,603.3 1059.3,599.5 1059.8,571.8 1060.2,597.7 1060.7,603.3 1061.2,603.3 1061.7,559.2 1062.1,589.5 1062.6,603.3 1063.1,600.6 1063.5,599.7 1064.0,603.3 1064.5,573.0 1064.9,590.2 1065.4,603.3 1065.9,603.3 1066.4,603.3 1066.8,588.2 1067.3,603.3 1067.8,601.3 1068.2,603.3 1068.7,564.6 1069.2,597.3 1069.7,603.3 1070.1,600.3 1070.6,590.6 1071.1,603.3 1071.5,559.8 1072.0,599.8 1072.5,603.3 1073.0,603.3 1073.4,558.6 1073.9,603.3 1074.4,603.3 1074.8,602.7 1075.3,603.3 1075.8,603.3 1076.3,578.5 1076.7,603.3 1077.2,588.7 1077.7,592.5 1078.1,599.1 1078.6,586.3 1079.1,597.3 1079.6,603.3 1080.0,598.4 1080.5,591.1 1081.0,580.7 1081.4,603.3 1081.9,596.1 1082.4,603.3 1082.9,603.3 1083.3,544.0 1083.8,601.5 1084.3,603.3 1084.7,603.3 1085.2,603.3 1085.7,568.7 1086.2,600.5 1086.6,591.2 1087.1,603.3 1087.6,598.6 1088.0,580.8 1088.5,602.9 1089.0,603.3 1089.5,596.0 1089.9,603.3 1090.4,585.2 1090.9,603.3 1091.3,599.2 1091.8,603.3 1092.3,595.9 1092.7,575.3 1093.2,603.3 1093.7,603.3 1094.2,594.9 1094.6,603.3 1095.1,568.7 1095.6,603.3 1096.0,601.4 1096.5,603.3 1097.0,596.8 1097.5,595.1 1097.9,591.1 1098.4,603.3 1098.9,603.3 1099.3,603.3 1099.8,601.2 1100.3,564.6 1100.8,599.4 1101.2,603.3 1101.7,597.0 1102.2,594.7 1102.6,565.6 1103.1,603.3 1103.6,600.4 1104.1,603.3 1104.5,582.6 1105.0,603.3 1105.5,587.1 1105.9,600.0 1106.4,600.0 1106.9,584.5 1107.4,601.1 1107.8,603.3 1108.3,601.1 1108.8,602.4 1109.2,577.2 1109.7,603.3 1110.2,603.3 1110.7,599.8 1111.1,603.3 1111.6,603.3 1112.1,603.3 1112.5,550.6 1113.0,603.3 1113.5,600.8 1114.0,568.7 1114.4,603.3 1114.9,598.2 1115.4,587.6 1115.8,603.3 1116.3,589.4 1116.8,597.0 1117.2,603.3 1117.7,596.8 1118.2,603.3 1118.7,580.9 1119.1,588.2 1119.6,590.3 1120.1,603.3 1120.5,596.2 1121.0,578.3 1121.5,603.3 1122.0,603.3 1122.4,603.3 1122.9,603.3 1123.4,584.8 1123.8,603.3 1124.3,603.3 1124.8,588.5 1125.3,602.7 1125.7,594.0 1126.2,603.3 1126.7,603.3 1127.1,550.8 1127.6,603.3 1128.1,594.5 1128.6,597.8 1129.0,597.8 1129.5,603.3 1130.0,594.5 1130.4,568.7 1130.9,590.6 1131.4,603.3 1131.9,601.8 1132.3,603.3 1132.8,568.7 1133.3,603.3 1133.7,597.9 1134.2,602.0 1134.7,587.6 1135.2,592.3 1135.6,597.6 1136.1,603.3 1136.6,602.9 1137.0,603.3 1137.5,568.7 1138.0,598.9 1138.5,603.3 1138.9,598.1 1139.4,603.3 1139.9,573.4 1140.3,603.3 1140.8,603.3 1141.3,550.2 1141.7,596.1 1142.2,603.3 1142.7,589.1 1143.2,596.8 1143.6,603.3 1144.1,591.5 1144.6,568.7 1145.0,603.3 1145.5,596.5 1146.0,592.6 1146.5,603.3 1146.9,591.8 1147.4,603.3 1147.9,601.0 1148.3,603.3 1148.8,603.3 1149.3,588.9 1149.8,603.3 1150.2,603.3 1150.7,589.8 1151.2,595.1 1151.6,582.2 1152.1,593.2 1152.6,587.1 1153.1,599.4 1153.5,595.1 1154.0,577.7 1154.5,594.7 1154.9,603.3 1155.4,543.2 1155.9,603.3 1156.4,603.3 1156.8,591.2 1157.3,603.3 1157.8,603.3 1158.2,603.3 1158.7,579.5 1159.2,598.4 1159.7,603.3 1160.1,603.3 1160.6,603.3 1161.1,583.8 1161.5,603.3 1162.0,603.3 1162.5,603.3 1163.0,596.5 1163.4,578.9 1163.9,595.8 1164.4,596.5 1164.8,594.2 1165.3,597.8 1165.8,568.7 1166.3,594.4 1166.7,590.6 1167.2,603.3 1167.7,603.3 1168.1,568.7 1168.6,603.3 1169.1,603.3 1169.5,591.2 1170.0,542.5 1170.5,596.3 1171.0,603.3 1171.4,589.8 1171.9,603.3 1172.4,597.3 1172.8,579.4 1173.3,597.0 1173.8,603.3 1174.3,592.4 1174.7,603.3 1175.2,577.1 1175.7,603.3 1176.1,600.6 1176.6,603.3 1177.1,599.1 1177.6,568.7 1178.0,600.7 1178.5,603.3 1179.0,603.3 1179.4,603.3 1179.9,571.5 1180.4,603.3 1180.9,601.7 1181.3,599.0 1181.8,603.3 1182.3,583.7 1182.7,603.3 1183.2,603.3 1183.7,589.8 1184.2,603.3 1184.6,560.8 1185.1,603.3 1185.6,602.6 1186.0,603.3 1186.5,591.7 1187.0,581.9 1187.5,603.3 1187.9,591.7 1188.4,602.5 1188.9,597.5 1189.3,563.3 1189.8,603.3 1190.3,601.7 1190.8,603.3 1191.2,603.3 1191.7,590.8 1192.2,603.3 1192.6,603.3 1193.1,603.3 1193.6,603.3 1194.0,583.2 1194.5,603.3 1195.0,595.7 1195.5,603.3 1195.9,601.5 1196.4,587.3 1196.9,590.0 1197.3,603.3 1197.8,602.6 1198.3,603.3 1198.8,600.1 1199.2,561.1 1199.7,600.9 1200.2,603.3 1200.6,588.3 1201.1,584.0 1201.6,603.3 1202.1,590.3 1202.5,600.2 1203.0,603.3 1203.5,571.3 1203.9,603.3 1204.4,587.5 1204.9,594.5 1205.4,603.3 1205.8,573.7 1206.3,601.6 1206.8,603.3 1207.2,603.3 1207.7,603.3 1208.2,587.6 1208.7,599.0 1209.1,603.3 1209.6,603.3 1210.1,587.0 1210.5,590.8 1211.0,589.6 1211.5,603.3 1212.0,596.4 1212.4,603.3 1212.9,592.4 1213.4,563.3 1213.8,603.3 1214.3,598.7 1214.8,603.3 1215.3,584.2 1215.7,588.6 1216.2,589.8 1216.7,600.5 1217.1,603.3 1217.6,588.0 1218.1,594.0 1218.5,603.3 1219.0,603.3 1219.5,603.3 1220.0,593.9 1220.4,593.7 1220.9,603.3 1221.4,600.2 1221.8,603.3 1222.3,599.2 1222.8,603.3 1223.3,564.0 1223.7,594.6 1224.2,597.3 1224.7,568.7 1225.1,603.3 1225.6,602.5 1226.1,592.3 1226.6,603.3 1227.0,595.5 1227.5,603.3 1228.0,556.0 1228.4,603.3 1228.9,594.2 1229.4,572.0 1229.9,602.7 1230.3,603.3 1230.8,603.3 1231.3,603.3 1231.7,568.7 1232.2,603.3 1232.7,597.9 1233.2,603.3 1233.6,601.2 1234.1,582.2 1234.6,603.3 1235.0,603.3 1235.5,599.4 1236.0,603.3 1236.5,575.7 1236.9,603.3 1237.4,591.6 1237.9,602.2 1238.3,603.3 1238.8,585.3 1239.3,603.3 1239.8,603.3 1240.2,603.3 1240.7,603.3 1241.2,586.5 1241.6,593.9 1242.1,603.3 1242.6,548.4 1243.1,588.0 1243.5,603.3 1244.0,603.3 1244.5,601.9 1244.9,603.3 1245.4,596.4 1245.9,575.3 1246.3,603.3 1246.8,597.7 1247.3,602.8 1247.8,597.5 1248.2,584.4 1248.7,603.3 1249.2,603.3 1249.6,601.6 1250.1,603.3 1250.6,578.1 1251.1,603.3 1251.5,601.7 1252.0,563.7 1252.5,601.3 1252.9,597.3 1253.4,597.9 1253.9,603.3 1254.4,595.1 1254.8,588.8 1255.3,584.0 1255.8,595.8 1256.2,599.2 1256.7,547.9 1257.2,597.4 1257.7,603.3 1258.1,603.3 1258.6,603.3 1259.1,593.8 1259.5,603.3 1260.0,572.4 1260.5,583.6 1261.0,592.3 1261.4,603.3 1261.9,591.5 1262.4,586.0 1262.8,596.6 1263.3,603.3 1263.8,602.0 1264.3,602.1 1264.7,580.3 1265.2,603.3 1265.7,603.3 1266.1,591.7 1266.6,599.0 1267.1,581.4 1267.6,600.1 1268.0,603.3 1268.5,603.3 1269.0,603.3 1269.4,589.9 1269.9,593.9 1270.4,592.3 1270.8,603.3 1271.3,551.5 1271.8,603.3 1272.3,603.3 1272.7,603.3 1273.2,597.2 1273.7,603.3 1274.1,587.4 1274.6,598.9 1275.1,602.5 1275.6,600.4 1276.0,553.4 1276.5,603.3 1277.0,594.7 1277.4,599.4 1277.9,603.3 1278.4,592.4 1278.9,581.2 1279.3,603.3 1279.8,597.7 1280.3,592.6 1280.7,600.2 1281.2,575.4 1281.7,594.8 1282.2,603.3 1282.6,603.3 1283.1,599.1 1283.6,588.6 1284.0,603.3 1284.5,601.9 1285.0,591.6 1285.5,603.3 1285.9,551.1 1286.4,592.2 1286.9,603.3 1287.3,603.3 1287.8,590.6 1288.3,564.6 1288.8,598.2 1289.2,603.3 1289.7,603.3 1290.2,597.0 1290.6,588.8 1291.1,603.3 1291.6,590.4 1292.1,603.3 1292.5,601.8 1293.0,585.3 1293.5,603.3 1293.9,603.3 1294.4,594.7 1294.9,598.9 1295.3,581.7 1295.8,597.8 1296.3,603.3 1296.8,595.2 1297.2,596.7 1297.7,551.1 1298.2,603.3 1298.6,603.3 1299.1,600.1 1299.6,602.3 1300.1,570.6 1300.5,603.3 1301.0,603.3 1301.5,600.6 1301.9,603.3 1302.4,583.1 1302.9,603.3 1303.4,591.6 1303.8,598.8 1304.3,603.3 1304.8,585.4 1305.2,602.6 1305.7,596.8 1306.2,603.3 1306.7,603.3 1307.1,591.5 1307.6,553.4 1308.1,588.1 1308.5,603.3 1309.0,598.8 1309.5,584.9 1310.0,603.3 1310.4,599.6 1310.9,597.9 1311.4,588.5 1311.8,603.3 1312.3,555.2 1312.8,601.7 1313.3,588.9 1313.7,601.0 1314.2,575.4 1314.7,587.1 1315.1,603.3 1315.6,590.8 1316.1,603.3 1316.6,590.4 1317.0,597.3 1317.5,603.3 1318.0,589.9 1318.4,588.5 1318.9,592.7 1319.4,590.8 1319.9,603.3 1320.3,603.3 1320.8,603.3 1321.3,576.0 1321.7,603.3 1322.2,596.6 1322.7,603.3 1323.1,591.3 1323.6,575.3 1324.1,598.2 1324.6,603.3 1325.0,588.1 1325.5,603.3 1326.0,592.5 1326.4,603.3 1326.9,596.0 1327.4,599.7 1327.9,603.3 1328.3,592.9 1328.8,597.3 1329.3,601.5 1329.7,600.4 1330.2,603.3 1330.7,603.3 1331.2,603.3 1331.6,517.3 1332.1,603.3 1332.6,603.3 1333.0,581.8 1333.5,591.1 1334.0,603.3 1334.5,596.4 1334.9,603.3 1335.4,584.7 1335.9,603.3 1336.3,597.1 1336.8,547.1 1337.3,603.3 1337.8,603.3 1338.2,603.3 1338.7,603.3 1339.2,600.2 1339.6,602.7 1340.1,580.0 1340.6,603.3 1341.1,603.3 1341.5,564.4 1342.0,601.5 1342.5,595.0 1342.9,596.8 1343.4,603.3 1343.9,597.1 1344.4,603.3 1344.8,585.9 1345.3,588.6 1345.8,592.7 1346.2,603.3 1346.7,567.9 1347.2,596.1 1347.6,597.3 1348.1,590.7 1348.6,593.1 1349.1,603.3 1349.5,581.8 1350.0,603.3 1350.5,600.2 1350.9,603.3 1351.4,598.2 1351.9,576.7 1352.4,600.9 1352.8,603.3 1353.3,600.8 1353.8,589.8 1354.2,590.9 1354.7,603.3 1355.2,598.9 1355.7,565.2 1356.1,599.3 1356.6,603.3 1357.1,603.3 1357.5,603.3 1358.0,603.3 1358.5,603.3 1359.0,585.3 1359.4,597.4 1359.9,603.3 1360.4,598.6 1360.8,596.6 1361.3,576.3 1361.8,603.3 1362.3,603.3 1362.7,592.0 1363.2,603.3 1363.7,571.4 1364.1,600.0 1364.6,603.3 1365.1,603.3 1365.6,600.9 1366.0,578.7 1366.5,582.8 1367.0,603.3 1367.4,599.6 1367.9,603.3 1368.4,571.1 1368.9,603.3 1369.3,601.9 1369.8,603.3 1370.3,551.9 1370.7,603.3 1371.2,595.8 1371.7,603.3 1372.2,600.3 1372.6,603.3 1373.1,589.4 1373.6,603.3 1374.0,588.0 1374.5,598.2 1375.0,603.3 1375.4,590.1 1375.9,602.2 1376.4,601.3 1376.9,603.3 1377.3,595.5 1377.8,568.7 1378.3,603.3 1378.7,603.3 1379.2,603.3 1379.7,603.3 1380.2,587.1 1380.6,603.3 1381.1,588.5 1381.6,602.1 1382.0,603.3 1382.5,573.5 1383.0,603.3 1383.5,603.3 1383.9,603.3 1384.4,590.1 1384.9,555.8 1385.3,590.1 1385.8,603.3 1386.3,600.2 1386.8,603.3 1387.2,568.7 1387.7,603.3 1388.2,603.3 1388.6,603.3 1389.1,598.4 1389.6,535.4 1390.1,603.3 1390.5,603.3 1391.0,592.1 1391.5,603.3 1391.9,581.2 1392.4,588.7 1392.9,597.6 1393.4,603.3 1393.8,597.7 1394.3,577.9 1394.8,592.9 1395.2,603.3 1395.7,601.5 1396.2,603.3 1396.7,596.7 1397.1,544.4 1397.6,595.6 1398.1,603.3 1398.5,603.3 1399.0,589.9 1399.5,477.6 1399.9,597.5 1400.4,598.2 1400.9,603.3 1401.4,586.7 1401.8,603.3 1402.3,600.0 1402.8,603.3 1403.2,593.4 1403.7,584.3 1404.2,603.3 1404.7,601.9 1405.1,602.9 1405.6,603.3 1406.1,584.4 1406.5,592.9 1407.0,602.8 1407.5,603.3 1408.0,597.4 1408.4,582.8 1408.9,591.9 1409.4,603.3 1409.8,603.3 1410.3,603.3 1410.8,579.9 1411.3,603.3 1411.7,603.3 1412.2,603.3 1412.7,603.3 1413.1,596.0 1413.6,566.2 1414.1,591.9 1414.6,589.0 1415.0,603.3 1415.5,568.7 1416.0,603.3 1416.4,601.4 1416.9,603.3 1417.4,590.6 1417.9,597.0 1418.3,568.3 1418.8,603.3 1419.3,589.1 1419.7,600.2 1420.2,586.0 1420.7,603.3 1421.2,598.1 1421.6,603.3 1422.1,588.1 1422.6,581.3 1423.0,603.3 1423.5,603.3 1424.0,600.2 1424.4,603.3 1424.9,591.9 1425.4,603.3 1425.9,603.3 1426.3,603.3 1426.8,600.9 1427.3,598.9 1427.7,594.2 1428.2,569.2 1428.7,603.3 1429.2,603.3 1429.6,579.4 1430.1,603.3 1430.6,598.1 1431.0,587.0 1431.5,603.3 1432.0,568.7 1432.5,590.8 1432.9,602.8 1433.4,601.7 1433.9,603.3 1434.3,603.3 1434.8,594.5 1435.3,567.1 1435.8,597.8 1436.2,603.3 1436.7,580.1 1437.2,597.2 1437.6,593.1 1438.1,602.9 1438.6,599.0 1439.1,589.0 1439.5,603.3 1440.0,587.7 1440.5,593.3 1440.9,603.3 1441.4,575.7 1441.9,602.9 1442.4,590.3 1442.8,570.0 1443.3,603.3 1443.8,600.7 1444.2,603.3 1444.7,603.3 1445.2,603.3 1445.7,603.3 1446.1,580.2 1446.6,600.9 1447.1,603.3 1447.5,598.4 1448.0,603.3 1448.5,579.1 1449.0,587.9 1449.4,601.4 1449.9,603.3 1450.4,599.7 1450.8,568.7 1451.3,603.3 1451.8,603.3 1452.2,603.3 1452.7,603.3 1453.2,585.6 1453.7,594.0 1454.1,603.3 1454.6,529.0 1455.1,603.3 1455.5,595.5 1456.0,598.3 1456.5,591.8 1457.0,601.6 1457.4,603.3 1457.9,579.9 1458.4,602.0 1458.8,603.3 1459.3,603.3 1459.8,599.0 1460.3,576.3 1460.7,593.8 1461.2,603.3 1461.7,602.1 1462.1,600.6 1462.6,585.6 1463.1,603.3 1463.6,590.5 1464.0,602.1 1464.5,603.3 1465.0,588.1 1465.4,603.3 1465.9,603.3 1466.4,603.3 1466.9,603.3 1467.3,575.0 1467.8,603.3 1468.3,596.6 1468.7,603.3 1469.2,545.4 1469.7,595.6 1470.2,600.4 1470.6,603.3 1471.1,603.3 1471.6,603.3 1472.0,571.3 1472.5,594.7 1473.0,597.0 1473.5,603.3 1473.9,603.3 1474.4,577.2 1474.9,600.9 1475.3,603.3 1475.8,602.1 1476.3,603.3 1476.7,578.0 1477.2,597.5 1477.7,603.3 1478.2,603.3 1478.6,603.3 1479.1,584.3 1479.6,603.3 1480.0,603.3 1480.5,602.1 1481.0,602.4 1481.5,572.5 1481.9,603.3 1482.4,599.0 1482.9,603.3 1483.3,598.3 1483.8,560.8 1484.3,594.7 1484.8,603.3 1485.2,593.5 1485.7,603.3 1486.2,567.1 1486.6,603.3 1487.1,598.5 1487.6,594.1 1488.1,589.5 1488.5,585.0 1489.0,598.4 1489.5,603.3 1489.9,603.3 1490.4,603.3 1490.9,577.6 1491.4,603.3 1491.8,587.8 1492.3,603.3 1492.8,597.5 1493.2,572.7 1493.7,594.2 1494.2,603.3 1494.7,590.0 1495.1,603.3 1495.6,590.4 1496.1,603.3 1496.5,603.3 1497.0,603.3 1497.5,603.3 1498.0,560.2 1498.4,597.0 1498.9,603.3 1499.4,598.4 1499.8,603.3 1500.3,589.4 1500.8,567.5 1501.2,595.9 1501.7,592.1 1502.2,596.8 1502.7,603.3 1503.1,601.2 1503.6,567.1 1504.1,601.2 1504.5,594.2 1505.0,574.5 1505.5,603.3 1506.0,601.4 1506.4,603.3 1506.9,600.8 1507.4,582.5 1507.8,589.0 1508.3,603.3 1508.8,603.3 1509.3,603.3 1509.7,596.4 1510.2,562.9 1510.7,596.2 1511.1,603.3 1511.6,600.7 1512.1,588.6 1512.6,599.7 1513.0,563.3 1513.5,603.3 1514.0,603.3 1514.4,591.8 1514.9,594.5 1515.4,597.9 1515.9,603.3 1516.3,603.3 1516.8,590.2 1517.3,603.3 1517.7,603.3 1518.2,587.4 1518.7,600.3 1519.2,573.4 1519.6,603.3 1520.1,600.6 1520.6,589.4 1521.0,602.7 1521.5,587.8 1522.0,590.4 1522.5,603.3 1522.9,603.3 1523.4,603.3 1523.9,603.3 1524.3,603.3 1524.8,557.1 1525.3,603.3 1525.8,603.3 1526.2,588.4 1526.7,590.8 1527.2,599.5 1527.6,590.6 1528.1,603.3 1528.6,602.4 1529.0,603.3 1529.5,558.5 1530.0,603.3 1530.5,592.9 1530.9,570.3 1531.4,590.8 1531.9,603.3 1532.3,603.3 1532.8,587.4 1533.3,568.9 1533.8,572.6 1534.2,594.1 1534.7,598.8 1535.2,597.4 1535.6,585.9 1536.1,596.7 1536.6,603.3 1537.1,597.6 1537.5,603.3 1538.0,568.7 1538.5,603.3 1538.9,600.9 1539.4,548.8 1539.9,600.6 1540.4,602.6 1540.8,603.3 1541.3,603.3 1541.8,602.0 1542.2,603.3 1542.7,582.9 1543.2,596.6 1543.7,597.9 1544.1,603.3 1544.6,587.5 1545.1,568.7 1545.5,588.4 1546.0,603.3 1546.5,600.7 1547.0,603.3 1547.4,581.7 1547.9,603.3 1548.4,603.3 1548.8,603.3 1549.3,601.4 1549.8,568.9 1550.3,602.5 1550.7,603.3 1551.2,598.4 1551.7,603.3 1552.1,585.5 1552.6,603.3 1553.1,596.6 1553.5,603.3 1554.0,553.4 1554.5,603.3 1555.0,594.5 1555.4,603.3 1555.9,594.2 1556.4,590.9 1556.8,581.2 1557.3,603.3 1557.8,603.3 1558.3,597.7 1558.7,504.2 1559.2,601.4 1559.7,597.0 1560.1,601.8 1560.6,587.3 1561.1,591.8 1561.6,579.4 1562.0,594.8 1562.5,593.8 1563.0,603.3 1563.4,603.3 1563.9,584.9 1564.4,603.3 1564.9,588.8 1565.3,603.3 1565.8,598.5 1566.3,591.4 1566.7,589.5 1567.2,603.3 1567.7,593.1 1568.2,551.1 1568.6,603.3 1569.1,600.9 1569.6,603.3 1570.0,600.2 1570.5,603.3 1571.0,577.8 1571.5,591.6 1571.9,602.3 1572.4,603.3 1572.9,599.5 1573.3,578.4 1573.8,597.5 1574.3,603.3 1574.8,590.4 1575.2,603.3 1575.7,568.7 1576.2,603.3 1576.6,603.3 1577.1,600.6 1577.6,588.1 1578.0,591.5 1578.5,603.3 1579.0,602.4 1579.5,598.2 1579.9,603.3 1580.4,572.3 1580.9,603.3 1581.3,600.4 1581.8,603.3 1582.3,603.3 1582.8,554.2 1583.2,603.3 1583.7,597.4 1584.2,598.6 1584.6,603.3 1585.1,573.9 1585.6,603.3 1586.1,600.5 1586.5,603.3 1587.0,603.3 1587.5,590.2 1587.9,560.2 1588.4,598.6 1588.9,602.1 1589.4,603.3 1589.8,570.1 1590.3,603.3 1590.8,600.4 1591.2,592.6 1591.7,593.5 1592.2,578.7 1592.7,602.3 1593.1,603.3 1593.6,595.5 1594.1,600.5 1594.5,563.5 1595.0,603.3 1595.5,589.6 1596.0,597.6 1596.4,592.1 1596.9,597.0 1597.4,566.0 1597.8,592.2 1598.3,592.9 1598.8,601.7 1599.3,580.8 1599.7,593.9 1600.2,603.3 1600.7,603.3 1601.1,598.2 1601.6,594.1 1602.1,603.3 1602.6,603.3 1603.0,601.7 1603.5,603.3 1604.0,584.3 1604.4,593.8 1604.9,603.3 1605.4,603.3 1605.8,597.9 1606.3,588.5 1606.8,603.3 1607.3,603.3 1607.7,603.3 1608.2,603.3 1608.7,592.3 1609.1,603.3 1609.6,541.7 1610.1,603.3 1610.6,603.3 1611.0,568.7 1611.5,600.0 1612.0,603.3 1612.4,591.6 1612.9,594.5 1613.4,568.7 1613.9,603.3 1614.3,596.0 1614.8,603.3 1615.3,591.4 1615.7,603.3 1616.2,591.8 1616.7,532.5 1617.2,603.3 1617.6,603.3 1618.1,579.3 1618.6,603.3 1619.0,597.4 1619.5,603.3 1620.0,589.9 1620.5,580.8 1620.9,602.4 1621.4,596.8 1621.9,595.1 1622.3,603.3 1622.8,597.3 1623.3,599.0 1623.8,495.1 1624.2,603.3 1624.7,592.0 1625.2,589.0 1625.6,602.3 1626.1,603.3 1626.6,603.3 1627.1,603.3 1627.5,594.8 1628.0,603.3 1628.5,557.5 1628.9,601.0 1629.4,602.0 1629.9,583.9 1630.3,596.2 1630.8,603.3 1631.3,598.3 1631.8,601.5 1632.2,572.9 1632.7,577.1 1633.2,603.3 1633.6,603.3 1634.1,603.3 1634.6,570.5 1635.1,600.7 1635.5,588.3 1636.0,603.3 1636.5,601.9 1636.9,598.4 1637.4,603.3 1637.9,547.7 1638.4,603.3 1638.8,589.3 1639.3,593.5 1639.8,600.2 1640.2,603.3 1640.7,596.3 1641.2,548.1 1641.7,592.3 1642.1,603.3 1642.6,603.3 1643.1,603.3 1643.5,601.0 1644.0,571.3 1644.5,594.1 1645.0,603.3 1645.4,603.3 1645.9,603.3 1646.4,595.1 1646.8,598.7 1647.3,596.7 1647.8,603.3 1648.3,603.3 1648.7,568.7 1649.2,587.5 1649.7,603.3 1650.1,593.7 1650.6,537.5 1651.1,597.9 1651.6,598.6 1652.0,597.1 1652.5,603.3 1653.0,551.1 1653.4,603.3 1653.9,602.0 1654.4,598.9 1654.9,590.5 1655.3,599.1 1655.8,568.7 1656.3,603.3 1656.7,588.1 1657.2,602.6 1657.7,563.3 1658.1,600.7 1658.6,596.5 1659.1,603.3 1659.6,603.3 1660.0,595.5 1660.5,593.7 1661.0,599.1 1661.4,591.5 1661.9,603.3 1662.4,603.3 1662.9,587.0 1663.3,600.2 1663.8,603.3 1664.3,600.7 1664.7,603.3 1665.2,556.5 1665.7,593.0 1666.2,592.7 1666.6,603.3 1667.1,589.9 1667.6,554.4 1668.0,603.3 1668.5,597.3 1669.0,600.6 1669.5,603.3 1669.9,576.5 1670.4,603.3 1670.9,602.7 1671.3,603.3 1671.8,601.2 1672.3,576.2 1672.8,594.5 1673.2,603.3 1673.7,603.3 1674.2,603.3 1674.6,580.0 1675.1,603.3 1675.6,599.3 1676.1,598.9 1676.5,603.3 1677.0,571.2 1677.5,603.3 1677.9,590.8 1678.4,599.7 1678.9,520.3 1679.4,603.3 1679.8,603.3 1680.3,600.0 1680.8,603.3 1681.2,591.1 1681.7,574.5 1682.2,603.3 1682.6,603.3 1683.1,603.3 1683.6,598.1 1684.1,603.3 1684.5,553.4 1685.0,594.3 1685.5,603.3 1685.9,598.5 1686.4,576.5 1686.9,602.2 1687.4,603.3 1687.8,596.8 1688.3,598.9 1688.8,583.9 1689.2,603.3 1689.7,594.9 1690.2,603.3 1690.7,603.3 1691.1,578.7 1691.6,599.6 1692.1,603.3 1692.5,599.5 1693.0,603.3 1693.5,530.9 1694.0,603.3 1694.4,598.5 1694.9,603.3 1695.4,590.6 1695.8,577.6 1696.3,596.1 1696.8,598.8 1697.3,600.0 1697.7,603.3 1698.2,581.2 1698.7,603.3 1699.1,602.4 1699.6,603.3 1700.1,603.3 1700.6,589.5 1701.0,596.9 1701.5,603.3 1702.0,603.3 1702.4,597.1 1702.9,585.8 1703.4,603.3 1703.9,591.4 1704.3,603.3 1704.8,595.6 1705.3,586.3 1705.7,599.5 1706.2,603.3 1706.7,600.1 1707.1,600.1 1707.6,603.3 1708.1,603.3 1708.6,536.1 1709.0,603.3 1709.5,588.6 1710.0,578.7 1710.4,599.8 1710.9,588.7 1711.4,598.4 1711.9,603.3 1712.3,581.4 1712.8,603.3 1713.3,601.4 1713.7,603.3 1714.2,603.3 1714.7,584.1 1715.2,593.3 1715.6,592.9 1716.1,603.3 1716.6,593.5 1717.0,586.5 1717.5,603.3 1718.0,596.7 1718.5,603.3 1718.9,599.3 1719.4,579.5 1719.9,603.3 1720.3,596.6 1720.8,603.3 1721.3,603.3 1721.8,590.5 1722.2,596.1 1722.7,603.3 1723.2,551.9 1723.6,589.9 1724.1,598.2 1724.6,603.3 1725.1,603.3 1725.5,598.0 1726.0,601.1 1726.5,584.4 1726.9,603.3 1727.4,590.7 1727.9,603.3 1728.4,599.3 1728.8,586.7 1729.3,599.5 1729.8,603.3 1730.2,593.4 1730.7,600.5 1731.2,582.9 1731.7,603.3 1732.1,602.2 1732.6,596.6 1733.1,603.3 1733.5,587.5 1734.0,592.9 1734.5,603.3 1734.9,600.2 1735.4,603.3 1735.9,581.9 1736.4,603.3 1736.8,603.3 1737.3,533.0 1737.8,602.5 1738.2,603.3 1738.7,589.8 1739.2,602.3 1739.7,603.3 1740.1,603.3 1740.6,574.2 1741.1,589.4 1741.5,598.8 1742.0,603.3 1742.5,603.3 1743.0,584.8 1743.4,590.2 1743.9,603.3 1744.4,603.3 1744.8,603.3 1745.3,587.8 1745.8,591.4 1746.3,587.4 1746.7,603.3 1747.2,600.3 1747.7,572.8 1748.1,600.3 1748.6,601.8 1749.1,603.3 1749.6,567.9 1750.0,603.3 1750.5,599.8 1751.0,600.3 1751.4,567.9 1751.9,593.7 1752.4,603.3 1752.9,593.4 1753.3,603.3 1753.8,597.0 1754.3,598.0 1754.7,588.9 1755.2,603.3 1755.7,599.8 1756.2,598.0 1756.6,601.0 1757.1,574.3 1757.6,603.3 1758.0,588.5 1758.5,603.3 1759.0,603.3 1759.4,586.1 1759.9,603.3 1760.4,592.0 1760.9,603.3 1761.3,601.4 1761.8,589.9 1762.3,600.5 1762.7,596.5 1763.2,591.1 1763.7,603.3 1764.2,559.6 1764.6,597.3 1765.1,590.5 1765.6,603.3 1766.0,601.8 1766.5,591.0 1767.0,592.0 1767.5,599.6 1767.9,588.3 1768.4,603.3 1768.9,586.3 1769.3,603.3 1769.8,593.4 1770.3,603.3 1770.8,569.6 1771.2,603.3 1771.7,603.3 1772.2,603.3 1772.6,590.6 1773.1,603.3 1773.6,585.8 1774.1,593.4 1774.5,589.4 1775.0,603.3 1775.5,597.8 1775.9,585.2 1776.4,603.3 1776.9,603.3 1777.4,599.5 1777.8,597.7 1778.3,560.6 1778.8,603.3 1779.2,603.3 1779.7,593.1 1780.2,593.2 1780.7,583.1 1781.1,598.6 1781.6,603.3 1782.1,597.1 1782.5,603.3 1783.0,588.1 1783.5,553.4 1783.9,603.3 1784.4,603.3 1784.9,603.3 1785.4,573.5 1785.8,600.1 1786.3,603.3 1786.8,601.2 1787.2,603.3 1787.7,575.1 1788.2,603.3 1788.7,590.3 1789.1,603.3 1789.6,595.0 1790.1,601.4 1790.5,565.2 1791.0,603.3 1791.5,603.3 1792.0,603.3 1792.4,603.3 1792.9,557.5 1793.4,601.7 1793.8,603.3" fill="none" stroke="#c000c4" stroke-width="1"/></svg>
<div class="t" style="left:-305.00px;width:400px;text-align:right;top:600.45px;font-size:14px;line-height:14px;color:#929292;">0</div>
<div class="t" style="left:-305.00px;width:400px;text-align:right;top:562.00px;font-size:14px;line-height:14px;color:#929292;">2</div>
<div class="t" style="left:-305.00px;width:400px;text-align:right;top:523.55px;font-size:14px;line-height:14px;color:#929292;">4</div>
<div class="t" style="left:-305.00px;width:400px;text-align:right;top:485.10px;font-size:14px;line-height:14px;color:#929292;">6</div>
<div class="t" style="left:-305.00px;width:400px;text-align:right;top:446.65px;font-size:14px;line-height:14px;color:#929292;">8</div>
<div class="t" style="left:-13.33px;width:400px;text-align:center;top:611.15px;font-size:14px;line-height:14px;color:#929292;">08:50</div>
<div class="t" style="left:128.02px;width:400px;text-align:center;top:611.15px;font-size:14px;line-height:14px;color:#929292;">08:55</div>
<div class="t" style="left:269.37px;width:400px;text-align:center;top:611.15px;font-size:14px;line-height:14px;color:#929292;">09:00</div>
<div class="t" style="left:410.72px;width:400px;text-align:center;top:611.15px;font-size:14px;line-height:14px;color:#929292;">09:05</div>
<div class="t" style="left:552.07px;width:400px;text-align:center;top:611.15px;font-size:14px;line-height:14px;color:#929292;">09:10</div>
<div class="t" style="left:693.42px;width:400px;text-align:center;top:611.15px;font-size:14px;line-height:14px;color:#929292;">09:15</div>
<div class="t" style="left:834.77px;width:400px;text-align:center;top:611.15px;font-size:14px;line-height:14px;color:#929292;">09:20</div>
<div class="t" style="left:976.12px;width:400px;text-align:center;top:611.15px;font-size:14px;line-height:14px;color:#929292;">09:25</div>
<div class="t" style="left:1117.47px;width:400px;text-align:center;top:611.15px;font-size:14px;line-height:14px;color:#929292;">09:30</div>
<div class="t" style="left:1258.82px;width:400px;text-align:center;top:611.15px;font-size:14px;line-height:14px;color:#929292;">09:35</div>
<div class="t" style="left:1400.17px;width:400px;text-align:center;top:611.15px;font-size:14px;line-height:14px;color:#929292;">09:40</div>
<div class="t" style="left:1541.52px;width:400px;text-align:center;top:611.15px;font-size:14px;line-height:14px;color:#929292;">09:45</div>
<div class="t" style="left:-59.5px;top:529px;width:200px;text-align:center;font-size:16px;line-height:16px;letter-spacing:0.15px;color:#b6b6b6;transform:rotate(-90deg);">Mebibytes/s</div>
<div class="t" style="left:96.50px;top:640.96px;font-size:16px;line-height:16px;font-weight:bold;color:#e6e6e6;letter-spacing:-0.9px;">Start:</div>
<div class="t" style="left:141.70px;top:640.96px;font-size:16px;line-height:16px;color:#e6e6e6;letter-spacing:0.12px;">2026-01-13 08:46:55</div>
<div class="t" style="left:951.50px;top:640.96px;font-size:16px;line-height:16px;font-weight:bold;color:#e6e6e6;letter-spacing:-1.4px;">End:</div>
<div class="t" style="left:989.50px;top:640.96px;font-size:16px;line-height:16px;color:#e6e6e6;letter-spacing:0.12px;">2026-01-13 09:46:55</div>
<div class="hr" style="left:1842px;width:419px;top:458px;background:#363636"></div>
<div style="position:absolute;left:1842px;width:419px;top:459px;height:32px;background:#242424"></div>
<div class="t" style="left:1842.00px;top:438.15px;font-size:14px;line-height:14px;font-weight:bold;color:#e6e6e6;letter-spacing:-0.5px;">Key</div>
<div class="t" style="left:2009.00px;top:438.15px;font-size:14px;line-height:14px;font-weight:bold;color:#e6e6e6;">Max</div>
<div class="t" style="left:2111.50px;top:438.15px;font-size:14px;line-height:14px;font-weight:bold;color:#e6e6e6;">Mean</div>
<div class="t" style="left:2208.30px;top:438.15px;font-size:14px;line-height:14px;font-weight:bold;color:#e6e6e6;">Min</div>
<div style="position:absolute;left:1846px;top:467px;width:12px;height:12px;border-radius:50%;background:#0095d5"></div>
<div class="t" style="left:1865.00px;top:467.15px;font-size:14px;line-height:14px;font-weight:bold;color:#e6e6e6;letter-spacing:-0.3px;">Reads</div>
<div class="t" style="left:2009.00px;top:467.15px;font-size:14px;line-height:14px;color:#c4c4c4;">605 KiB/s</div>
<div class="t" style="left:2111.50px;top:467.15px;font-size:14px;line-height:14px;color:#c4c4c4;">15.4 KiB/s</div>
<div class="t" style="left:2208.30px;top:467.15px;font-size:14px;line-height:14px;color:#c4c4c4;">0 B/s</div>
<div style="position:absolute;left:1846px;top:499px;width:12px;height:12px;border-radius:50%;background:#c000c4"></div>
<div class="t" style="left:1865.00px;top:499.15px;font-size:14px;line-height:14px;font-weight:bold;color:#e6e6e6;letter-spacing:-0.3px;">Writes</div>
<div class="t" style="left:2009.00px;top:499.15px;font-size:14px;line-height:14px;color:#c4c4c4;">8.29 MiB/s</div>
<div class="t" style="left:2111.50px;top:499.15px;font-size:14px;line-height:14px;color:#c4c4c4;">498 KiB/s</div>
<div class="t" style="left:2208.30px;top:499.15px;font-size:14px;line-height:14px;color:#c4c4c4;">0 B/s</div>
<div class="card" style="top:687px;height:335px"></div>
<div class="hr" style="left:0;width:2261px;top:740px"></div>
<div class="t" style="left:25.90px;top:705.07px;font-size:20px;line-height:20px;font-weight:bold;color:#e2e2e2;letter-spacing:-0.36px;">Disk I/O sdd</div>
<div class="btn" style="left:1907px;top:696px;width:64px;background:#535353"></div>
<div class="btn" style="left:1971px;top:696px;width:64px;background:#3d3d3d"></div>
<div class="btn" style="left:2043px;top:696px;width:64px;background:#535353"></div>
<div class="btn" style="left:2107px;top:696px;width:128px;background:#3d3d3d"></div>
<svg style="left:0;top:696px" width="2266" height="36" viewBox="0 696 2266 36"><path d="M1929.1 713L1938.7 707V719Z M1938.8 713L1948 707V719Z" fill="#e6e6e6"/><path d="M1994.6 707V719L2004 713Z M2004 707V719L2013.2 713Z" fill="#5e5e5e"/><line x1="2076" y1="715" x2="2083.3" y2="722.3" stroke="#e6e6e6" stroke-width="3.6" stroke-linecap="round"/><circle cx="2072" cy="710" r="7.6" fill="#e6e6e6"/><rect x="2068.2" y="709.1" width="7.9" height="1.9" fill="#535353"/><line x1="2204" y1="715" x2="2211.3" y2="722.3" stroke="#646464" stroke-width="3.6" stroke-linecap="round"/><circle cx="2200" cy="710" r="7.6" fill="#646464"/><rect x="2196.1" y="709.1" width="7.9" height="1.9" fill="#3d3d3d"/><rect x="2199.05" y="706.1" width="1.9" height="7.9" fill="#3d3d3d"/></svg>
<div class="t" style="left:1939.00px;width:400px;text-align:center;top:707.30px;font-size:15px;line-height:15px;font-weight:bold;color:#5e5e5e;letter-spacing:-0.6px;">1 hour</div>
<svg style="left:0;top:0" width="2266" height="1019" viewBox="0 0 2266 1019"><line x1="99" y1="862.5" x2="1795" y2="862.5" stroke="rgba(255,255,255,0.08)" stroke-width="1"/><line x1="99" y1="780.5" x2="1795" y2="780.5" stroke="rgba(255,255,255,0.08)" stroke-width="1"/><line x1="187.5" y1="765" x2="187.5" y2="945.0" stroke="rgba(255,255,255,0.08)" stroke-width="1"/><line x1="328.5" y1="765" x2="328.5" y2="945.0" stroke="rgba(255,255,255,0.08)" stroke-width="1"/><line x1="469.5" y1="765" x2="469.5" y2="945.0" stroke="rgba(255,255,255,0.08)" stroke-width="1"/><line x1="611.5" y1="765" x2="611.5" y2="945.0" stroke="rgba(255,255,255,0.08)" stroke-width="1"/><line x1="752.5" y1="765" x2="752.5" y2="945.0" stroke="rgba(255,255,255,0.08)" stroke-width="1"/><line x1="893.5" y1="765" x2="893.5" y2="945.0" stroke="rgba(255,255,255,0.08)" stroke-width="1"/><line x1="1035.5" y1="765" x2="1035.5" y2="945.0" stroke="rgba(255,255,255,0.08)" stroke-width="1"/><line x1="1176.5" y1="765" x2="1176.5" y2="945.0" stroke="rgba(255,255,255,0.08)" stroke-width="1"/><line x1="1317.5" y1="765" x2="1317.5" y2="945.0" stroke="rgba(255,255,255,0.08)" stroke-width="1"/><line x1="1459.5" y1="765" x2="1459.5" y2="945.0" stroke="rgba(255,255,255,0.08)" stroke-width="1"/><line x1="1600.5" y1="765" x2="1600.5" y2="945.0" stroke="rgba(255,255,255,0.08)" stroke-width="1"/><line x1="1742.5" y1="765" x2="1742.5" y2="945.0" stroke="rgba(255,255,255,0.08)" stroke-width="1"/><line x1="98.5" y1="765" x2="98.5" y2="945.0" stroke="#202020" stroke-width="1"/><line x1="98" y1="944.5" x2="1794" y2="944.5" stroke="#c000c4" stroke-width="1" opacity="0.55"/></svg>
<div class="t" style="left:-305.00px;width:400px;text-align:right;top:941.65px;font-size:14px;line-height:14px;color:#929292;">0</div>
<div class="t" style="left:-305.00px;width:400px;text-align:right;top:859.65px;font-size:14px;line-height:14px;color:#929292;">0.5</div>
<div class="t" style="left:-305.00px;width:400px;text-align:right;top:777.65px;font-size:14px;line-height:14px;color:#929292;">1</div>
<div class="t" style="left:-13.33px;width:400px;text-align:center;top:952.15px;font-size:14px;line-height:14px;color:#929292;">08:50</div>
<div class="t" style="left:128.02px;width:400px;text-align:center;top:952.15px;font-size:14px;line-height:14px;color:#929292;">08:55</div>
<div class="t" style="left:269.37px;width:400px;text-align:center;top:952.15px;font-size:14px;line-height:14px;color:#929292;">09:00</div>
<div class="t" style="left:410.72px;width:400px;text-align:center;top:952.15px;font-size:14px;line-height:14px;color:#929292;">09:05</div>
<div class="t" style="left:552.07px;width:400px;text-align:center;top:952.15px;font-size:14px;line-height:14px;color:#929292;">09:10</div>
<div class="t" style="left:693.42px;width:400px;text-align:center;top:952.15px;font-size:14px;line-height:14px;color:#929292;">09:15</div>
<div class="t" style="left:834.77px;width:400px;text-align:center;top:952.15px;font-size:14px;line-height:14px;color:#929292;">09:20</div>
<div class="t" style="left:976.12px;width:400px;text-align:center;top:952.15px;font-size:14px;line-height:14px;color:#929292;">09:25</div>
<div class="t" style="left:1117.47px;width:400px;text-align:center;top:952.15px;font-size:14px;line-height:14px;color:#929292;">09:30</div>
<div class="t" style="left:1258.82px;width:400px;text-align:center;top:952.15px;font-size:14px;line-height:14px;color:#929292;">09:35</div>
<div class="t" style="left:1400.17px;width:400px;text-align:center;top:952.15px;font-size:14px;line-height:14px;color:#929292;">09:40</div>
<div class="t" style="left:1541.52px;width:400px;text-align:center;top:952.15px;font-size:14px;line-height:14px;color:#929292;">09:45</div>
<div class="t" style="left:-59.5px;top:870px;width:200px;text-align:center;font-size:16px;line-height:16px;letter-spacing:0.15px;color:#b6b6b6;transform:rotate(-90deg);">Kibibytes/s</div>
<div class="t" style="left:96.50px;top:981.96px;font-size:16px;line-height:16px;font-weight:bold;color:#e6e6e6;letter-spacing:-0.9px;">Start:</div>
<div class="t" style="left:141.70px;top:981.96px;font-size:16px;line-height:16px;color:#e6e6e6;letter-spacing:0.12px;">2026-01-13 08:46:55</div>
<div class="t" style="left:951.50px;top:981.96px;font-size:16px;line-height:16px;font-weight:bold;color:#e6e6e6;letter-spacing:-1.4px;">End:</div>
<div class="t" style="left:989.50px;top:981.96px;font-size:16px;line-height:16px;color:#e6e6e6;letter-spacing:0.12px;">2026-01-13 09:46:55</div>
<div class="hr" style="left:1842px;width:419px;top:799px;background:#363636"></div>
<div style="position:absolute;left:1842px;width:419px;top:800px;height:32px;background:#242424"></div>
<div class="t" style="left:1842.00px;top:779.15px;font-size:14px;line-height:14px;font-weight:bold;color:#e6e6e6;letter-spacing:-0.5px;">Key</div>
<div class="t" style="left:2008.60px;top:779.15px;font-size:14px;line-height:14px;font-weight:bold;color:#e6e6e6;">Max</div>
<div class="t" style="left:2090.20px;top:779.15px;font-size:14px;line-height:14px;font-weight:bold;color:#e6e6e6;">Mean</div>
<div class="t" style="left:2177.50px;top:779.15px;font-size:14px;line-height:14px;font-weight:bold;color:#e6e6e6;">Min</div>
<div style="position:absolute;left:1846px;top:808px;width:12px;height:12px;border-radius:50%;background:#0095d5"></div>
<div class="t" style="left:1865.00px;top:808.15px;font-size:14px;line-height:14px;font-weight:bold;color:#e6e6e6;letter-spacing:-0.3px;">Reads</div>
<div class="t" style="left:2008.60px;top:808.15px;font-size:14px;line-height:14px;color:#c4c4c4;">0 B/s</div>
<div class="t" style="left:2090.20px;top:808.15px;font-size:14px;line-height:14px;color:#c4c4c4;">0 B/s</div>
<div class="t" style="left:2177.50px;top:808.15px;font-size:14px;line-height:14px;color:#c4c4c4;">0 B/s</div>
<div style="position:absolute;left:1846px;top:840px;width:12px;height:12px;border-radius:50%;background:#c000c4"></div>
<div class="t" style="left:1865.00px;top:840.15px;font-size:14px;line-height:14px;font-weight:bold;color:#e6e6e6;letter-spacing:-0.3px;">Writes</div>
<div class="t" style="left:2008.60px;top:840.15px;font-size:14px;line-height:14px;color:#c4c4c4;">0 B/s</div>
<div class="t" style="left:2090.20px;top:840.15px;font-size:14px;line-height:14px;color:#c4c4c4;">0 B/s</div>
<div class="t" style="left:2177.50px;top:840.15px;font-size:14px;line-height:14px;color:#c4c4c4;">0 B/s</div>
</body></html>
